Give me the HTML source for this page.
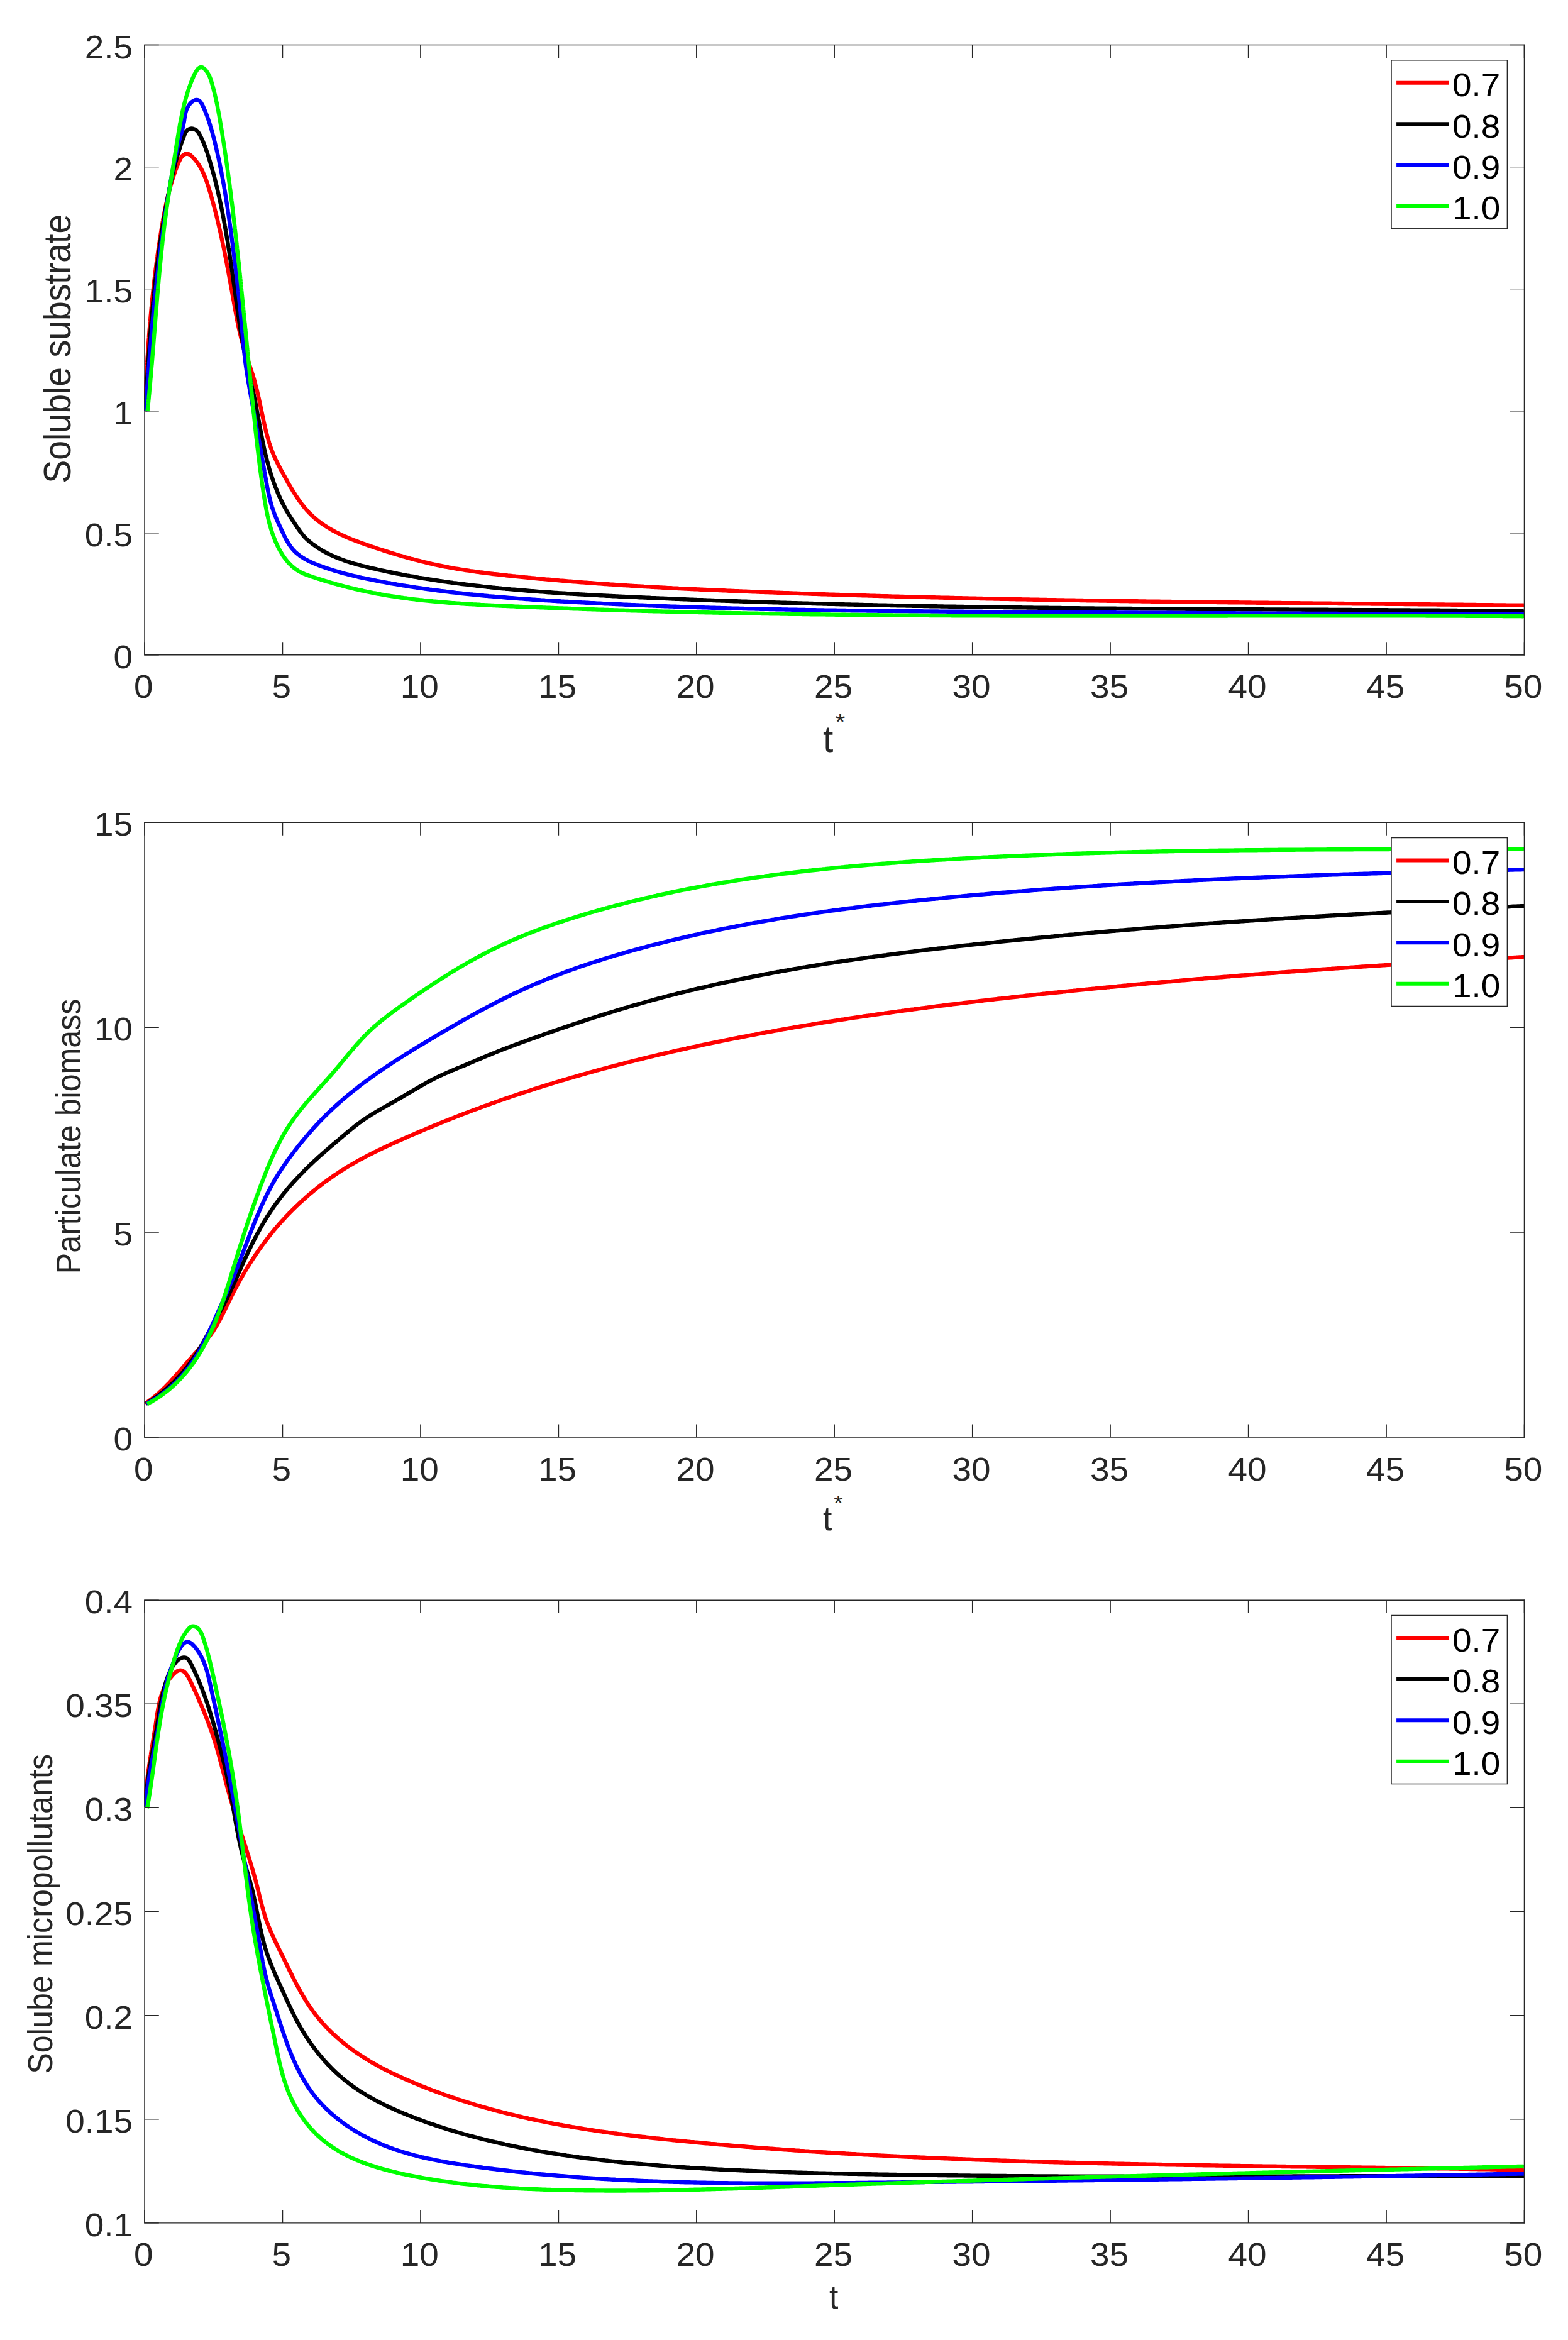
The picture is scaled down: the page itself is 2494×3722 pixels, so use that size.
<!DOCTYPE html>
<html><head><meta charset="utf-8"><title>Figure</title>
<style>html,body{margin:0;padding:0;background:#fff;}body{width:2494px;height:3722px;overflow:hidden;}svg{display:block;}</style>
</head><body>
<svg xmlns="http://www.w3.org/2000/svg" width="2494" height="3722" viewBox="0 0 2494 3722" font-family="'Liberation Sans', Arial, Helvetica, sans-serif">
<rect width="2494" height="3722" fill="#ffffff"/>
<clipPath id="c0"><rect x="229" y="70.5" width="2196.5" height="972.3"/></clipPath>
<g clip-path="url(#c0)" fill="none" stroke-width="6.4" stroke-linejoin="round" stroke-linecap="butt">
<path stroke="#ff0000" d="M230.5 654L230.6 651.5L230.7 649L230.8 646.5L230.9 644L231 641.5L231.1 639L231.2 636.5L231.3 634L231.4 631.5L231.5 629L231.6 626.5L231.7 624L231.8 621.5L232 619L232.1 616.5L232.2 614L232.3 611.5L232.4 609L232.5 606.5L232.7 604L232.8 601.5L232.9 599L233.1 596.5L233.2 594L233.3 591.5L233.5 589L233.6 586.5L233.7 584L233.9 581.5L234 579L234.2 576.5L234.3 574L234.5 571.6L234.6 569.1L234.8 566.6L235 564.1L235.1 561.6L235.3 559.1L235.4 556.6L235.6 554.1L235.8 551.6L236 549.1L236.1 546.6L236.3 544.1L236.5 541.6L236.7 539.2L236.9 536.7L237 534.2L237.2 531.7L237.4 529.2L237.6 526.7L237.8 524.2L238 521.7L238.2 519.2L238.4 516.7L238.6 514.3L238.9 511.8L239.1 509.3L239.3 506.8L239.5 504.3L239.7 501.8L240 499.3L240.2 496.8L240.4 494.4L240.6 491.9L240.9 489.4L241.1 486.9L241.4 484.4L241.6 481.9L241.9 479.5L242.1 477L242.4 474.5L242.6 472L242.9 469.5L243.1 467L243.4 464.5L243.7 462.1L243.9 459.6L244.2 457.1L244.5 454.6L244.8 452.1L245.1 449.7L245.3 447.2L245.6 444.7L245.9 442.2L246.2 439.7L246.5 437.3L246.8 434.8L247.1 432.3L247.4 429.8L247.7 427.3L248.1 424.9L248.4 422.4L248.7 419.9L249 417.4L249.4 414.9L249.7 412.5L250 410L250.4 407.5L250.7 405L251.1 402.6L251.4 400.1L251.8 397.6L252.1 395.1L252.5 392.6L252.8 390.2L253.2 387.7L253.6 385.2L253.9 382.7L254.3 380.3L254.7 377.8L255.1 375.3L255.5 372.8L255.9 370.4L256.3 367.9L256.7 365.4L257.1 362.9L257.5 360.5L257.9 358L258.3 355.5L258.7 353.1L259.2 350.6L259.6 348.1L260.1 345.7L260.5 343.2L261 340.8L261.4 338.3L261.9 335.8L262.4 333.4L262.9 330.9L263.4 328.5L263.9 326.1L264.4 323.6L265 321.2L265.5 318.8L266.1 316.3L266.6 313.9L267.2 311.5L267.8 309.1L268.4 306.7L269 304.3L269.6 301.9L270.3 299.5L270.9 297.1L271.6 294.7L272.3 292.3L273 290L273.7 287.6L274.4 285.2L275.2 282.9L275.9 280.5L276.7 278.2L277.5 275.9L278.3 273.5L279.1 271.2L280 268.9L280.8 266.6L281.8 264.2L282.7 261.8L283.7 259.4L284.8 257L286 254.5L287.2 252.1L288.7 249.8L290.3 247.8L292.2 246.3L294.3 245.2L296.6 244.6L298.8 244.7L300.9 245.5L302.9 246.8L304.8 248.4L306.6 250.2L308.3 252L310 253.9L311.6 255.8L313.1 257.8L314.6 259.8L316 261.8L317.3 263.9L318.6 266.1L319.8 268.2L321 270.4L322.1 272.6L323.1 274.9L324.2 277.1L325.1 279.4L326.1 281.8L327 284.1L327.9 286.5L328.7 288.8L329.5 291.2L330.3 293.6L331.1 296L331.9 298.4L332.6 300.8L333.3 303.3L334.1 305.7L334.8 308.1L335.5 310.5L336.2 312.9L336.9 315.4L337.5 317.8L338.2 320.2L338.9 322.6L339.5 325.1L340.2 327.5L340.8 329.9L341.5 332.4L342.1 334.8L342.7 337.2L343.4 339.6L344 342.1L344.6 344.5L345.2 346.9L345.8 349.4L346.4 351.8L346.9 354.2L347.5 356.7L348.1 359.1L348.6 361.5L349.2 364L349.8 366.4L350.3 368.8L350.9 371.3L351.4 373.7L351.9 376.1L352.5 378.6L353 381L353.5 383.5L354 385.9L354.5 388.3L355 390.8L355.6 393.2L356.1 395.7L356.6 398.1L357 400.6L357.5 403L358 405.4L358.5 407.9L359 410.3L359.5 412.8L359.9 415.2L360.4 417.7L360.9 420.1L361.3 422.6L361.8 425L362.3 427.5L362.7 429.9L363.2 432.4L363.6 434.8L364.1 437.3L364.6 439.7L365 442.2L365.5 444.6L365.9 447.1L366.4 449.5L366.8 452L367.2 454.5L367.7 456.9L368.1 459.4L368.6 461.8L369 464.3L369.5 466.7L369.9 469.2L370.3 471.7L370.8 474.1L371.2 476.6L371.7 479L372.1 481.5L372.6 484L373 486.4L373.4 488.9L373.9 491.4L374.3 493.8L374.8 496.3L375.2 498.8L375.7 501.2L376.2 503.7L376.6 506.1L377.1 508.6L377.6 511.1L378.1 513.5L378.6 516L379.1 518.4L379.6 520.9L380.1 523.3L380.7 525.8L381.2 528.2L381.8 530.6L382.4 533.1L383 535.5L383.6 537.9L384.2 540.3L384.8 542.7L385.5 545.1L386.2 547.6L386.9 550L387.6 552.3L388.3 554.7L389.1 557.1L389.8 559.5L390.6 561.9L391.4 564.2L392.1 566.6L392.9 569L393.7 571.4L394.5 573.7L395.3 576.1L396.1 578.4L396.9 580.8L397.7 583.2L398.5 585.5L399.3 587.9L400.1 590.3L400.8 592.7L401.6 595L402.3 597.4L403 599.8L403.8 602.2L404.5 604.6L405.1 607L405.8 609.4L406.4 611.8L407.1 614.2L407.7 616.6L408.3 619L408.9 621.5L409.4 623.9L410 626.3L410.6 628.7L411.1 631.2L411.7 633.6L412.2 636.1L412.7 638.5L413.2 640.9L413.8 643.4L414.3 645.8L414.8 648.3L415.3 650.7L415.8 653.2L416.3 655.6L416.9 658.1L417.4 660.5L417.9 663L418.4 665.4L418.9 667.9L419.5 670.3L420 672.8L420.6 675.2L421.2 677.7L421.7 680.1L422.3 682.6L422.9 685L423.5 687.4L424.1 689.9L424.8 692.3L425.4 694.7L426.1 697.2L426.8 699.6L427.5 702L428.2 704.4L429 706.8L429.8 709.2L430.6 711.5L431.4 713.9L432.3 716.2L433.2 718.6L434.1 720.9L435 723.1L436 725.4L437 727.7L438 729.9L439.1 732.1L440.2 734.3L441.3 736.5L442.4 738.7L443.5 740.9L444.7 743.1L445.8 745.3L447 747.5L448.2 749.7L449.4 751.9L450.6 754L451.8 756.2L453 758.4L454.2 760.7L455.5 762.9L456.7 765.1L457.9 767.3L459.2 769.5L460.4 771.7L461.7 773.9L463 776.1L464.3 778.2L465.6 780.4L466.9 782.6L468.3 784.7L469.6 786.9L471 789L472.4 791.1L473.8 793.2L475.3 795.3L476.7 797.3L478.2 799.3L479.7 801.4L481.2 803.3L482.8 805.3L484.3 807.2L485.9 809.1L487.5 811L489.2 812.8L490.9 814.7L492.6 816.4L494.3 818.2L496.1 819.9L497.9 821.5L499.7 823.2L501.6 824.8L503.4 826.4L505.4 827.9L507.3 829.4L509.3 830.9L511.2 832.3L513.2 833.7L515.3 835.1L517.3 836.5L519.4 837.8L521.5 839.1L523.6 840.4L525.8 841.7L527.9 842.9L530.1 844.1L532.3 845.3L534.5 846.5L536.7 847.6L539 848.7L541.2 849.8L543.5 850.9L545.8 851.9L548.1 853L550.4 854L552.7 855L555 856L557.4 857L559.7 857.9L562.1 858.9L564.4 859.8L566.8 860.7L569.2 861.6L571.6 862.5L574 863.4L576.4 864.2L578.8 865.1L581.2 865.9L583.6 866.8L586 867.6L588.4 868.4L590.8 869.2L593.2 870.1L595.6 870.9L598 871.7L600.4 872.5L602.8 873.3L605.2 874L607.6 874.8L610 875.6L612.4 876.4L614.8 877.1L617.2 877.9L619.6 878.6L621.9 879.4L624.3 880.1L626.7 880.8L629.1 881.6L631.5 882.3L633.9 883L636.3 883.7L638.7 884.4L641.1 885.1L643.5 885.8L645.9 886.5L648.3 887.1L650.7 887.8L653.1 888.5L655.5 889.1L657.9 889.7L660.3 890.4L662.7 891L665.1 891.6L667.5 892.2L669.9 892.8L672.3 893.4L674.7 894L677.1 894.6L679.5 895.2L682 895.8L684.4 896.3L686.8 896.9L689.2 897.4L691.6 898L694.1 898.5L696.5 899L698.9 899.5L701.3 900L703.8 900.5L706.2 901L708.7 901.5L711.1 901.9L713.5 902.4L716 902.8L718.4 903.3L720.9 903.7L723.3 904.2L725.8 904.6L728.3 905L730.7 905.4L733.2 905.8L735.6 906.2L738.1 906.6L740.6 907L743 907.3L745.5 907.7L748 908.1L750.5 908.4L752.9 908.8L755.4 909.1L757.9 909.5L760.4 909.8L762.8 910.2L765.3 910.5L767.8 910.8L770.3 911.1L772.8 911.4L775.3 911.8L777.7 912.1L780.2 912.4L782.7 912.7L785.2 913L787.7 913.2L790.2 913.5L792.7 913.8L795.2 914.1L797.6 914.4L800.1 914.7L802.6 914.9L805.1 915.2L807.6 915.5L810.1 915.7L812.6 916L815.1 916.3L817.6 916.5L820.1 916.8L822.6 917L825.1 917.3L827.6 917.5L830.1 917.8L832.5 918L835 918.3L837.5 918.5L840 918.8L842.5 919L845 919.3L847.5 919.5L850 919.7L852.5 920L855 920.2L857.5 920.5L860 920.7L862.5 920.9L865 921.1L867.5 921.4L869.9 921.6L872.4 921.8L874.9 922L877.4 922.3L879.9 922.5L882.4 922.7L884.9 922.9L887.4 923.1L889.9 923.4L892.4 923.6L894.9 923.8L897.4 924L899.9 924.2L902.4 924.4L904.9 924.6L907.4 924.8L909.8 925L912.3 925.2L914.8 925.4L917.3 925.6L919.8 925.8L922.3 926L924.8 926.2L927.3 926.4L929.8 926.6L932.3 926.8L934.8 927L937.3 927.2L939.8 927.3L942.3 927.5L944.8 927.7L947.3 927.9L949.8 928.1L952.2 928.3L954.7 928.4L957.2 928.6L959.7 928.8L962.2 929L964.7 929.1L967.2 929.3L969.7 929.5L972.2 929.6L974.7 929.8L977.2 930L979.7 930.2L982.2 930.3L984.7 930.5L987.2 930.6L989.7 930.8L992.2 931L994.7 931.1L997.1 931.3L999.6 931.4L1002.1 931.6L1004.6 931.8L1007.1 931.9L1009.6 932.1L1012.1 932.2L1014.6 932.4L1017.1 932.5L1019.6 932.7L1022.1 932.8L1024.6 933L1027.1 933.1L1029.6 933.3L1032.1 933.4L1034.6 933.5L1037.1 933.7L1039.6 933.8L1042.1 934L1044.6 934.1L1047.1 934.2L1049.5 934.4L1052 934.5L1054.5 934.7L1057 934.8L1059.5 934.9L1062 935.1L1064.5 935.2L1067 935.3L1069.5 935.5L1072 935.6L1074.5 935.7L1077 935.8L1079.5 936L1082 936.1L1084.5 936.2L1087 936.3L1089.5 936.5L1092 936.6L1094.5 936.7L1097 936.8L1099.5 937L1102 937.1L1104.4 937.2L1106.9 937.3L1109.4 937.4L1111.9 937.5L1114.4 937.7L1116.9 937.8L1119.4 937.9L1121.9 938L1124.4 938.1L1126.9 938.2L1129.4 938.4L1131.9 938.5L1134.4 938.6L1136.9 938.7L1139.4 938.8L1141.9 938.9L1144.4 939L1146.9 939.1L1149.4 939.2L1151.9 939.3L1154.4 939.4L1156.9 939.6L1159.4 939.7L1161.9 939.8L1164.4 939.9L1166.9 940L1169.3 940.1L1171.8 940.2L1174.3 940.3L1176.8 940.4L1179.3 940.5L1181.8 940.6L1184.3 940.7L1186.8 940.8L1189.3 940.9L1191.8 941L1194.3 941.1L1196.8 941.2L1199.3 941.3L1201.8 941.4L1204.3 941.5L1206.8 941.6L1209.3 941.7L1211.8 941.8L1214.3 941.9L1216.8 942L1219.3 942L1221.8 942.1L1224.3 942.2L1226.8 942.3L1229.3 942.4L1231.8 942.5L1234.3 942.6L1236.8 942.7L1239.3 942.8L1241.8 942.9L1244.3 943L1246.8 943.1L1249.2 943.2L1251.7 943.3L1254.2 943.3L1256.7 943.4L1259.2 943.5L1261.7 943.6L1264.2 943.7L1266.7 943.8L1269.2 943.9L1271.7 944L1274.2 944.1L1276.7 944.1L1279.2 944.2L1281.7 944.3L1284.2 944.4L1286.7 944.5L1289.2 944.6L1291.7 944.7L1294.2 944.7L1296.7 944.8L1299.2 944.9L1301.7 945L1304.2 945.1L1306.7 945.2L1309.2 945.2L1311.7 945.3L1314.2 945.4L1316.7 945.5L1319.2 945.6L1321.7 945.6L1324.2 945.7L1326.7 945.8L1329.2 945.9L1331.7 946L1334.2 946L1336.7 946.1L1339.2 946.2L1341.7 946.3L1344.2 946.4L1346.7 946.4L1349.2 946.5L1351.7 946.6L1354.2 946.7L1356.7 946.7L1359.1 946.8L1361.6 946.9L1364.1 947L1366.6 947L1369.1 947.1L1371.6 947.2L1374.1 947.3L1376.6 947.3L1379.1 947.4L1381.6 947.5L1384.1 947.6L1386.6 947.6L1389.1 947.7L1391.6 947.8L1394.1 947.9L1396.6 947.9L1399.1 948L1401.6 948.1L1404.1 948.1L1406.6 948.2L1409.1 948.3L1411.6 948.3L1414.1 948.4L1416.6 948.5L1419.1 948.6L1421.6 948.6L1424.1 948.7L1426.6 948.8L1429.1 948.8L1431.6 948.9L1434.1 949L1436.6 949L1439.1 949.1L1441.6 949.2L1444.1 949.2L1446.6 949.3L1449.1 949.4L1451.6 949.4L1454.1 949.5L1456.6 949.6L1459.1 949.6L1461.6 949.7L1464.1 949.7L1466.6 949.8L1469.1 949.9L1471.6 949.9L1474.1 950L1476.6 950.1L1479.1 950.1L1481.6 950.2L1484.1 950.2L1486.6 950.3L1489.1 950.4L1491.6 950.4L1494.1 950.5L1496.6 950.6L1499.1 950.6L1501.6 950.7L1504.1 950.7L1506.6 950.8L1509.1 950.8L1511.6 950.9L1514.1 951L1516.6 951L1519.1 951.1L1521.6 951.1L1524.1 951.2L1526.6 951.3L1529.1 951.3L1531.6 951.4L1534.1 951.4L1536.6 951.5L1539.1 951.5L1541.6 951.6L1544.1 951.7L1546.6 951.7L1549.1 951.8L1551.6 951.8L1554.1 951.9L1556.6 951.9L1559.1 952L1561.6 952L1564.1 952.1L1566.6 952.1L1569.1 952.2L1571.6 952.2L1574.1 952.3L1576.6 952.4L1579.1 952.4L1581.6 952.5L1584.1 952.5L1586.6 952.6L1589 952.6L1591.5 952.7L1594 952.7L1596.5 952.8L1599 952.8L1601.5 952.9L1604 952.9L1606.5 953L1609 953L1611.5 953.1L1614 953.1L1616.5 953.2L1619 953.2L1621.5 953.3L1624 953.3L1626.5 953.4L1629 953.4L1631.5 953.4L1634 953.5L1636.5 953.5L1639 953.6L1641.5 953.6L1644 953.7L1646.5 953.7L1649 953.8L1651.5 953.8L1654 953.9L1656.5 953.9L1659 954L1661.5 954L1664 954L1666.5 954.1L1669 954.1L1671.5 954.2L1674 954.2L1676.5 954.3L1679 954.3L1681.5 954.4L1684 954.4L1686.5 954.4L1689 954.5L1691.5 954.5L1694 954.6L1696.5 954.6L1699 954.7L1701.5 954.7L1704 954.7L1706.5 954.8L1709 954.8L1711.5 954.9L1714 954.9L1716.5 954.9L1719 955L1721.5 955L1724 955.1L1726.5 955.1L1729 955.2L1731.5 955.2L1734 955.2L1736.5 955.3L1739 955.3L1741.5 955.3L1744 955.4L1746.5 955.4L1749 955.5L1751.5 955.5L1754 955.5L1756.5 955.6L1759 955.6L1761.5 955.7L1764 955.7L1766.5 955.7L1769 955.8L1771.5 955.8L1774 955.8L1776.5 955.9L1779 955.9L1781.5 956L1784 956L1786.5 956L1789 956.1L1791.5 956.1L1794 956.1L1796.5 956.2L1799 956.2L1801.5 956.2L1804 956.3L1806.5 956.3L1809 956.3L1811.5 956.4L1814 956.4L1816.5 956.5L1819 956.5L1821.5 956.5L1824 956.6L1826.5 956.6L1829 956.6L1831.5 956.7L1834 956.7L1836.5 956.7L1839 956.8L1841.5 956.8L1844 956.8L1846.5 956.9L1849 956.9L1851.5 956.9L1854 957L1856.5 957L1859 957L1861.5 957L1864 957.1L1866.5 957.1L1869 957.1L1871.5 957.2L1874 957.2L1876.5 957.2L1879 957.3L1881.5 957.3L1884 957.3L1886.5 957.4L1889 957.4L1891.5 957.4L1894.1 957.5L1896.6 957.5L1899.1 957.5L1901.6 957.5L1904.1 957.6L1906.6 957.6L1909.1 957.6L1911.6 957.7L1914.1 957.7L1916.6 957.7L1919.1 957.8L1921.6 957.8L1924.1 957.8L1926.6 957.8L1929.1 957.9L1931.6 957.9L1934.1 957.9L1936.6 958L1939.1 958L1941.6 958L1944.1 958L1946.6 958.1L1949.1 958.1L1951.6 958.1L1954.1 958.2L1956.6 958.2L1959.1 958.2L1961.6 958.2L1964.1 958.3L1966.6 958.3L1969.1 958.3L1971.6 958.4L1974.1 958.4L1976.6 958.4L1979.1 958.4L1981.6 958.5L1984.1 958.5L1986.6 958.5L1989.1 958.5L1991.6 958.6L1994.1 958.6L1996.6 958.6L1999.1 958.7L2001.6 958.7L2004.1 958.7L2006.6 958.7L2009.1 958.8L2011.6 958.8L2014.1 958.8L2016.6 958.8L2019.1 958.9L2021.6 958.9L2024.1 958.9L2026.6 958.9L2029.1 959L2031.6 959L2034.1 959L2036.6 959L2039.1 959.1L2041.6 959.1L2044.1 959.1L2046.6 959.1L2049.1 959.2L2051.6 959.2L2054.1 959.2L2056.6 959.2L2059.1 959.3L2061.6 959.3L2064.1 959.3L2066.6 959.3L2069.1 959.4L2071.6 959.4L2074.1 959.4L2076.6 959.4L2079.1 959.5L2081.6 959.5L2084.1 959.5L2086.6 959.5L2089.1 959.6L2091.6 959.6L2094.1 959.6L2096.6 959.6L2099.1 959.7L2101.6 959.7L2104.1 959.7L2106.6 959.7L2109.1 959.8L2111.6 959.8L2114.1 959.8L2116.6 959.8L2119.1 959.9L2121.6 959.9L2124.1 959.9L2126.6 959.9L2129.1 960L2131.6 960L2134.1 960L2136.6 960L2139.1 960.1L2141.6 960.1L2144.1 960.1L2146.6 960.1L2149.1 960.1L2151.6 960.2L2154.1 960.2L2156.6 960.2L2159.1 960.2L2161.6 960.3L2164.1 960.3L2166.6 960.3L2169.1 960.3L2171.6 960.4L2174.1 960.4L2176.6 960.4L2179.1 960.4L2181.6 960.5L2184.1 960.5L2186.6 960.5L2189.1 960.5L2191.6 960.5L2194.1 960.6L2196.6 960.6L2199.1 960.6L2201.6 960.6L2204.1 960.7L2206.6 960.7L2209.1 960.7L2211.6 960.7L2214.1 960.8L2216.6 960.8L2219.1 960.8L2221.6 960.8L2224.1 960.9L2226.6 960.9L2229.1 960.9L2231.6 960.9L2234.1 961L2236.6 961L2239.1 961L2241.5 961L2244 961L2246.5 961.1L2249 961.1L2251.5 961.1L2254 961.1L2256.5 961.2L2259 961.2L2261.5 961.2L2264 961.2L2266.5 961.3L2269 961.3L2271.5 961.3L2274 961.3L2276.5 961.4L2279 961.4L2281.5 961.4L2284 961.4L2286.5 961.5L2289 961.5L2291.5 961.5L2294 961.5L2296.5 961.5L2299 961.6L2301.5 961.6L2304 961.6L2306.5 961.6L2309 961.7L2311.5 961.7L2314 961.7L2316.5 961.7L2319 961.8L2321.5 961.8L2324 961.8L2326.5 961.8L2329 961.9L2331.5 961.9L2334 961.9L2336.5 961.9L2339 962L2341.5 962L2344 962L2346.5 962L2349 962.1L2351.5 962.1L2354 962.1L2356.5 962.1L2359 962.2L2361.5 962.2L2364 962.2L2366.5 962.2L2369 962.3L2371.5 962.3L2374 962.3L2376.5 962.4L2379 962.4L2381.5 962.4L2384 962.4L2386.5 962.5L2389 962.5L2391.5 962.5L2394 962.5L2396.5 962.6L2399 962.6L2401.5 962.6L2404 962.6L2406.5 962.7L2409 962.7L2411.5 962.7L2414 962.7L2416.5 962.8L2419 962.8L2421.5 962.8L2424 962.7"/>
<path stroke="#000000" d="M231 654L231.1 651.5L231.3 649L231.4 646.5L231.6 644L231.7 641.5L231.9 639L232 636.5L232.2 634.1L232.3 631.6L232.5 629.1L232.6 626.6L232.8 624.1L232.9 621.6L233.1 619.1L233.2 616.6L233.4 614.1L233.5 611.6L233.7 609.1L233.8 606.6L234 604.1L234.1 601.6L234.3 599.1L234.5 596.7L234.6 594.2L234.8 591.7L234.9 589.2L235.1 586.7L235.3 584.2L235.4 581.7L235.6 579.2L235.8 576.7L235.9 574.2L236.1 571.7L236.3 569.2L236.5 566.7L236.6 564.2L236.8 561.7L237 559.2L237.2 556.8L237.4 554.3L237.6 551.8L237.7 549.3L237.9 546.8L238.1 544.3L238.3 541.8L238.5 539.3L238.7 536.8L238.9 534.3L239.1 531.8L239.3 529.3L239.5 526.8L239.7 524.4L239.9 521.9L240.1 519.4L240.3 516.9L240.5 514.4L240.7 511.9L241 509.4L241.2 506.9L241.4 504.4L241.6 501.9L241.8 499.4L242.1 497L242.3 494.5L242.5 492L242.8 489.5L243 487L243.2 484.5L243.5 482L243.7 479.5L244 477L244.2 474.6L244.5 472.1L244.7 469.6L245 467.1L245.2 464.6L245.5 462.1L245.8 459.6L246 457.2L246.3 454.7L246.6 452.2L246.8 449.7L247.1 447.2L247.4 444.7L247.7 442.3L248 439.8L248.2 437.3L248.5 434.8L248.8 432.3L249.1 429.8L249.4 427.4L249.7 424.9L250 422.4L250.3 419.9L250.6 417.4L251 415L251.3 412.5L251.6 410L251.9 407.5L252.3 405.1L252.6 402.6L252.9 400.1L253.3 397.6L253.6 395.2L253.9 392.7L254.3 390.2L254.6 387.7L255 385.3L255.3 382.8L255.7 380.3L256.1 377.8L256.4 375.4L256.8 372.9L257.2 370.4L257.6 368L257.9 365.5L258.3 363L258.7 360.6L259.1 358.1L259.5 355.6L259.9 353.2L260.3 350.7L260.7 348.2L261.1 345.8L261.6 343.3L262 340.8L262.4 338.4L262.8 335.9L263.3 333.5L263.7 331L264.1 328.5L264.6 326.1L265 323.6L265.5 321.2L265.9 318.7L266.4 316.3L266.9 313.8L267.3 311.3L267.8 308.9L268.3 306.4L268.8 304L269.3 301.5L269.8 299.1L270.3 296.6L270.8 294.2L271.3 291.7L271.8 289.3L272.3 286.9L272.9 284.4L273.4 282L274 279.5L274.6 277.1L275.1 274.7L275.7 272.2L276.3 269.8L276.9 267.4L277.5 265L278.1 262.6L278.8 260.1L279.4 257.7L280.1 255.3L280.7 252.9L281.4 250.5L282.1 248.1L282.8 245.7L283.5 243.3L284.3 240.9L285 238.5L285.8 236.2L286.5 233.8L287.3 231.4L288.1 229L288.9 226.7L289.8 224.3L290.6 222L291.5 219.6L292.4 217.3L293.3 214.9L294.2 212.6L295.2 210.4L296.6 208.4L298.3 206.7L300.4 205.5L302.7 204.8L305.1 204.5L307.6 204.9L309.9 205.7L312 207L313.9 208.7L315.5 210.7L316.8 212.8L318.1 215.1L319.2 217.4L320.4 219.7L321.4 222L322.5 224.3L323.5 226.7L324.5 229L325.4 231.4L326.3 233.7L327.2 236.1L328 238.4L328.9 240.8L329.7 243.1L330.4 245.5L331.2 247.9L332 250.3L332.7 252.7L333.4 255L334.1 257.4L334.8 259.8L335.5 262.2L336.2 264.6L336.9 267L337.6 269.4L338.2 271.8L338.9 274.2L339.6 276.6L340.2 279L340.8 281.4L341.5 283.8L342.1 286.2L342.7 288.7L343.3 291.1L343.9 293.5L344.5 295.9L345.1 298.3L345.6 300.8L346.2 303.2L346.8 305.6L347.3 308L347.9 310.5L348.4 312.9L349 315.3L349.5 317.8L350 320.2L350.6 322.7L351.1 325.1L351.6 327.5L352.1 330L352.6 332.4L353.1 334.9L353.6 337.3L354.1 339.8L354.5 342.2L355 344.7L355.5 347.1L355.9 349.6L356.4 352.1L356.8 354.5L357.3 357L357.7 359.4L358.2 361.9L358.6 364.4L359 366.8L359.5 369.3L359.9 371.7L360.3 374.2L360.7 376.7L361.1 379.1L361.6 381.6L362 384.1L362.4 386.5L362.8 389L363.2 391.5L363.5 394L363.9 396.4L364.3 398.9L364.7 401.4L365.1 403.9L365.5 406.3L365.8 408.8L366.2 411.3L366.6 413.8L366.9 416.2L367.3 418.7L367.7 421.2L368 423.7L368.4 426.1L368.7 428.6L369.1 431.1L369.5 433.6L369.8 436L370.2 438.5L370.5 441L370.9 443.5L371.2 445.9L371.5 448.4L371.9 450.9L372.2 453.4L372.6 455.9L372.9 458.3L373.3 460.8L373.6 463.3L374 465.8L374.3 468.2L374.6 470.7L375 473.2L375.3 475.7L375.7 478.1L376 480.6L376.4 483.1L376.7 485.6L377.1 488L377.4 490.5L377.8 493L378.1 495.4L378.5 497.9L378.8 500.4L379.2 502.9L379.6 505.3L379.9 507.8L380.3 510.3L380.7 512.7L381 515.2L381.4 517.7L381.8 520.1L382.2 522.6L382.6 525.1L383 527.5L383.4 530L383.8 532.4L384.2 534.9L384.6 537.4L385.1 539.8L385.5 542.3L385.9 544.7L386.4 547.2L386.8 549.7L387.3 552.1L387.7 554.6L388.2 557L388.6 559.5L389.1 561.9L389.6 564.4L390.1 566.8L390.6 569.3L391.1 571.7L391.6 574.2L392.1 576.6L392.7 579.1L393.2 581.5L393.7 583.9L394.3 586.4L394.8 588.8L395.4 591.3L395.9 593.7L396.5 596.2L397 598.6L397.6 601L398.2 603.5L398.7 605.9L399.3 608.4L399.8 610.8L400.4 613.2L400.9 615.7L401.5 618.1L402 620.6L402.6 623L403.1 625.4L403.6 627.9L404.2 630.3L404.7 632.8L405.2 635.2L405.7 637.7L406.2 640.1L406.6 642.5L407.1 645L407.6 647.4L408 649.9L408.5 652.3L409 654.8L409.4 657.2L409.8 659.7L410.3 662.1L410.7 664.6L411.2 667L411.6 669.5L412.1 671.9L412.5 674.4L412.9 676.8L413.4 679.3L413.8 681.7L414.3 684.2L414.8 686.6L415.2 689.1L415.7 691.5L416.2 694L416.7 696.4L417.1 698.9L417.6 701.3L418.1 703.8L418.7 706.2L419.2 708.7L419.7 711.1L420.2 713.6L420.8 716L421.4 718.5L421.9 720.9L422.5 723.4L423.1 725.8L423.7 728.2L424.3 730.6L424.9 733.1L425.6 735.5L426.2 737.9L426.9 740.3L427.5 742.7L428.2 745.1L428.9 747.5L429.6 749.9L430.4 752.3L431.1 754.7L431.9 757.1L432.7 759.5L433.5 761.8L434.3 764.2L435.1 766.6L435.9 768.9L436.8 771.2L437.7 773.6L438.6 775.9L439.5 778.2L440.4 780.5L441.4 782.8L442.3 785.1L443.3 787.4L444.3 789.7L445.4 792L446.4 794.2L447.5 796.5L448.6 798.7L449.7 801L450.8 803.2L452 805.4L453.2 807.6L454.4 809.8L455.6 812L456.9 814.2L458.2 816.3L459.5 818.5L460.8 820.6L462.1 822.7L463.5 824.9L464.9 827L466.3 829.1L467.7 831.1L469.1 833.2L470.4 835.2L471.8 837.3L473.2 839.3L474.6 841.3L476 843.3L477.4 845.3L478.8 847.2L480.3 849.1L481.8 851L483.4 852.9L485.1 854.7L486.8 856.4L488.6 858.2L490.5 859.8L492.4 861.5L494.3 863.1L496.3 864.7L498.3 866.2L500.4 867.7L502.5 869.2L504.6 870.6L506.7 872L508.9 873.4L511.1 874.7L513.3 876L515.5 877.2L517.7 878.4L519.9 879.6L522.2 880.8L524.4 881.9L526.7 883L529 884L531.3 885L533.6 886L535.9 887L538.2 887.9L540.5 888.8L542.8 889.7L545.2 890.6L547.5 891.4L549.9 892.3L552.2 893.1L554.6 893.8L557 894.6L559.3 895.3L561.7 896L564.1 896.7L566.5 897.4L568.9 898.1L571.3 898.7L573.7 899.4L576.1 900L578.5 900.6L581 901.2L583.4 901.8L585.8 902.4L588.2 903L590.7 903.6L593.1 904.1L595.5 904.7L598 905.2L600.4 905.8L602.8 906.3L605.3 906.9L607.7 907.4L610.2 907.9L612.6 908.4L615 909L617.5 909.5L619.9 910L622.4 910.5L624.8 911L627.3 911.5L629.7 912L632.2 912.5L634.6 912.9L637.1 913.4L639.6 913.9L642 914.3L644.5 914.8L646.9 915.3L649.4 915.7L651.8 916.2L654.3 916.6L656.8 917L659.2 917.5L661.7 917.9L664.2 918.3L666.6 918.8L669.1 919.2L671.6 919.6L674 920L676.5 920.4L679 920.8L681.4 921.2L683.9 921.6L686.4 922L688.8 922.4L691.3 922.8L693.8 923.1L696.3 923.5L698.7 923.9L701.2 924.3L703.7 924.6L706.2 925L708.6 925.3L711.1 925.7L713.6 926L716.1 926.4L718.5 926.7L721 927.1L723.5 927.4L726 927.7L728.5 928.1L730.9 928.4L733.4 928.7L735.9 929L738.4 929.3L740.9 929.6L743.3 929.9L745.8 930.3L748.3 930.6L750.8 930.9L753.3 931.1L755.7 931.4L758.2 931.7L760.7 932L763.2 932.3L765.7 932.6L768.2 932.9L770.6 933.1L773.1 933.4L775.6 933.7L778.1 933.9L780.6 934.2L783.1 934.5L785.6 934.7L788 935L790.5 935.2L793 935.5L795.5 935.7L798 936L800.5 936.2L803 936.4L805.4 936.7L807.9 936.9L810.4 937.1L812.9 937.4L815.4 937.6L817.9 937.8L820.4 938L822.9 938.2L825.3 938.5L827.8 938.7L830.3 938.9L832.8 939.1L835.3 939.3L837.8 939.5L840.3 939.7L842.8 939.9L845.3 940.1L847.8 940.3L850.2 940.5L852.7 940.7L855.2 940.9L857.7 941.1L860.2 941.3L862.7 941.4L865.2 941.6L867.7 941.8L870.2 942L872.7 942.2L875.2 942.3L877.6 942.5L880.1 942.7L882.6 942.9L885.1 943L887.6 943.2L890.1 943.4L892.6 943.5L895.1 943.7L897.6 943.8L900.1 944L902.6 944.2L905.1 944.3L907.6 944.5L910.1 944.6L912.6 944.8L915 944.9L917.5 945.1L920 945.2L922.5 945.4L925 945.5L927.5 945.6L930 945.8L932.5 945.9L935 946.1L937.5 946.2L940 946.3L942.5 946.5L945 946.6L947.5 946.8L950 946.9L952.5 947L955 947.2L957.5 947.3L960 947.4L962.4 947.5L964.9 947.7L967.4 947.8L969.9 947.9L972.4 948L974.9 948.2L977.4 948.3L979.9 948.4L982.4 948.5L984.9 948.7L987.4 948.8L989.9 948.9L992.4 949L994.9 949.1L997.4 949.3L999.9 949.4L1002.4 949.5L1004.9 949.6L1007.4 949.7L1009.9 949.8L1012.4 949.9L1014.9 950.1L1017.4 950.2L1019.9 950.3L1022.4 950.4L1024.9 950.5L1027.3 950.6L1029.8 950.7L1032.3 950.8L1034.8 951L1037.3 951.1L1039.8 951.2L1042.3 951.3L1044.8 951.4L1047.3 951.5L1049.8 951.6L1052.3 951.7L1054.8 951.8L1057.3 951.9L1059.8 952L1062.3 952.1L1064.8 952.2L1067.3 952.3L1069.8 952.5L1072.3 952.6L1074.8 952.7L1077.3 952.8L1079.8 952.9L1082.3 953L1084.8 953.1L1087.3 953.2L1089.8 953.3L1092.3 953.4L1094.8 953.5L1097.3 953.6L1099.8 953.7L1102.3 953.8L1104.7 953.9L1107.2 954L1109.7 954.1L1112.2 954.1L1114.7 954.2L1117.2 954.3L1119.7 954.4L1122.2 954.5L1124.7 954.6L1127.2 954.7L1129.7 954.8L1132.2 954.9L1134.7 955L1137.2 955.1L1139.7 955.2L1142.2 955.3L1144.7 955.4L1147.2 955.5L1149.7 955.5L1152.2 955.6L1154.7 955.7L1157.2 955.8L1159.7 955.9L1162.2 956L1164.7 956.1L1167.2 956.2L1169.7 956.2L1172.2 956.3L1174.7 956.4L1177.2 956.5L1179.7 956.6L1182.2 956.7L1184.7 956.8L1187.2 956.8L1189.7 956.9L1192.1 957L1194.6 957.1L1197.1 957.2L1199.6 957.3L1202.1 957.3L1204.6 957.4L1207.1 957.5L1209.6 957.6L1212.1 957.7L1214.6 957.7L1217.1 957.8L1219.6 957.9L1222.1 958L1224.6 958L1227.1 958.1L1229.6 958.2L1232.1 958.3L1234.6 958.4L1237.1 958.4L1239.6 958.5L1242.1 958.6L1244.6 958.7L1247.1 958.7L1249.6 958.8L1252.1 958.9L1254.6 958.9L1257.1 959L1259.6 959.1L1262.1 959.2L1264.6 959.2L1267.1 959.3L1269.6 959.4L1272.1 959.5L1274.6 959.5L1277.1 959.6L1279.6 959.7L1282.1 959.7L1284.6 959.8L1287.1 959.9L1289.6 959.9L1292.1 960L1294.5 960.1L1297 960.1L1299.5 960.2L1302 960.3L1304.5 960.3L1307 960.4L1309.5 960.5L1312 960.5L1314.5 960.6L1317 960.7L1319.5 960.7L1322 960.8L1324.5 960.9L1327 960.9L1329.5 961L1332 961L1334.5 961.1L1337 961.2L1339.5 961.2L1342 961.3L1344.5 961.4L1347 961.4L1349.5 961.5L1352 961.5L1354.5 961.6L1357 961.6L1359.5 961.7L1362 961.8L1364.5 961.8L1367 961.9L1369.5 961.9L1372 962L1374.5 962.1L1377 962.1L1379.5 962.2L1382 962.2L1384.5 962.3L1387 962.3L1389.5 962.4L1392 962.4L1394.5 962.5L1397 962.6L1399.5 962.6L1402 962.7L1404.5 962.7L1407 962.8L1409.5 962.8L1412 962.9L1414.5 962.9L1417 963L1419.5 963L1422 963.1L1424.4 963.1L1426.9 963.2L1429.4 963.2L1431.9 963.3L1434.4 963.3L1436.9 963.4L1439.4 963.4L1441.9 963.5L1444.4 963.5L1446.9 963.6L1449.4 963.6L1451.9 963.7L1454.4 963.7L1456.9 963.8L1459.4 963.8L1461.9 963.9L1464.4 963.9L1466.9 963.9L1469.4 964L1471.9 964L1474.4 964.1L1476.9 964.1L1479.4 964.2L1481.9 964.2L1484.4 964.3L1486.9 964.3L1489.4 964.3L1491.9 964.4L1494.4 964.4L1496.9 964.5L1499.4 964.5L1501.9 964.6L1504.4 964.6L1506.9 964.6L1509.4 964.7L1511.9 964.7L1514.4 964.8L1516.9 964.8L1519.4 964.8L1521.9 964.9L1524.4 964.9L1526.9 965L1529.4 965L1531.9 965L1534.4 965.1L1536.9 965.1L1539.4 965.2L1541.9 965.2L1544.4 965.2L1546.9 965.3L1549.4 965.3L1551.9 965.3L1554.4 965.4L1556.9 965.4L1559.4 965.5L1561.9 965.5L1564.4 965.5L1566.9 965.6L1569.4 965.6L1571.9 965.6L1574.4 965.7L1576.9 965.7L1579.4 965.7L1581.9 965.8L1584.4 965.8L1586.9 965.8L1589.4 965.9L1591.9 965.9L1594.4 965.9L1596.9 966L1599.3 966L1601.8 966L1604.3 966.1L1606.8 966.1L1609.3 966.1L1611.8 966.2L1614.3 966.2L1616.8 966.2L1619.3 966.3L1621.8 966.3L1624.3 966.3L1626.8 966.4L1629.3 966.4L1631.8 966.4L1634.3 966.5L1636.8 966.5L1639.3 966.5L1641.8 966.5L1644.3 966.6L1646.8 966.6L1649.3 966.6L1651.8 966.7L1654.3 966.7L1656.8 966.7L1659.3 966.7L1661.8 966.8L1664.3 966.8L1666.8 966.8L1669.3 966.9L1671.8 966.9L1674.3 966.9L1676.8 966.9L1679.3 967L1681.8 967L1684.3 967L1686.8 967L1689.3 967.1L1691.8 967.1L1694.3 967.1L1696.8 967.1L1699.3 967.2L1701.8 967.2L1704.3 967.2L1706.8 967.2L1709.3 967.3L1711.8 967.3L1714.3 967.3L1716.8 967.3L1719.3 967.4L1721.8 967.4L1724.3 967.4L1726.8 967.4L1729.3 967.5L1731.8 967.5L1734.3 967.5L1736.8 967.5L1739.3 967.5L1741.8 967.6L1744.3 967.6L1746.8 967.6L1749.3 967.6L1751.8 967.7L1754.3 967.7L1756.8 967.7L1759.3 967.7L1761.8 967.7L1764.3 967.8L1766.8 967.8L1769.3 967.8L1771.8 967.8L1774.3 967.8L1776.8 967.9L1779.3 967.9L1781.8 967.9L1784.3 967.9L1786.8 967.9L1789.3 968L1791.8 968L1794.3 968L1796.8 968L1799.3 968L1801.8 968.1L1804.3 968.1L1806.8 968.1L1809.3 968.1L1811.8 968.1L1814.3 968.2L1816.8 968.2L1819.3 968.2L1821.8 968.2L1824.3 968.2L1826.8 968.3L1829.3 968.3L1831.8 968.3L1834.3 968.3L1836.8 968.3L1839.3 968.3L1841.7 968.4L1844.2 968.4L1846.7 968.4L1849.2 968.4L1851.7 968.4L1854.2 968.4L1856.7 968.5L1859.2 968.5L1861.7 968.5L1864.2 968.5L1866.7 968.5L1869.2 968.5L1871.7 968.6L1874.2 968.6L1876.7 968.6L1879.2 968.6L1881.7 968.6L1884.2 968.6L1886.7 968.7L1889.2 968.7L1891.7 968.7L1894.2 968.7L1896.7 968.7L1899.2 968.7L1901.7 968.7L1904.2 968.8L1906.7 968.8L1909.2 968.8L1911.7 968.8L1914.2 968.8L1916.7 968.8L1919.2 968.8L1921.7 968.9L1924.2 968.9L1926.7 968.9L1929.2 968.9L1931.7 968.9L1934.2 968.9L1936.7 968.9L1939.2 969L1941.7 969L1944.2 969L1946.7 969L1949.2 969L1951.7 969L1954.2 969L1956.7 969.1L1959.2 969.1L1961.7 969.1L1964.2 969.1L1966.7 969.1L1969.2 969.1L1971.7 969.1L1974.2 969.2L1976.7 969.2L1979.2 969.2L1981.7 969.2L1984.2 969.2L1986.7 969.2L1989.2 969.2L1991.7 969.2L1994.2 969.3L1996.7 969.3L1999.2 969.3L2001.7 969.3L2004.2 969.3L2006.7 969.3L2009.2 969.3L2011.7 969.4L2014.2 969.4L2016.7 969.4L2019.2 969.4L2021.7 969.4L2024.2 969.4L2026.7 969.4L2029.2 969.4L2031.7 969.5L2034.2 969.5L2036.7 969.5L2039.2 969.5L2041.7 969.5L2044.2 969.5L2046.7 969.5L2049.2 969.5L2051.7 969.6L2054.2 969.6L2056.7 969.6L2059.2 969.6L2061.7 969.6L2064.2 969.6L2066.7 969.6L2069.2 969.6L2071.7 969.7L2074.2 969.7L2076.7 969.7L2079.2 969.7L2081.7 969.7L2084.2 969.7L2086.7 969.7L2089.2 969.7L2091.7 969.7L2094.2 969.8L2096.7 969.8L2099.2 969.8L2101.7 969.8L2104.2 969.8L2106.7 969.8L2109.2 969.8L2111.7 969.8L2114.2 969.9L2116.6 969.9L2119.1 969.9L2121.6 969.9L2124.1 969.9L2126.6 969.9L2129.1 969.9L2131.6 970L2134.1 970L2136.6 970L2139.1 970L2141.6 970L2144.1 970L2146.6 970L2149.1 970L2151.6 970.1L2154.1 970.1L2156.6 970.1L2159.1 970.1L2161.6 970.1L2164.1 970.1L2166.6 970.1L2169.1 970.1L2171.6 970.2L2174.1 970.2L2176.6 970.2L2179.1 970.2L2181.6 970.2L2184.1 970.2L2186.6 970.2L2189.1 970.3L2191.6 970.3L2194.1 970.3L2196.6 970.3L2199.1 970.3L2201.6 970.3L2204.1 970.3L2206.6 970.3L2209.1 970.4L2211.6 970.4L2214.1 970.4L2216.6 970.4L2219.1 970.4L2221.6 970.4L2224.1 970.4L2226.6 970.5L2229.1 970.5L2231.6 970.5L2234.1 970.5L2236.6 970.5L2239.1 970.5L2241.6 970.5L2244.1 970.6L2246.6 970.6L2249.1 970.6L2251.6 970.6L2254.1 970.6L2256.6 970.6L2259.1 970.7L2261.6 970.7L2264.1 970.7L2266.6 970.7L2269.1 970.7L2271.6 970.7L2274.1 970.7L2276.6 970.8L2279.1 970.8L2281.6 970.8L2284.1 970.8L2286.6 970.8L2289.1 970.8L2291.6 970.9L2294.1 970.9L2296.6 970.9L2299.1 970.9L2301.6 970.9L2304.1 970.9L2306.6 971L2309.1 971L2311.6 971L2314.1 971L2316.6 971L2319.1 971.1L2321.6 971.1L2324.1 971.1L2326.5 971.1L2329 971.1L2331.5 971.1L2334 971.2L2336.5 971.2L2339 971.2L2341.5 971.2L2344 971.2L2346.5 971.3L2349 971.3L2351.5 971.3L2354 971.3L2356.5 971.3L2359 971.3L2361.5 971.4L2364 971.4L2366.5 971.4L2369 971.4L2371.5 971.4L2374 971.5L2376.5 971.5L2379 971.5L2381.5 971.5L2384 971.6L2386.5 971.6L2389 971.6L2391.5 971.6L2394 971.6L2396.5 971.7L2399 971.7L2401.5 971.7L2404 971.7L2406.5 971.7L2409 971.8L2411.5 971.8L2414 971.8L2416.5 971.8L2419 971.9L2421.5 971.9L2424 971.6"/>
<path stroke="#0000ff" d="M231.5 654L231.9 651.5L232 649L232.2 646.5L232.3 644L232.5 641.5L232.7 639.1L232.8 636.6L233 634.1L233.2 631.6L233.4 629.1L233.5 626.6L233.7 624.1L233.9 621.6L234.1 619.1L234.2 616.6L234.4 614.1L234.6 611.6L234.8 609.1L234.9 606.7L235.1 604.2L235.3 601.7L235.5 599.2L235.7 596.7L235.9 594.2L236 591.7L236.2 589.2L236.4 586.7L236.6 584.2L236.8 581.7L237 579.2L237.2 576.8L237.4 574.3L237.6 571.8L237.8 569.3L238 566.8L238.2 564.3L238.4 561.8L238.6 559.3L238.8 556.8L239 554.3L239.2 551.8L239.4 549.3L239.6 546.9L239.8 544.4L240 541.9L240.2 539.4L240.4 536.9L240.7 534.4L240.9 531.9L241.1 529.4L241.3 526.9L241.5 524.4L241.8 522L242 519.5L242.2 517L242.4 514.5L242.7 512L242.9 509.5L243.1 507L243.4 504.5L243.6 502L243.8 499.6L244.1 497.1L244.3 494.6L244.6 492.1L244.8 489.6L245 487.1L245.3 484.6L245.5 482.1L245.8 479.7L246 477.2L246.3 474.7L246.6 472.2L246.8 469.7L247.1 467.2L247.3 464.7L247.6 462.2L247.9 459.8L248.1 457.3L248.4 454.8L248.7 452.3L248.9 449.8L249.2 447.3L249.5 444.9L249.8 442.4L250.1 439.9L250.3 437.4L250.6 434.9L250.9 432.4L251.2 430L251.5 427.5L251.8 425L252.1 422.5L252.4 420L252.7 417.5L253 415.1L253.3 412.6L253.6 410.1L253.9 407.6L254.2 405.1L254.5 402.7L254.8 400.2L255.1 397.7L255.5 395.2L255.8 392.8L256.1 390.3L256.4 387.8L256.8 385.3L257.1 382.8L257.4 380.4L257.7 377.9L258.1 375.4L258.4 372.9L258.8 370.5L259.1 368L259.5 365.5L259.8 363L260.2 360.6L260.5 358.1L260.9 355.6L261.2 353.1L261.6 350.7L261.9 348.2L262.3 345.7L262.7 343.3L263 340.8L263.4 338.3L263.8 335.9L264.2 333.4L264.6 330.9L264.9 328.4L265.3 326L265.7 323.5L266.1 321L266.5 318.6L266.9 316.1L267.3 313.6L267.7 311.2L268.1 308.7L268.5 306.2L268.9 303.8L269.3 301.3L269.7 298.9L270.2 296.4L270.6 293.9L271 291.5L271.4 289L271.9 286.5L272.3 284.1L272.7 281.6L273.2 279.2L273.6 276.7L274.1 274.3L274.5 271.8L275 269.3L275.5 266.9L275.9 264.4L276.4 262L276.9 259.5L277.4 257.1L277.9 254.6L278.4 252.2L278.9 249.7L279.5 247.3L280 244.9L280.6 242.4L281.1 240L281.7 237.5L282.3 235.1L282.8 232.7L283.4 230.3L284.1 227.8L284.7 225.4L285.3 223L286 220.6L286.6 218.1L287.3 215.7L288 213.3L288.7 210.9L289.3 208.5L290 206.1L290.6 203.7L291.2 201.2L291.7 198.8L292.2 196.4L292.7 193.9L293.1 191.5L293.4 189L293.8 186.6L294.2 184.2L294.7 181.7L295.2 179.3L295.9 176.9L296.7 174.5L297.7 172.1L298.9 169.7L300.4 167.4L302.1 165.2L303.9 163.1L306 161.4L308.2 160.1L310.4 159.2L312.7 158.9L314.7 159.2L316.5 160L318.1 161.3L319.5 163L320.8 165L322 167.2L323.1 169.5L324.2 171.9L325.2 174.2L326.2 176.6L327.2 179L328.1 181.3L329 183.7L329.9 186.1L330.7 188.5L331.6 190.9L332.4 193.3L333.1 195.6L333.9 198L334.6 200.4L335.4 202.8L336.1 205.2L336.8 207.6L337.4 210L338.1 212.5L338.7 214.9L339.4 217.3L340 219.7L340.6 222.1L341.2 224.5L341.8 226.9L342.4 229.4L343 231.8L343.6 234.2L344.2 236.6L344.7 239.1L345.3 241.5L345.8 243.9L346.4 246.4L346.9 248.8L347.5 251.2L348 253.7L348.5 256.1L349 258.5L349.5 261L350 263.4L350.5 265.9L351 268.3L351.5 270.8L352 273.2L352.5 275.7L352.9 278.1L353.4 280.6L353.9 283L354.3 285.5L354.8 287.9L355.2 290.4L355.7 292.8L356.1 295.3L356.5 297.8L356.9 300.2L357.4 302.7L357.8 305.1L358.2 307.6L358.6 310.1L359 312.5L359.4 315L359.8 317.5L360.2 319.9L360.6 322.4L361 324.9L361.3 327.3L361.7 329.8L362.1 332.3L362.5 334.7L362.8 337.2L363.2 339.7L363.6 342.2L363.9 344.6L364.3 347.1L364.6 349.6L365 352.1L365.3 354.5L365.7 357L366 359.5L366.4 362L366.7 364.4L367 366.9L367.4 369.4L367.7 371.9L368 374.3L368.4 376.8L368.7 379.3L369 381.8L369.3 384.3L369.7 386.7L370 389.2L370.3 391.7L370.6 394.2L371 396.7L371.3 399.1L371.6 401.6L371.9 404.1L372.2 406.6L372.5 409.1L372.8 411.5L373.2 414L373.5 416.5L373.8 419L374.1 421.5L374.4 423.9L374.7 426.4L375 428.9L375.3 431.4L375.6 433.9L375.9 436.3L376.2 438.8L376.5 441.3L376.8 443.8L377.1 446.3L377.4 448.7L377.6 451.2L377.9 453.7L378.2 456.2L378.5 458.7L378.8 461.2L379 463.6L379.3 466.1L379.6 468.6L379.9 471.1L380.1 473.6L380.4 476.1L380.7 478.5L380.9 481L381.2 483.5L381.4 486L381.7 488.5L382 491L382.2 493.5L382.5 495.9L382.7 498.4L382.9 500.9L383.2 503.4L383.4 505.9L383.7 508.4L383.9 510.9L384.1 513.4L384.3 515.9L384.6 518.3L384.8 520.8L385 523.3L385.2 525.8L385.4 528.3L385.7 530.8L385.9 533.3L386.1 535.8L386.3 538.3L386.5 540.8L386.8 543.2L387 545.7L387.2 548.2L387.5 550.7L387.7 553.2L387.9 555.7L388.2 558.2L388.5 560.6L388.7 563.1L389 565.6L389.3 568.1L389.6 570.6L389.9 573.1L390.2 575.5L390.5 578L390.9 580.5L391.2 583L391.6 585.4L391.9 587.9L392.3 590.4L392.7 592.8L393.1 595.3L393.5 597.8L393.9 600.2L394.3 602.7L394.7 605.2L395.1 607.6L395.5 610.1L396 612.6L396.4 615L396.8 617.5L397.3 620L397.7 622.4L398.1 624.9L398.6 627.3L399 629.8L399.5 632.2L399.9 634.7L400.4 637.2L400.8 639.6L401.3 642.1L401.7 644.5L402.2 647L402.6 649.4L403.1 651.9L403.5 654.4L404 656.8L404.4 659.3L404.9 661.7L405.3 664.2L405.7 666.6L406.2 669.1L406.6 671.5L407.1 674L407.5 676.5L408 678.9L408.4 681.4L408.9 683.8L409.3 686.3L409.8 688.7L410.2 691.2L410.6 693.6L411.1 696.1L411.5 698.6L412 701L412.4 703.5L412.9 705.9L413.3 708.4L413.7 710.8L414.2 713.3L414.6 715.8L415.1 718.2L415.5 720.7L415.9 723.1L416.4 725.6L416.8 728.1L417.3 730.5L417.7 733L418.1 735.5L418.6 737.9L419 740.4L419.4 742.9L419.9 745.3L420.3 747.8L420.7 750.3L421.2 752.7L421.6 755.2L422 757.7L422.5 760.1L422.9 762.6L423.3 765.1L423.8 767.5L424.2 770L424.7 772.5L425.1 774.9L425.6 777.4L426.1 779.8L426.6 782.3L427.1 784.7L427.7 787.2L428.2 789.6L428.8 792L429.4 794.5L430 796.9L430.7 799.3L431.3 801.7L432 804.1L432.7 806.4L433.5 808.8L434.3 811.2L435.1 813.5L435.9 815.8L436.8 818.2L437.7 820.5L438.7 822.8L439.6 825.1L440.6 827.3L441.6 829.6L442.7 831.9L443.7 834.2L444.8 836.5L445.9 838.8L446.9 841.1L448 843.4L449.1 845.7L450.2 848L451.3 850.4L452.4 852.6L453.5 854.9L454.7 857.2L455.9 859.4L457.2 861.6L458.5 863.7L459.8 865.9L461.2 867.9L462.6 869.9L464.1 871.9L465.7 873.8L467.3 875.6L469 877.3L470.8 879L472.6 880.6L474.5 882.1L476.4 883.6L478.4 885L480.5 886.4L482.6 887.7L484.7 889L486.9 890.2L489.1 891.3L491.3 892.5L493.6 893.6L495.9 894.6L498.2 895.6L500.5 896.6L502.9 897.6L505.3 898.5L507.6 899.4L510 900.3L512.4 901.2L514.8 902L517.2 902.9L519.6 903.7L522 904.5L524.3 905.3L526.7 906.1L529.1 906.8L531.6 907.6L534 908.3L536.4 909L538.8 909.7L541.2 910.4L543.6 911.1L546 911.7L548.4 912.4L550.9 913L553.3 913.7L555.7 914.3L558.1 914.9L560.6 915.5L563 916.1L565.4 916.6L567.9 917.2L570.3 917.8L572.7 918.3L575.2 918.9L577.6 919.4L580.1 919.9L582.5 920.4L584.9 920.9L587.4 921.4L589.8 921.9L592.3 922.4L594.7 922.9L597.2 923.4L599.6 923.9L602.1 924.3L604.5 924.8L607 925.3L609.4 925.7L611.9 926.2L614.3 926.6L616.8 927.1L619.2 927.5L621.7 928L624.1 928.4L626.6 928.8L629.1 929.2L631.5 929.7L634 930.1L636.4 930.5L638.9 930.9L641.4 931.3L643.8 931.7L646.3 932.1L648.7 932.5L651.2 932.9L653.7 933.3L656.1 933.6L658.6 934L661.1 934.4L663.5 934.8L666 935.1L668.5 935.5L670.9 935.8L673.4 936.2L675.9 936.6L678.3 936.9L680.8 937.2L683.3 937.6L685.8 937.9L688.2 938.3L690.7 938.6L693.2 938.9L695.7 939.2L698.1 939.5L700.6 939.9L703.1 940.2L705.6 940.5L708 940.8L710.5 941.1L713 941.4L715.5 941.7L717.9 942L720.4 942.3L722.9 942.6L725.4 942.9L727.9 943.1L730.3 943.4L732.8 943.7L735.3 944L737.8 944.2L740.3 944.5L742.8 944.8L745.2 945L747.7 945.3L750.2 945.5L752.7 945.8L755.2 946L757.7 946.3L760.2 946.5L762.6 946.8L765.1 947L767.6 947.2L770.1 947.5L772.6 947.7L775.1 947.9L777.6 948.2L780.1 948.4L782.5 948.6L785 948.8L787.5 949.1L790 949.3L792.5 949.5L795 949.7L797.5 949.9L800 950.1L802.5 950.3L805 950.5L807.5 950.7L809.9 950.9L812.4 951.1L814.9 951.3L817.4 951.5L819.9 951.7L822.4 951.9L824.9 952.1L827.4 952.2L829.9 952.4L832.4 952.6L834.9 952.8L837.4 953L839.9 953.1L842.4 953.3L844.9 953.5L847.4 953.7L849.9 953.8L852.3 954L854.8 954.2L857.3 954.3L859.8 954.5L862.3 954.6L864.8 954.8L867.3 955L869.8 955.1L872.3 955.3L874.8 955.4L877.3 955.6L879.8 955.7L882.3 955.9L884.8 956L887.3 956.2L889.8 956.3L892.3 956.5L894.8 956.6L897.3 956.8L899.8 956.9L902.3 957L904.8 957.2L907.3 957.3L909.8 957.5L912.3 957.6L914.8 957.7L917.3 957.9L919.8 958L922.3 958.1L924.8 958.3L927.3 958.4L929.8 958.5L932.3 958.7L934.8 958.8L937.3 958.9L939.8 959.1L942.3 959.2L944.8 959.3L947.2 959.4L949.7 959.6L952.2 959.7L954.7 959.8L957.2 959.9L959.7 960.1L962.2 960.2L964.7 960.3L967.2 960.4L969.7 960.5L972.2 960.6L974.7 960.8L977.2 960.9L979.7 961L982.2 961.1L984.7 961.2L987.2 961.3L989.7 961.4L992.2 961.6L994.7 961.7L997.2 961.8L999.7 961.9L1002.2 962L1004.7 962.1L1007.2 962.2L1009.7 962.3L1012.2 962.4L1014.7 962.5L1017.2 962.6L1019.7 962.7L1022.2 962.8L1024.7 962.9L1027.2 963L1029.7 963.1L1032.2 963.2L1034.7 963.3L1037.2 963.4L1039.7 963.5L1042.2 963.6L1044.7 963.7L1047.2 963.8L1049.7 963.9L1052.2 964L1054.7 964.1L1057.1 964.2L1059.6 964.3L1062.1 964.4L1064.6 964.5L1067.1 964.6L1069.6 964.6L1072.1 964.7L1074.6 964.8L1077.1 964.9L1079.6 965L1082.1 965.1L1084.6 965.2L1087.1 965.3L1089.6 965.3L1092.1 965.4L1094.6 965.5L1097.1 965.6L1099.6 965.7L1102.1 965.7L1104.6 965.8L1107.1 965.9L1109.6 966L1112.1 966.1L1114.6 966.1L1117.1 966.2L1119.6 966.3L1122.1 966.4L1124.6 966.4L1127.1 966.5L1129.6 966.6L1132.1 966.7L1134.6 966.7L1137.1 966.8L1139.6 966.9L1142.1 966.9L1144.6 967L1147.1 967.1L1149.6 967.2L1152.1 967.2L1154.6 967.3L1157.1 967.4L1159.6 967.4L1162.1 967.5L1164.6 967.6L1167.1 967.6L1169.5 967.7L1172 967.8L1174.5 967.8L1177 967.9L1179.5 967.9L1182 968L1184.5 968.1L1187 968.1L1189.5 968.2L1192 968.2L1194.5 968.3L1197 968.4L1199.5 968.4L1202 968.5L1204.5 968.5L1207 968.6L1209.5 968.7L1212 968.7L1214.5 968.8L1217 968.8L1219.5 968.9L1222 968.9L1224.5 969L1227 969L1229.5 969.1L1232 969.1L1234.5 969.2L1237 969.2L1239.5 969.3L1242 969.3L1244.5 969.4L1247 969.4L1249.5 969.5L1252 969.5L1254.5 969.6L1257 969.6L1259.5 969.7L1262 969.7L1264.5 969.8L1267 969.8L1269.5 969.9L1272 969.9L1274.5 969.9L1277 970L1279.5 970L1282 970.1L1284.5 970.1L1286.9 970.2L1289.4 970.2L1291.9 970.2L1294.4 970.3L1296.9 970.3L1299.4 970.4L1301.9 970.4L1304.4 970.4L1306.9 970.5L1309.4 970.5L1311.9 970.6L1314.4 970.6L1316.9 970.6L1319.4 970.7L1321.9 970.7L1324.4 970.8L1326.9 970.8L1329.4 970.8L1331.9 970.9L1334.4 970.9L1336.9 970.9L1339.4 971L1341.9 971L1344.4 971L1346.9 971.1L1349.4 971.1L1351.9 971.1L1354.4 971.2L1356.9 971.2L1359.4 971.2L1361.9 971.3L1364.4 971.3L1366.9 971.3L1369.4 971.4L1371.9 971.4L1374.4 971.4L1376.9 971.4L1379.4 971.5L1381.9 971.5L1384.4 971.5L1386.9 971.6L1389.4 971.6L1391.9 971.6L1394.4 971.6L1396.9 971.7L1399.4 971.7L1401.9 971.7L1404.4 971.7L1406.9 971.8L1409.4 971.8L1411.9 971.8L1414.4 971.9L1416.9 971.9L1419.3 971.9L1421.8 971.9L1424.3 972L1426.8 972L1429.3 972L1431.8 972L1434.3 972.1L1436.8 972.1L1439.3 972.1L1441.8 972.1L1444.3 972.1L1446.8 972.2L1449.3 972.2L1451.8 972.2L1454.3 972.2L1456.8 972.3L1459.3 972.3L1461.8 972.3L1464.3 972.3L1466.8 972.3L1469.3 972.4L1471.8 972.4L1474.3 972.4L1476.8 972.4L1479.3 972.4L1481.8 972.5L1484.3 972.5L1486.8 972.5L1489.3 972.5L1491.8 972.5L1494.3 972.6L1496.8 972.6L1499.3 972.6L1501.8 972.6L1504.3 972.6L1506.8 972.7L1509.3 972.7L1511.8 972.7L1514.3 972.7L1516.8 972.7L1519.3 972.7L1521.8 972.8L1524.3 972.8L1526.8 972.8L1529.3 972.8L1531.8 972.8L1534.3 972.9L1536.8 972.9L1539.3 972.9L1541.8 972.9L1544.3 972.9L1546.8 972.9L1549.3 973L1551.8 973L1554.3 973L1556.8 973L1559.3 973L1561.8 973L1564.3 973.1L1566.8 973.1L1569.3 973.1L1571.8 973.1L1574.3 973.1L1576.8 973.1L1579.3 973.2L1581.8 973.2L1584.3 973.2L1586.8 973.2L1589.3 973.2L1591.7 973.2L1594.2 973.2L1596.7 973.3L1599.2 973.3L1601.7 973.3L1604.2 973.3L1606.7 973.3L1609.2 973.3L1611.7 973.4L1614.2 973.4L1616.7 973.4L1619.2 973.4L1621.7 973.4L1624.2 973.4L1626.7 973.5L1629.2 973.5L1631.7 973.5L1634.2 973.5L1636.7 973.5L1639.2 973.5L1641.7 973.5L1644.2 973.6L1646.7 973.6L1649.2 973.6L1651.7 973.6L1654.2 973.6L1656.7 973.6L1659.2 973.7L1661.7 973.7L1664.2 973.7L1666.7 973.7L1669.2 973.7L1671.7 973.7L1674.2 973.7L1676.7 973.8L1679.2 973.8L1681.7 973.8L1684.2 973.8L1686.7 973.8L1689.2 973.8L1691.7 973.9L1694.2 973.9L1696.7 973.9L1699.2 973.9L1701.7 973.9L1704.2 973.9L1706.7 973.9L1709.2 974L1711.7 974L1714.2 974L1716.7 974L1719.2 974L1721.7 974L1724.2 974L1726.7 974.1L1729.2 974.1L1731.7 974.1L1734.2 974.1L1736.7 974.1L1739.2 974.1L1741.7 974.2L1744.2 974.2L1746.7 974.2L1749.2 974.2L1751.7 974.2L1754.2 974.2L1756.7 974.2L1759.2 974.3L1761.7 974.3L1764.2 974.3L1766.7 974.3L1769.2 974.3L1771.7 974.3L1774.2 974.3L1776.7 974.4L1779.2 974.4L1781.7 974.4L1784.2 974.4L1786.7 974.4L1789.2 974.4L1791.7 974.4L1794.2 974.5L1796.7 974.5L1799.2 974.5L1801.7 974.5L1804.2 974.5L1806.7 974.5L1809.2 974.5L1811.7 974.6L1814.2 974.6L1816.7 974.6L1819.2 974.6L1821.7 974.6L1824.2 974.6L1826.7 974.6L1829.2 974.7L1831.7 974.7L1834.2 974.7L1836.7 974.7L1839.2 974.7L1841.7 974.7L1844.2 974.7L1846.7 974.7L1849.2 974.8L1851.7 974.8L1854.2 974.8L1856.7 974.8L1859.2 974.8L1861.7 974.8L1864.2 974.8L1866.7 974.9L1869.2 974.9L1871.7 974.9L1874.2 974.9L1876.7 974.9L1879.2 974.9L1881.7 974.9L1884.2 974.9L1886.7 975L1889.2 975L1891.7 975L1894.2 975L1896.7 975L1899.2 975L1901.7 975L1904.2 975.1L1906.7 975.1L1909.2 975.1L1911.7 975.1L1914.2 975.1L1916.7 975.1L1919.2 975.1L1921.7 975.1L1924.2 975.2L1926.7 975.2L1929.2 975.2L1931.7 975.2L1934.2 975.2L1936.7 975.2L1939.2 975.2L1941.7 975.2L1944.2 975.3L1946.7 975.3L1949.2 975.3L1951.7 975.3L1954.2 975.3L1956.7 975.3L1959.2 975.3L1961.7 975.3L1964.2 975.3L1966.7 975.4L1969.2 975.4L1971.7 975.4L1974.2 975.4L1976.7 975.4L1979.2 975.4L1981.7 975.4L1984.2 975.4L1986.7 975.5L1989.2 975.5L1991.7 975.5L1994.2 975.5L1996.7 975.5L1999.1 975.5L2001.6 975.5L2004.1 975.5L2006.6 975.5L2009.1 975.6L2011.6 975.6L2014.1 975.6L2016.6 975.6L2019.1 975.6L2021.6 975.6L2024.1 975.6L2026.6 975.6L2029.1 975.6L2031.6 975.7L2034.1 975.7L2036.6 975.7L2039.1 975.7L2041.6 975.7L2044.1 975.7L2046.6 975.7L2049.1 975.7L2051.6 975.7L2054.1 975.8L2056.6 975.8L2059.1 975.8L2061.6 975.8L2064.1 975.8L2066.6 975.8L2069.1 975.8L2071.6 975.8L2074.1 975.8L2076.6 975.9L2079.1 975.9L2081.6 975.9L2084.1 975.9L2086.6 975.9L2089.1 975.9L2091.6 975.9L2094.1 975.9L2096.6 975.9L2099.1 975.9L2101.6 976L2104.1 976L2106.6 976L2109.1 976L2111.6 976L2114.1 976L2116.6 976L2119.1 976L2121.6 976L2124.1 976L2126.6 976L2129.1 976.1L2131.6 976.1L2134.1 976.1L2136.6 976.1L2139.1 976.1L2141.6 976.1L2144.1 976.1L2146.6 976.1L2149.1 976.1L2151.6 976.1L2154.1 976.1L2156.6 976.2L2159.1 976.2L2161.6 976.2L2164.1 976.2L2166.6 976.2L2169.1 976.2L2171.6 976.2L2174.1 976.2L2176.6 976.2L2179.1 976.2L2181.6 976.2L2184.1 976.3L2186.6 976.3L2189.1 976.3L2191.6 976.3L2194.1 976.3L2196.6 976.3L2199.1 976.3L2201.6 976.3L2204.1 976.3L2206.6 976.3L2209.1 976.3L2211.6 976.3L2214.1 976.3L2216.6 976.4L2219.1 976.4L2221.6 976.4L2224.1 976.4L2226.6 976.4L2229.1 976.4L2231.6 976.4L2234.1 976.4L2236.6 976.4L2239.1 976.4L2241.6 976.4L2244.1 976.4L2246.6 976.4L2249.1 976.5L2251.6 976.5L2254.1 976.5L2256.6 976.5L2259.1 976.5L2261.6 976.5L2264.1 976.5L2266.6 976.5L2269.1 976.5L2271.6 976.5L2274.1 976.5L2276.6 976.5L2279.1 976.5L2281.6 976.5L2284.1 976.5L2286.6 976.6L2289.1 976.6L2291.6 976.6L2294.1 976.6L2296.6 976.6L2299.1 976.6L2301.6 976.6L2304.1 976.6L2306.6 976.6L2309.1 976.6L2311.6 976.6L2314.1 976.6L2316.6 976.6L2319.1 976.6L2321.6 976.6L2324.1 976.6L2326.6 976.6L2329 976.7L2331.5 976.7L2334 976.7L2336.5 976.7L2339 976.7L2341.5 976.7L2344 976.7L2346.5 976.7L2349 976.7L2351.5 976.7L2354 976.7L2356.5 976.7L2359 976.7L2361.5 976.7L2364 976.7L2366.5 976.7L2369 976.7L2371.5 976.7L2374 976.7L2376.5 976.7L2379 976.7L2381.5 976.7L2384 976.8L2386.5 976.8L2389 976.8L2391.5 976.8L2394 976.8L2396.5 976.8L2399 976.8L2401.5 976.8L2404 976.8L2406.5 976.8L2409 976.8L2411.5 976.8L2414 976.8L2416.5 976.8L2419 976.8L2421.5 976.8L2424 976.8"/>
<path stroke="#00ff00" d="M234.5 654L234.8 651.5L235.1 649L235.3 646.5L235.6 644.1L235.8 641.6L236.1 639.1L236.3 636.6L236.6 634.1L236.8 631.6L237 629.1L237.3 626.7L237.5 624.2L237.7 621.7L238 619.2L238.2 616.7L238.4 614.2L238.6 611.7L238.9 609.2L239.1 606.7L239.3 604.3L239.5 601.8L239.8 599.3L240 596.8L240.2 594.3L240.4 591.8L240.6 589.3L240.8 586.8L241 584.3L241.2 581.9L241.5 579.4L241.7 576.9L241.9 574.4L242.1 571.9L242.3 569.4L242.5 566.9L242.7 564.4L242.9 561.9L243.1 559.4L243.3 556.9L243.5 554.4L243.7 552L243.9 549.5L244.1 547L244.3 544.5L244.5 542L244.7 539.5L244.9 537L245.1 534.5L245.3 532L245.5 529.5L245.7 527L245.9 524.5L246.1 522L246.3 519.6L246.5 517.1L246.7 514.6L246.9 512.1L247.1 509.6L247.3 507.1L247.5 504.6L247.7 502.1L247.9 499.6L248.1 497.1L248.3 494.6L248.5 492.1L248.7 489.6L248.9 487.2L249.1 484.7L249.3 482.2L249.5 479.7L249.7 477.2L249.9 474.7L250.1 472.2L250.3 469.7L250.5 467.2L250.8 464.7L251 462.2L251.2 459.7L251.4 457.3L251.6 454.8L251.8 452.3L252.1 449.8L252.3 447.3L252.5 444.8L252.7 442.3L253 439.8L253.2 437.3L253.4 434.9L253.6 432.4L253.9 429.9L254.1 427.4L254.4 424.9L254.6 422.4L254.8 419.9L255.1 417.4L255.3 415L255.6 412.5L255.8 410L256.1 407.5L256.3 405L256.6 402.5L256.8 400L257.1 397.6L257.4 395.1L257.6 392.6L257.9 390.1L258.2 387.6L258.4 385.1L258.7 382.7L259 380.2L259.3 377.7L259.6 375.2L259.9 372.7L260.1 370.2L260.4 367.8L260.7 365.3L261 362.8L261.3 360.3L261.6 357.9L262 355.4L262.3 352.9L262.6 350.4L262.9 347.9L263.2 345.5L263.6 343L263.9 340.5L264.2 338L264.6 335.6L264.9 333.1L265.2 330.6L265.6 328.1L265.9 325.7L266.3 323.2L266.7 320.7L267 318.3L267.4 315.8L267.8 313.3L268.1 310.9L268.5 308.4L268.9 305.9L269.3 303.4L269.6 301L270 298.5L270.4 296L270.8 293.6L271.2 291.1L271.6 288.6L272 286.2L272.3 283.7L272.7 281.2L273.1 278.8L273.5 276.3L273.9 273.8L274.3 271.4L274.7 268.9L275.1 266.4L275.5 263.9L275.9 261.5L276.3 259L276.7 256.5L277.1 254.1L277.5 251.6L277.9 249.1L278.3 246.6L278.7 244.2L279.1 241.7L279.5 239.2L279.9 236.7L280.2 234.3L280.6 231.8L281 229.3L281.4 226.8L281.8 224.4L282.2 221.9L282.6 219.4L283 216.9L283.4 214.5L283.8 212L284.2 209.5L284.6 207.1L285.1 204.6L285.5 202.1L285.9 199.7L286.4 197.2L286.8 194.8L287.3 192.3L287.8 189.9L288.3 187.4L288.8 185L289.3 182.5L289.8 180.1L290.3 177.6L290.8 175.2L291.4 172.8L292 170.4L292.5 167.9L293.1 165.5L293.8 163.1L294.4 160.7L295 158.3L295.7 155.9L296.4 153.6L297.1 151.2L297.8 148.8L298.5 146.4L299.3 144.1L300 141.7L300.8 139.4L301.7 137L302.5 134.7L303.4 132.4L304.3 130L305.2 127.7L306.2 125.4L307.2 123L308.3 120.5L309.5 118L310.9 115.5L312.3 113L313.8 110.8L315.4 109L317.2 107.7L319 107L320.9 107L322.8 107.8L324.7 109.2L326.5 110.9L328.2 112.9L329.8 115.1L331.2 117.5L332.5 119.9L333.6 122.3L334.5 124.7L335.4 127L336.1 129.4L336.8 131.7L337.5 134.1L338.2 136.5L338.8 138.9L339.5 141.3L340.1 143.7L340.7 146.1L341.3 148.5L341.9 150.9L342.4 153.3L343 155.7L343.5 158.1L344 160.6L344.6 163L345.1 165.5L345.6 167.9L346.1 170.3L346.5 172.8L347 175.3L347.5 177.7L347.9 180.2L348.4 182.6L348.8 185.1L349.2 187.6L349.7 190L350.1 192.5L350.5 195L350.9 197.5L351.3 199.9L351.7 202.4L352.2 204.9L352.6 207.3L353 209.8L353.4 212.3L353.8 214.8L354.1 217.2L354.5 219.7L354.9 222.2L355.3 224.7L355.7 227.1L356.1 229.6L356.4 232.1L356.8 234.6L357.2 237L357.6 239.5L357.9 242L358.3 244.4L358.7 246.9L359 249.4L359.4 251.9L359.7 254.3L360.1 256.8L360.5 259.3L360.8 261.8L361.2 264.2L361.5 266.7L361.8 269.2L362.2 271.7L362.5 274.1L362.9 276.6L363.2 279.1L363.5 281.6L363.9 284L364.2 286.5L364.5 289L364.9 291.5L365.2 293.9L365.5 296.4L365.8 298.9L366.2 301.4L366.5 303.8L366.8 306.3L367.1 308.8L367.4 311.3L367.7 313.8L368 316.2L368.3 318.7L368.7 321.2L369 323.7L369.3 326.1L369.6 328.6L369.9 331.1L370.2 333.6L370.5 336.1L370.8 338.5L371.1 341L371.3 343.5L371.6 346L371.9 348.5L372.2 350.9L372.5 353.4L372.8 355.9L373.1 358.4L373.4 360.9L373.6 363.3L373.9 365.8L374.2 368.3L374.5 370.8L374.8 373.3L375 375.7L375.3 378.2L375.6 380.7L375.9 383.2L376.2 385.7L376.4 388.2L376.7 390.6L377 393.1L377.2 395.6L377.5 398.1L377.8 400.6L378 403.1L378.3 405.5L378.6 408L378.8 410.5L379.1 413L379.4 415.5L379.6 418L379.9 420.5L380.2 422.9L380.4 425.4L380.7 427.9L380.9 430.4L381.2 432.9L381.4 435.4L381.7 437.9L382 440.4L382.2 442.8L382.5 445.3L382.7 447.8L383 450.3L383.2 452.8L383.5 455.3L383.7 457.8L384 460.3L384.2 462.8L384.5 465.2L384.7 467.7L385 470.2L385.2 472.7L385.5 475.2L385.7 477.7L386 480.2L386.2 482.7L386.5 485.2L386.7 487.6L387 490.1L387.2 492.6L387.5 495.1L387.7 497.6L388 500.1L388.2 502.6L388.5 505.1L388.7 507.6L388.9 510L389.2 512.5L389.4 515L389.7 517.5L389.9 520L390.2 522.5L390.4 525L390.7 527.5L390.9 530L391.1 532.5L391.4 534.9L391.6 537.4L391.9 539.9L392.1 542.4L392.4 544.9L392.6 547.4L392.8 549.9L393.1 552.4L393.3 554.9L393.6 557.3L393.8 559.8L394.1 562.3L394.3 564.8L394.5 567.3L394.8 569.8L395 572.3L395.3 574.8L395.5 577.3L395.8 579.7L396 582.2L396.3 584.7L396.5 587.2L396.8 589.7L397 592.2L397.2 594.7L397.5 597.2L397.7 599.6L398 602.1L398.2 604.6L398.5 607.1L398.7 609.6L399 612.1L399.2 614.6L399.5 617L399.7 619.5L400 622L400.2 624.5L400.5 627L400.7 629.5L401 631.9L401.2 634.4L401.5 636.9L401.8 639.4L402 641.9L402.3 644.4L402.5 646.8L402.8 649.3L403 651.8L403.3 654.3L403.5 656.8L403.8 659.2L404.1 661.7L404.3 664.2L404.6 666.7L404.9 669.2L405.1 671.6L405.4 674.1L405.6 676.6L405.9 679.1L406.2 681.5L406.4 684L406.7 686.5L407 689L407.3 691.5L407.5 693.9L407.8 696.4L408.1 698.9L408.4 701.4L408.6 703.8L408.9 706.3L409.2 708.8L409.5 711.3L409.8 713.7L410.1 716.2L410.4 718.7L410.7 721.2L411 723.6L411.3 726.1L411.6 728.6L411.9 731.1L412.2 733.6L412.5 736L412.8 738.5L413.1 741L413.4 743.5L413.8 746L414.1 748.4L414.4 750.9L414.8 753.4L415.1 755.9L415.4 758.4L415.8 760.8L416.1 763.3L416.5 765.8L416.8 768.3L417.2 770.8L417.5 773.3L417.9 775.7L418.3 778.2L418.6 780.7L419 783.2L419.4 785.7L419.8 788.2L420.2 790.7L420.6 793.2L421 795.7L421.4 798.2L421.8 800.6L422.3 803.1L422.7 805.6L423.2 808.1L423.6 810.6L424.1 813L424.6 815.5L425.1 818L425.6 820.4L426.2 822.9L426.7 825.3L427.3 827.7L427.9 830.2L428.5 832.6L429.2 835L429.9 837.4L430.6 839.8L431.3 842.2L432 844.6L432.8 846.9L433.6 849.3L434.4 851.6L435.3 853.9L436.2 856.2L437.1 858.5L438 860.8L439 863.1L440 865.3L441.1 867.6L442.2 869.8L443.3 872L444.5 874.2L445.7 876.4L446.9 878.5L448.2 880.7L449.5 882.8L450.9 884.8L452.3 886.9L453.8 888.9L455.3 890.8L456.9 892.7L458.5 894.6L460.1 896.4L461.9 898.1L463.6 899.8L465.5 901.5L467.3 903L469.3 904.5L471.3 906L473.3 907.3L475.4 908.6L477.6 909.8L479.9 910.9L482.1 912L484.4 913L486.8 913.9L489.2 914.8L491.6 915.7L494 916.6L496.4 917.4L498.9 918.2L501.3 919L503.7 919.8L506.2 920.6L508.6 921.3L511 922.1L513.5 922.8L515.9 923.6L518.3 924.3L520.8 925.1L523.2 925.8L525.6 926.5L528 927.2L530.5 927.9L532.9 928.6L535.3 929.3L537.7 929.9L540.1 930.6L542.6 931.2L545 931.9L547.4 932.5L549.8 933.2L552.3 933.8L554.7 934.4L557.1 935L559.5 935.6L562 936.2L564.4 936.8L566.8 937.3L569.2 937.9L571.7 938.4L574.1 939L576.5 939.5L579 940.1L581.4 940.6L583.8 941.1L586.3 941.6L588.7 942.1L591.1 942.6L593.6 943.1L596 943.5L598.5 944L600.9 944.5L603.4 944.9L605.8 945.4L608.3 945.8L610.7 946.2L613.2 946.6L615.6 947.1L618.1 947.5L620.5 947.9L623 948.3L625.4 948.6L627.9 949L630.4 949.4L632.8 949.8L635.3 950.1L637.7 950.5L640.2 950.8L642.7 951.2L645.1 951.5L647.6 951.8L650.1 952.2L652.5 952.5L655 952.8L657.5 953.1L660 953.4L662.4 953.7L664.9 954L667.4 954.3L669.8 954.5L672.3 954.8L674.8 955.1L677.3 955.3L679.8 955.6L682.2 955.8L684.7 956.1L687.2 956.3L689.7 956.6L692.2 956.8L694.6 957L697.1 957.3L699.6 957.5L702.1 957.7L704.6 957.9L707.1 958.1L709.6 958.3L712.1 958.5L714.5 958.7L717 958.9L719.5 959.1L722 959.3L724.5 959.5L727 959.7L729.5 959.8L732 960L734.5 960.2L737 960.3L739.5 960.5L742 960.7L744.4 960.8L746.9 961L749.4 961.1L751.9 961.3L754.4 961.4L756.9 961.5L759.4 961.7L761.9 961.8L764.4 962L766.9 962.1L769.4 962.2L771.9 962.4L774.4 962.5L776.9 962.6L779.4 962.7L781.9 962.9L784.4 963L786.9 963.1L789.4 963.2L791.9 963.3L794.4 963.5L796.9 963.6L799.4 963.7L801.9 963.8L804.4 963.9L806.9 964L809.4 964.1L811.9 964.2L814.4 964.3L816.9 964.4L819.4 964.6L821.9 964.7L824.4 964.8L826.9 964.9L829.4 965L831.9 965.1L834.4 965.2L836.9 965.3L839.4 965.4L841.9 965.5L844.4 965.6L846.9 965.7L849.4 965.8L851.9 965.9L854.4 966L856.9 966.1L859.4 966.2L861.9 966.3L864.4 966.4L866.9 966.5L869.4 966.6L871.9 966.7L874.4 966.8L876.9 966.9L879.4 967L881.9 967.1L884.4 967.2L886.9 967.3L889.4 967.4L891.9 967.4L894.4 967.5L896.9 967.6L899.4 967.7L901.9 967.8L904.4 967.9L906.9 968L909.4 968.1L911.9 968.2L914.4 968.3L916.9 968.4L919.4 968.4L921.9 968.5L924.4 968.6L926.9 968.7L929.4 968.8L931.9 968.9L934.4 969L936.9 969.1L939.4 969.1L941.9 969.2L944.4 969.3L946.9 969.4L949.4 969.5L951.9 969.6L954.4 969.6L956.9 969.7L959.4 969.8L961.9 969.9L964.4 970L966.9 970L969.4 970.1L971.9 970.2L974.4 970.3L976.9 970.4L979.4 970.4L981.9 970.5L984.4 970.6L986.9 970.7L989.4 970.7L991.9 970.8L994.4 970.9L996.9 971L999.4 971L1001.9 971.1L1004.4 971.2L1006.9 971.3L1009.4 971.3L1011.9 971.4L1014.4 971.5L1016.9 971.5L1019.4 971.6L1021.9 971.7L1024.4 971.8L1026.9 971.8L1029.4 971.9L1031.9 972L1034.4 972L1036.9 972.1L1039.4 972.2L1041.9 972.2L1044.4 972.3L1046.9 972.4L1049.4 972.4L1051.9 972.5L1054.4 972.6L1056.9 972.6L1059.4 972.7L1061.9 972.8L1064.4 972.8L1066.9 972.9L1069.4 973L1071.9 973L1074.4 973.1L1076.9 973.1L1079.4 973.2L1081.9 973.3L1084.4 973.3L1086.9 973.4L1089.4 973.5L1091.9 973.5L1094.4 973.6L1096.9 973.6L1099.4 973.7L1101.9 973.7L1104.4 973.8L1106.9 973.9L1109.4 973.9L1111.9 974L1114.4 974L1116.9 974.1L1119.4 974.1L1121.9 974.2L1124.4 974.3L1126.9 974.3L1129.4 974.4L1131.9 974.4L1134.4 974.5L1136.9 974.5L1139.4 974.6L1141.9 974.6L1144.4 974.7L1146.9 974.7L1149.4 974.8L1151.9 974.8L1154.4 974.9L1156.9 974.9L1159.4 975L1161.9 975L1164.4 975.1L1166.9 975.1L1169.4 975.2L1171.9 975.2L1174.4 975.3L1176.9 975.3L1179.4 975.4L1181.9 975.4L1184.4 975.5L1186.9 975.5L1189.4 975.6L1191.9 975.6L1194.4 975.7L1196.9 975.7L1199.4 975.7L1201.9 975.8L1204.4 975.8L1206.9 975.9L1209.4 975.9L1211.9 976L1214.4 976L1216.9 976.1L1219.4 976.1L1221.9 976.1L1224.4 976.2L1226.9 976.2L1229.4 976.3L1231.9 976.3L1234.4 976.3L1236.9 976.4L1239.4 976.4L1241.9 976.5L1244.4 976.5L1246.9 976.5L1249.4 976.6L1251.9 976.6L1254.4 976.7L1256.8 976.7L1259.3 976.7L1261.8 976.8L1264.3 976.8L1266.8 976.8L1269.3 976.9L1271.8 976.9L1274.3 976.9L1276.8 977L1279.3 977L1281.8 977L1284.3 977.1L1286.8 977.1L1289.3 977.2L1291.8 977.2L1294.3 977.2L1296.8 977.3L1299.3 977.3L1301.8 977.3L1304.3 977.3L1306.8 977.4L1309.3 977.4L1311.8 977.4L1314.3 977.5L1316.8 977.5L1319.3 977.5L1321.8 977.6L1324.3 977.6L1326.8 977.6L1329.3 977.7L1331.8 977.7L1334.3 977.7L1336.8 977.7L1339.3 977.8L1341.8 977.8L1344.3 977.8L1346.8 977.9L1349.3 977.9L1351.8 977.9L1354.3 977.9L1356.8 978L1359.3 978L1361.8 978L1364.3 978L1366.8 978.1L1369.3 978.1L1371.8 978.1L1374.3 978.1L1376.8 978.2L1379.3 978.2L1381.8 978.2L1384.3 978.2L1386.8 978.3L1389.3 978.3L1391.8 978.3L1394.3 978.3L1396.8 978.3L1399.3 978.4L1401.8 978.4L1404.3 978.4L1406.8 978.4L1409.3 978.5L1411.8 978.5L1414.3 978.5L1416.8 978.5L1419.3 978.5L1421.8 978.6L1424.3 978.6L1426.8 978.6L1429.3 978.6L1431.8 978.6L1434.3 978.7L1436.8 978.7L1439.3 978.7L1441.8 978.7L1444.3 978.7L1446.8 978.7L1449.3 978.8L1451.8 978.8L1454.3 978.8L1456.8 978.8L1459.2 978.8L1461.7 978.9L1464.2 978.9L1466.7 978.9L1469.2 978.9L1471.7 978.9L1474.2 978.9L1476.7 978.9L1479.2 979L1481.7 979L1484.2 979L1486.7 979L1489.2 979L1491.7 979L1494.2 979.1L1496.7 979.1L1499.2 979.1L1501.7 979.1L1504.2 979.1L1506.7 979.1L1509.2 979.1L1511.7 979.1L1514.2 979.2L1516.7 979.2L1519.2 979.2L1521.7 979.2L1524.2 979.2L1526.7 979.2L1529.2 979.2L1531.7 979.2L1534.2 979.2L1536.7 979.3L1539.2 979.3L1541.7 979.3L1544.2 979.3L1546.7 979.3L1549.2 979.3L1551.7 979.3L1554.2 979.3L1556.7 979.3L1559.2 979.3L1561.7 979.4L1564.2 979.4L1566.7 979.4L1569.2 979.4L1571.7 979.4L1574.2 979.4L1576.7 979.4L1579.2 979.4L1581.7 979.4L1584.2 979.4L1586.7 979.4L1589.2 979.4L1591.7 979.5L1594.2 979.5L1596.7 979.5L1599.2 979.5L1601.7 979.5L1604.2 979.5L1606.7 979.5L1609.2 979.5L1611.7 979.5L1614.2 979.5L1616.7 979.5L1619.2 979.5L1621.7 979.5L1624.2 979.5L1626.7 979.5L1629.2 979.5L1631.7 979.6L1634.2 979.6L1636.7 979.6L1639.2 979.6L1641.6 979.6L1644.1 979.6L1646.6 979.6L1649.1 979.6L1651.6 979.6L1654.1 979.6L1656.6 979.6L1659.1 979.6L1661.6 979.6L1664.1 979.6L1666.6 979.6L1669.1 979.6L1671.6 979.6L1674.1 979.6L1676.6 979.6L1679.1 979.6L1681.6 979.6L1684.1 979.6L1686.6 979.6L1689.1 979.6L1691.6 979.6L1694.1 979.6L1696.6 979.6L1699.1 979.6L1701.6 979.6L1704.1 979.6L1706.6 979.6L1709.1 979.6L1711.6 979.6L1714.1 979.6L1716.6 979.6L1719.1 979.6L1721.6 979.6L1724.1 979.6L1726.6 979.6L1729.1 979.6L1731.6 979.6L1734.1 979.6L1736.6 979.6L1739.1 979.6L1741.6 979.6L1744.1 979.6L1746.6 979.6L1749.1 979.6L1751.6 979.6L1754.1 979.6L1756.6 979.6L1759.1 979.6L1761.6 979.6L1764.1 979.6L1766.6 979.6L1769.1 979.6L1771.6 979.6L1774.1 979.6L1776.6 979.6L1779.1 979.6L1781.6 979.6L1784.1 979.6L1786.6 979.6L1789.1 979.6L1791.6 979.6L1794.1 979.6L1796.6 979.6L1799.1 979.6L1801.6 979.6L1804.1 979.6L1806.6 979.6L1809.1 979.6L1811.6 979.6L1814.1 979.6L1816.6 979.6L1819.1 979.6L1821.6 979.6L1824.1 979.6L1826.6 979.6L1829.1 979.6L1831.6 979.6L1834.1 979.6L1836.6 979.6L1839.1 979.6L1841.6 979.6L1844.1 979.6L1846.5 979.6L1849 979.6L1851.5 979.6L1854 979.6L1856.5 979.6L1859 979.6L1861.5 979.6L1864 979.6L1866.5 979.6L1869 979.6L1871.5 979.6L1874 979.6L1876.5 979.6L1879 979.5L1881.5 979.5L1884 979.5L1886.5 979.5L1889 979.5L1891.5 979.5L1894 979.5L1896.5 979.5L1899 979.5L1901.5 979.5L1904 979.5L1906.5 979.5L1909 979.5L1911.5 979.5L1914 979.5L1916.5 979.5L1919 979.5L1921.5 979.5L1924 979.5L1926.5 979.5L1929 979.5L1931.5 979.5L1934 979.5L1936.5 979.5L1939 979.5L1941.5 979.5L1944 979.5L1946.5 979.5L1949 979.5L1951.5 979.5L1954 979.4L1956.5 979.4L1959 979.4L1961.5 979.4L1964 979.4L1966.5 979.4L1969 979.4L1971.5 979.4L1974 979.4L1976.5 979.4L1979 979.4L1981.5 979.4L1984 979.4L1986.5 979.4L1989 979.4L1991.5 979.4L1994 979.4L1996.5 979.4L1999 979.4L2001.5 979.4L2004 979.4L2006.5 979.4L2009 979.4L2011.5 979.4L2014 979.4L2016.5 979.4L2019 979.4L2021.5 979.4L2024 979.4L2026.5 979.4L2029 979.4L2031.5 979.4L2034 979.4L2036.5 979.3L2039 979.3L2041.5 979.3L2044 979.3L2046.5 979.3L2049 979.3L2051.5 979.3L2054 979.3L2056.5 979.3L2059 979.3L2061.5 979.3L2064 979.3L2066.5 979.3L2069 979.3L2071.5 979.3L2074 979.3L2076.5 979.3L2079 979.3L2081.5 979.3L2084 979.3L2086.5 979.3L2089 979.3L2091.5 979.3L2094 979.3L2096.5 979.3L2099 979.3L2101.5 979.3L2104 979.3L2106.5 979.3L2109 979.3L2111.5 979.3L2114 979.3L2116.5 979.3L2119 979.3L2121.5 979.3L2124 979.3L2126.5 979.3L2129 979.3L2131.5 979.3L2134 979.3L2136.5 979.3L2139 979.3L2141.5 979.3L2144 979.3L2146.5 979.3L2149 979.3L2151.5 979.3L2154 979.3L2156.5 979.3L2159 979.3L2161.5 979.3L2164 979.3L2166.5 979.3L2169 979.3L2171.5 979.3L2174 979.3L2176.5 979.3L2179 979.3L2181.5 979.3L2184 979.3L2186.5 979.3L2189 979.3L2191.5 979.3L2194 979.3L2196.5 979.3L2199 979.3L2201.5 979.3L2204 979.3L2206.5 979.3L2209 979.3L2211.5 979.3L2214 979.3L2216.5 979.3L2219 979.4L2221.5 979.4L2224 979.4L2226.5 979.4L2229 979.4L2231.5 979.4L2234 979.4L2236.5 979.4L2239 979.4L2241.5 979.4L2244 979.4L2246.5 979.4L2249 979.4L2251.5 979.4L2254 979.4L2256.5 979.4L2259 979.4L2261.5 979.4L2264 979.4L2266.5 979.4L2269 979.5L2271.5 979.5L2274 979.5L2276.5 979.5L2279 979.5L2281.5 979.5L2284 979.5L2286.5 979.5L2289 979.5L2291.5 979.5L2294 979.5L2296.5 979.5L2299 979.5L2301.5 979.5L2304 979.6L2306.5 979.6L2309 979.6L2311.5 979.6L2314 979.6L2316.5 979.6L2319 979.6L2321.5 979.6L2324 979.6L2326.5 979.6L2329 979.6L2331.5 979.7L2334 979.7L2336.5 979.7L2339 979.7L2341.5 979.7L2344 979.7L2346.5 979.7L2349 979.7L2351.5 979.7L2354 979.8L2356.5 979.8L2359 979.8L2361.5 979.8L2364 979.8L2366.5 979.8L2369 979.8L2371.5 979.8L2374 979.9L2376.5 979.9L2379 979.9L2381.5 979.9L2384 979.9L2386.5 979.9L2389 979.9L2391.5 980L2394 980L2396.5 980L2399 980L2401.5 980L2404 980L2406.5 980.1L2409 980.1L2411.5 980.1L2414 980.1L2416.5 980.1L2419 980.1L2421.5 980.2L2424 979.9"/>
</g>
<path d="M230 1041.8V1021.3M230 71.5V92M449.5 1041.8V1021.3M449.5 71.5V92M668.9 1041.8V1021.3M668.9 71.5V92M888.4 1041.8V1021.3M888.4 71.5V92M1107.8 1041.8V1021.3M1107.8 71.5V92M1327.2 1041.8V1021.3M1327.2 71.5V92M1546.7 1041.8V1021.3M1546.7 71.5V92M1766.1 1041.8V1021.3M1766.1 71.5V92M1985.6 1041.8V1021.3M1985.6 71.5V92M2205.1 1041.8V1021.3M2205.1 71.5V92M2424.5 1041.8V1021.3M2424.5 71.5V92" stroke="#262626" stroke-width="1.5" fill="none"/>
<path d="M230 1041.8H252.8M2424.5 1041.8H2401.8M230 847.7H252.8M2424.5 847.7H2401.8M230 653.7H252.8M2424.5 653.7H2401.8M230 459.6H252.8M2424.5 459.6H2401.8M230 265.6H252.8M2424.5 265.6H2401.8M230 71.5H252.8M2424.5 71.5H2401.8" stroke="#262626" stroke-width="1.4" fill="none"/>
<path d="M229.2 71.5H2425.2 M229.2 1041.8H2425.2" stroke="#262626" stroke-width="1.4" fill="none"/>
<path d="M230 70.8V1042.5 M2424.5 70.8V1042.5" stroke="#262626" stroke-width="1.5" fill="none"/>
<text transform="translate(228.3 1110.3) scale(1.0650 1)" font-size="51.5" fill="#262626" text-anchor="middle">0</text>
<text transform="translate(447.8 1110.3) scale(1.0650 1)" font-size="51.5" fill="#262626" text-anchor="middle">5</text>
<text transform="translate(667.2 1110.3) scale(1.0650 1)" font-size="51.5" fill="#262626" text-anchor="middle">10</text>
<text transform="translate(886.6 1110.3) scale(1.0650 1)" font-size="51.5" fill="#262626" text-anchor="middle">15</text>
<text transform="translate(1106.1 1110.3) scale(1.0650 1)" font-size="51.5" fill="#262626" text-anchor="middle">20</text>
<text transform="translate(1325.5 1110.3) scale(1.0650 1)" font-size="51.5" fill="#262626" text-anchor="middle">25</text>
<text transform="translate(1545 1110.3) scale(1.0650 1)" font-size="51.5" fill="#262626" text-anchor="middle">30</text>
<text transform="translate(1764.4 1110.3) scale(1.0650 1)" font-size="51.5" fill="#262626" text-anchor="middle">35</text>
<text transform="translate(1983.9 1110.3) scale(1.0650 1)" font-size="51.5" fill="#262626" text-anchor="middle">40</text>
<text transform="translate(2203.4 1110.3) scale(1.0650 1)" font-size="51.5" fill="#262626" text-anchor="middle">45</text>
<text transform="translate(2422.8 1110.3) scale(1.0650 1)" font-size="51.5" fill="#262626" text-anchor="middle">50</text>
<text transform="translate(211 1062.8) scale(1.0650 1)" font-size="51.5" fill="#262626" text-anchor="end">0</text>
<text transform="translate(211 868.7) scale(1.0650 1)" font-size="51.5" fill="#262626" text-anchor="end">0.5</text>
<text transform="translate(211 674.7) scale(1.0650 1)" font-size="51.5" fill="#262626" text-anchor="end">1</text>
<text transform="translate(211 480.6) scale(1.0650 1)" font-size="51.5" fill="#262626" text-anchor="end">1.5</text>
<text transform="translate(211 286.6) scale(1.0650 1)" font-size="51.5" fill="#262626" text-anchor="end">2</text>
<text transform="translate(211 92.5) scale(1.0650 1)" font-size="51.5" fill="#262626" text-anchor="end">2.5</text>
<rect x="2213" y="95.8" width="184.4" height="268" fill="#ffffff" stroke="#262626" stroke-width="1.5"/>
<path d="M2221.1 131.8H2304" stroke="#ff0000" stroke-width="6"/>
<text transform="translate(2310 153.1) scale(1.0650 1)" font-size="51.5" fill="#000000">0.7</text>
<path d="M2221.1 197.2H2304" stroke="#000000" stroke-width="6"/>
<text transform="translate(2310 218.5) scale(1.0650 1)" font-size="51.5" fill="#000000">0.8</text>
<path d="M2221.1 262.6H2304" stroke="#0000ff" stroke-width="6"/>
<text transform="translate(2310 283.9) scale(1.0650 1)" font-size="51.5" fill="#000000">0.9</text>
<path d="M2221.1 328H2304" stroke="#00ff00" stroke-width="6"/>
<text transform="translate(2310 349.3) scale(1.0650 1)" font-size="51.5" fill="#000000">1.0</text>
<clipPath id="c1"><rect x="229" y="1307.2" width="2196.5" height="979.9"/></clipPath>
<g clip-path="url(#c1)" fill="none" stroke-width="6.4" stroke-linejoin="round" stroke-linecap="butt">
<path stroke="#ff0000" d="M231 2232.5L233 2231L235.1 2229.6L237.2 2228.1L239.2 2226.7L241.2 2225.2L243.2 2223.6L245.2 2222.1L247.1 2220.5L249 2218.9L250.9 2217.2L252.8 2215.6L254.6 2213.9L256.5 2212.2L258.3 2210.5L260.1 2208.8L261.8 2207L263.6 2205.3L265.3 2203.5L267 2201.7L268.8 2199.9L270.5 2198.1L272.1 2196.3L273.8 2194.4L275.5 2192.6L277.1 2190.7L278.8 2188.9L280.5 2187L282.1 2185.1L283.7 2183.2L285.4 2181.4L287 2179.5L288.6 2177.6L290.3 2175.7L291.9 2173.8L293.5 2171.9L295.2 2170L296.8 2168.1L298.5 2166.2L300.1 2164.3L301.8 2162.4L303.5 2160.6L305.1 2158.7L306.8 2156.8L308.4 2154.9L310.1 2153L311.8 2151.1L313.4 2149.3L315.1 2147.4L316.7 2145.5L318.4 2143.6L320 2141.7L321.6 2139.8L323.2 2137.9L324.9 2136L326.5 2134L328.1 2132.1L329.6 2130.2L331.2 2128.2L332.7 2126.2L334.2 2124.3L335.6 2122.2L337.1 2120.2L338.5 2118.2L339.8 2116.1L341.1 2114L342.4 2111.9L343.7 2109.8L345 2107.6L346.2 2105.5L347.4 2103.3L348.6 2101.1L349.8 2098.9L351 2096.7L352.1 2094.5L353.2 2092.3L354.4 2090.1L355.5 2087.9L356.6 2085.6L357.7 2083.4L358.8 2081.1L359.9 2078.9L360.9 2076.7L362 2074.4L363.1 2072.2L364.2 2069.9L365.3 2067.7L366.4 2065.4L367.5 2063.2L368.6 2060.9L369.8 2058.7L370.9 2056.5L372 2054.2L373.2 2052L374.3 2049.8L375.5 2047.6L376.7 2045.4L377.9 2043.2L379.1 2041L380.3 2038.8L381.5 2036.6L382.7 2034.5L384 2032.3L385.2 2030.1L386.4 2028L387.7 2025.8L389 2023.6L390.2 2021.5L391.5 2019.4L392.8 2017.2L394.1 2015.1L395.5 2013L396.8 2010.9L398.1 2008.7L399.5 2006.6L400.8 2004.5L402.2 2002.5L403.5 2000.4L404.9 1998.3L406.3 1996.2L407.7 1994.2L409.1 1992.1L410.5 1990.1L412 1988L413.4 1986L414.9 1983.9L416.3 1981.9L417.8 1979.9L419.3 1977.9L420.8 1975.9L422.3 1973.9L423.8 1971.9L425.3 1969.9L426.8 1968L428.4 1966L429.9 1964.1L431.5 1962.1L433 1960.2L434.6 1958.2L436.2 1956.3L437.8 1954.4L439.4 1952.5L441 1950.6L442.7 1948.7L444.3 1946.8L446 1945L447.6 1943.1L449.3 1941.3L451 1939.4L452.7 1937.6L454.4 1935.7L456.1 1933.9L457.8 1932.1L459.6 1930.3L461.3 1928.5L463.1 1926.7L464.8 1925L466.6 1923.2L468.4 1921.5L470.2 1919.7L472 1918L473.8 1916.3L475.6 1914.5L477.4 1912.8L479.3 1911.1L481.1 1909.5L483 1907.8L484.9 1906.1L486.7 1904.5L488.6 1902.8L490.5 1901.2L492.4 1899.5L494.3 1897.9L496.3 1896.3L498.2 1894.7L500.1 1893.1L502.1 1891.6L504 1890L506 1888.4L508 1886.9L509.9 1885.4L511.9 1883.9L513.9 1882.3L515.9 1880.8L517.9 1879.3L520 1877.9L522 1876.4L524 1874.9L526.1 1873.5L528.1 1872.1L530.2 1870.6L532.2 1869.2L534.3 1867.8L536.4 1866.4L538.5 1865.1L540.5 1863.7L542.6 1862.3L544.8 1861L546.9 1859.7L549 1858.3L551.1 1857L553.2 1855.7L555.4 1854.4L557.5 1853.2L559.7 1851.9L561.8 1850.7L564 1849.4L566.2 1848.2L568.3 1847L570.5 1845.7L572.7 1844.5L574.9 1843.4L577.1 1842.2L579.3 1841L581.5 1839.8L583.7 1838.7L585.9 1837.5L588.2 1836.4L590.4 1835.3L592.6 1834.2L594.8 1833L597.1 1831.9L599.3 1830.8L601.6 1829.7L603.8 1828.7L606.1 1827.6L608.3 1826.5L610.6 1825.4L612.8 1824.4L615.1 1823.3L617.4 1822.3L619.6 1821.2L621.9 1820.2L624.2 1819.1L626.4 1818.1L628.7 1817.1L631 1816L633.3 1815L635.6 1814L637.8 1813L640.1 1812L642.4 1811L644.7 1810L647 1808.9L649.3 1807.9L651.6 1806.9L653.9 1805.9L656.1 1804.9L658.4 1804L660.7 1803L663 1802L665.3 1801L667.6 1800L669.9 1799L672.2 1798.1L674.5 1797.1L676.8 1796.1L679.1 1795.1L681.4 1794.2L683.7 1793.2L686 1792.2L688.4 1791.3L690.7 1790.3L693 1789.4L695.3 1788.4L697.6 1787.5L699.9 1786.5L702.2 1785.6L704.5 1784.7L706.9 1783.7L709.2 1782.8L711.5 1781.9L713.8 1780.9L716.1 1780L718.5 1779.1L720.8 1778.2L723.1 1777.3L725.4 1776.3L727.8 1775.4L730.1 1774.5L732.4 1773.6L734.7 1772.7L737.1 1771.8L739.4 1770.9L741.7 1770L744.1 1769.2L746.4 1768.3L748.7 1767.4L751.1 1766.5L753.4 1765.6L755.8 1764.8L758.1 1763.9L760.4 1763L762.8 1762.2L765.1 1761.3L767.5 1760.4L769.8 1759.6L772.2 1758.7L774.5 1757.9L776.9 1757L779.2 1756.2L781.6 1755.3L783.9 1754.5L786.3 1753.7L788.6 1752.8L791 1752L793.3 1751.2L795.7 1750.3L798.1 1749.5L800.4 1748.7L802.8 1747.9L805.1 1747.1L807.5 1746.3L809.9 1745.4L812.2 1744.6L814.6 1743.8L817 1743L819.3 1742.2L821.7 1741.4L824.1 1740.6L826.4 1739.9L828.8 1739.1L831.2 1738.3L833.5 1737.5L835.9 1736.7L838.3 1736L840.7 1735.2L843 1734.4L845.4 1733.6L847.8 1732.9L850.2 1732.1L852.6 1731.3L854.9 1730.6L857.3 1729.8L859.7 1729.1L862.1 1728.3L864.5 1727.6L866.8 1726.8L869.2 1726.1L871.6 1725.4L874 1724.6L876.4 1723.9L878.8 1723.2L881.2 1722.4L883.6 1721.7L885.9 1721L888.3 1720.3L890.7 1719.5L893.1 1718.8L895.5 1718.1L897.9 1717.4L900.3 1716.7L902.7 1716L905.1 1715.3L907.5 1714.6L909.9 1713.9L912.3 1713.2L914.7 1712.5L917.1 1711.8L919.5 1711.1L921.9 1710.4L924.3 1709.7L926.7 1709L929.1 1708.4L931.5 1707.7L933.9 1707L936.3 1706.3L938.7 1705.7L941.1 1705L943.6 1704.3L946 1703.7L948.4 1703L950.8 1702.3L953.2 1701.7L955.6 1701L958 1700.4L960.4 1699.7L962.9 1699.1L965.3 1698.4L967.7 1697.8L970.1 1697.1L972.5 1696.5L974.9 1695.9L977.3 1695.2L979.8 1694.6L982.2 1694L984.6 1693.3L987 1692.7L989.4 1692.1L991.9 1691.5L994.3 1690.8L996.7 1690.2L999.1 1689.6L1001.6 1689L1004 1688.4L1006.4 1687.8L1008.8 1687.2L1011.3 1686.6L1013.7 1686L1016.1 1685.4L1018.5 1684.8L1021 1684.2L1023.4 1683.6L1025.8 1683L1028.3 1682.4L1030.7 1681.8L1033.1 1681.2L1035.5 1680.6L1038 1680.1L1040.4 1679.5L1042.8 1678.9L1045.3 1678.3L1047.7 1677.7L1050.1 1677.2L1052.6 1676.6L1055 1676L1057.4 1675.5L1059.9 1674.9L1062.3 1674.3L1064.8 1673.8L1067.2 1673.2L1069.6 1672.7L1072.1 1672.1L1074.5 1671.6L1076.9 1671L1079.4 1670.5L1081.8 1669.9L1084.3 1669.4L1086.7 1668.8L1089.1 1668.3L1091.6 1667.8L1094 1667.2L1096.5 1666.7L1098.9 1666.1L1101.3 1665.6L1103.8 1665.1L1106.2 1664.6L1108.7 1664L1111.1 1663.5L1113.6 1663L1116 1662.5L1118.5 1661.9L1120.9 1661.4L1123.3 1660.9L1125.8 1660.4L1128.2 1659.9L1130.7 1659.4L1133.1 1658.9L1135.6 1658.4L1138 1657.9L1140.5 1657.3L1142.9 1656.8L1145.4 1656.3L1147.8 1655.8L1150.3 1655.4L1152.7 1654.9L1155.2 1654.4L1157.6 1653.9L1160.1 1653.4L1162.5 1652.9L1165 1652.4L1167.4 1651.9L1169.9 1651.4L1172.3 1651L1174.8 1650.5L1177.2 1650L1179.7 1649.5L1182.1 1649L1184.6 1648.6L1187 1648.1L1189.5 1647.6L1191.9 1647.2L1194.4 1646.7L1196.9 1646.2L1199.3 1645.8L1201.8 1645.3L1204.2 1644.8L1206.7 1644.4L1209.1 1643.9L1211.6 1643.5L1214 1643L1216.5 1642.6L1219 1642.1L1221.4 1641.7L1223.9 1641.2L1226.3 1640.8L1228.8 1640.3L1231.2 1639.9L1233.7 1639.4L1236.2 1639L1238.6 1638.5L1241.1 1638.1L1243.5 1637.7L1246 1637.2L1248.5 1636.8L1250.9 1636.4L1253.4 1635.9L1255.8 1635.5L1258.3 1635.1L1260.8 1634.7L1263.2 1634.2L1265.7 1633.8L1268.1 1633.4L1270.6 1633L1273.1 1632.5L1275.5 1632.1L1278 1631.7L1280.5 1631.3L1282.9 1630.9L1285.4 1630.5L1287.8 1630.1L1290.3 1629.7L1292.8 1629.2L1295.2 1628.8L1297.7 1628.4L1300.2 1628L1302.6 1627.6L1305.1 1627.2L1307.6 1626.8L1310 1626.4L1312.5 1626L1315 1625.6L1317.4 1625.2L1319.9 1624.8L1322.4 1624.5L1324.8 1624.1L1327.3 1623.7L1329.8 1623.3L1332.2 1622.9L1334.7 1622.5L1337.2 1622.1L1339.6 1621.7L1342.1 1621.4L1344.6 1621L1347 1620.6L1349.5 1620.2L1352 1619.8L1354.4 1619.5L1356.9 1619.1L1359.4 1618.7L1361.9 1618.3L1364.3 1618L1366.8 1617.6L1369.3 1617.2L1371.7 1616.9L1374.2 1616.5L1376.7 1616.1L1379.2 1615.8L1381.6 1615.4L1384.1 1615.1L1386.6 1614.7L1389 1614.3L1391.5 1614L1394 1613.6L1396.5 1613.3L1398.9 1612.9L1401.4 1612.6L1403.9 1612.2L1406.3 1611.9L1408.8 1611.5L1411.3 1611.2L1413.8 1610.8L1416.2 1610.5L1418.7 1610.1L1421.2 1609.8L1423.7 1609.4L1426.1 1609.1L1428.6 1608.7L1431.1 1608.4L1433.6 1608.1L1436 1607.7L1438.5 1607.4L1441 1607L1443.5 1606.7L1445.9 1606.4L1448.4 1606L1450.9 1605.7L1453.4 1605.4L1455.8 1605L1458.3 1604.7L1460.8 1604.4L1463.3 1604.1L1465.7 1603.7L1468.2 1603.4L1470.7 1603.1L1473.2 1602.8L1475.7 1602.4L1478.1 1602.1L1480.6 1601.8L1483.1 1601.5L1485.6 1601.2L1488 1600.8L1490.5 1600.5L1493 1600.2L1495.5 1599.9L1498 1599.6L1500.4 1599.3L1502.9 1599L1505.4 1598.6L1507.9 1598.3L1510.4 1598L1512.8 1597.7L1515.3 1597.4L1517.8 1597.1L1520.3 1596.8L1522.8 1596.5L1525.2 1596.2L1527.7 1595.9L1530.2 1595.6L1532.7 1595.3L1535.2 1595L1537.6 1594.7L1540.1 1594.4L1542.6 1594.1L1545.1 1593.8L1547.6 1593.5L1550 1593.2L1552.5 1592.9L1555 1592.6L1557.5 1592.3L1560 1592L1562.4 1591.7L1564.9 1591.4L1567.4 1591.1L1569.9 1590.8L1572.4 1590.6L1574.9 1590.3L1577.3 1590L1579.8 1589.7L1582.3 1589.4L1584.8 1589.1L1587.3 1588.8L1589.7 1588.5L1592.2 1588.3L1594.7 1588L1597.2 1587.7L1599.7 1587.4L1602.2 1587.1L1604.6 1586.9L1607.1 1586.6L1609.6 1586.3L1612.1 1586L1614.6 1585.7L1617.1 1585.5L1619.5 1585.2L1622 1584.9L1624.5 1584.6L1627 1584.4L1629.5 1584.1L1632 1583.8L1634.4 1583.5L1636.9 1583.3L1639.4 1583L1641.9 1582.7L1644.4 1582.5L1646.9 1582.2L1649.3 1581.9L1651.8 1581.6L1654.3 1581.4L1656.8 1581.1L1659.3 1580.8L1661.8 1580.6L1664.2 1580.3L1666.7 1580L1669.2 1579.8L1671.7 1579.5L1674.2 1579.3L1676.7 1579L1679.2 1578.7L1681.6 1578.5L1684.1 1578.2L1686.6 1578L1689.1 1577.7L1691.6 1577.4L1694.1 1577.2L1696.6 1576.9L1699 1576.7L1701.5 1576.4L1704 1576.1L1706.5 1575.9L1709 1575.6L1711.5 1575.4L1714 1575.1L1716.4 1574.9L1718.9 1574.6L1721.4 1574.4L1723.9 1574.1L1726.4 1573.9L1728.9 1573.6L1731.4 1573.4L1733.8 1573.1L1736.3 1572.9L1738.8 1572.6L1741.3 1572.4L1743.8 1572.1L1746.3 1571.9L1748.8 1571.6L1751.2 1571.4L1753.7 1571.2L1756.2 1570.9L1758.7 1570.7L1761.2 1570.4L1763.7 1570.2L1766.2 1569.9L1768.7 1569.7L1771.1 1569.5L1773.6 1569.2L1776.1 1569L1778.6 1568.7L1781.1 1568.5L1783.6 1568.3L1786.1 1568L1788.5 1567.8L1791 1567.6L1793.5 1567.3L1796 1567.1L1798.5 1566.9L1801 1566.6L1803.5 1566.4L1806 1566.2L1808.5 1565.9L1810.9 1565.7L1813.4 1565.5L1815.9 1565.2L1818.4 1565L1820.9 1564.8L1823.4 1564.5L1825.9 1564.3L1828.4 1564.1L1830.8 1563.9L1833.3 1563.6L1835.8 1563.4L1838.3 1563.2L1840.8 1563L1843.3 1562.7L1845.8 1562.5L1848.3 1562.3L1850.8 1562.1L1853.2 1561.8L1855.7 1561.6L1858.2 1561.4L1860.7 1561.2L1863.2 1561L1865.7 1560.7L1868.2 1560.5L1870.7 1560.3L1873.2 1560.1L1875.6 1559.9L1878.1 1559.6L1880.6 1559.4L1883.1 1559.2L1885.6 1559L1888.1 1558.8L1890.6 1558.6L1893.1 1558.3L1895.6 1558.1L1898 1557.9L1900.5 1557.7L1903 1557.5L1905.5 1557.3L1908 1557.1L1910.5 1556.9L1913 1556.7L1915.5 1556.4L1918 1556.2L1920.5 1556L1922.9 1555.8L1925.4 1555.6L1927.9 1555.4L1930.4 1555.2L1932.9 1555L1935.4 1554.8L1937.9 1554.6L1940.4 1554.4L1942.9 1554.2L1945.4 1554L1947.8 1553.8L1950.3 1553.6L1952.8 1553.4L1955.3 1553.2L1957.8 1552.9L1960.3 1552.7L1962.8 1552.5L1965.3 1552.3L1967.8 1552.1L1970.3 1551.9L1972.7 1551.7L1975.2 1551.5L1977.7 1551.4L1980.2 1551.2L1982.7 1551L1985.2 1550.8L1987.7 1550.6L1990.2 1550.4L1992.7 1550.2L1995.2 1550L1997.7 1549.8L2000.1 1549.6L2002.6 1549.4L2005.1 1549.2L2007.6 1549L2010.1 1548.8L2012.6 1548.6L2015.1 1548.4L2017.6 1548.2L2020.1 1548.1L2022.6 1547.9L2025.1 1547.7L2027.6 1547.5L2030 1547.3L2032.5 1547.1L2035 1546.9L2037.5 1546.7L2040 1546.5L2042.5 1546.4L2045 1546.2L2047.5 1546L2050 1545.8L2052.5 1545.6L2055 1545.4L2057.5 1545.2L2059.9 1545.1L2062.4 1544.9L2064.9 1544.7L2067.4 1544.5L2069.9 1544.3L2072.4 1544.2L2074.9 1544L2077.4 1543.8L2079.9 1543.6L2082.4 1543.4L2084.9 1543.3L2087.4 1543.1L2089.9 1542.9L2092.3 1542.7L2094.8 1542.5L2097.3 1542.4L2099.8 1542.2L2102.3 1542L2104.8 1541.8L2107.3 1541.7L2109.8 1541.5L2112.3 1541.3L2114.8 1541.1L2117.3 1541L2119.8 1540.8L2122.3 1540.6L2124.7 1540.4L2127.2 1540.3L2129.7 1540.1L2132.2 1539.9L2134.7 1539.7L2137.2 1539.6L2139.7 1539.4L2142.2 1539.2L2144.7 1539.1L2147.2 1538.9L2149.7 1538.7L2152.2 1538.6L2154.7 1538.4L2157.2 1538.2L2159.6 1538.1L2162.1 1537.9L2164.6 1537.7L2167.1 1537.5L2169.6 1537.4L2172.1 1537.2L2174.6 1537.1L2177.1 1536.9L2179.6 1536.7L2182.1 1536.6L2184.6 1536.4L2187.1 1536.2L2189.6 1536.1L2192.1 1535.9L2194.6 1535.7L2197 1535.6L2199.5 1535.4L2202 1535.3L2204.5 1535.1L2207 1534.9L2209.5 1534.8L2212 1534.6L2214.5 1534.4L2217 1534.3L2219.5 1534.1L2222 1534L2224.5 1533.8L2227 1533.7L2229.5 1533.5L2232 1533.3L2234.4 1533.2L2236.9 1533L2239.4 1532.9L2241.9 1532.7L2244.4 1532.6L2246.9 1532.4L2249.4 1532.2L2251.9 1532.1L2254.4 1531.9L2256.9 1531.8L2259.4 1531.6L2261.9 1531.5L2264.4 1531.3L2266.9 1531.2L2269.4 1531L2271.8 1530.9L2274.3 1530.7L2276.8 1530.6L2279.3 1530.4L2281.8 1530.3L2284.3 1530.1L2286.8 1530L2289.3 1529.8L2291.8 1529.7L2294.3 1529.5L2296.8 1529.4L2299.3 1529.2L2301.8 1529.1L2304.3 1528.9L2306.8 1528.8L2309.3 1528.6L2311.8 1528.5L2314.2 1528.3L2316.7 1528.2L2319.2 1528L2321.7 1527.9L2324.2 1527.7L2326.7 1527.6L2329.2 1527.4L2331.7 1527.3L2334.2 1527.1L2336.7 1527L2339.2 1526.9L2341.7 1526.7L2344.2 1526.6L2346.7 1526.4L2349.2 1526.3L2351.7 1526.1L2354.1 1526L2356.6 1525.9L2359.1 1525.7L2361.6 1525.6L2364.1 1525.4L2366.6 1525.3L2369.1 1525.1L2371.6 1525L2374.1 1524.9L2376.6 1524.7L2379.1 1524.6L2381.6 1524.4L2384.1 1524.3L2386.6 1524.2L2389.1 1524L2391.6 1523.9L2394.1 1523.7L2396.5 1523.6L2399 1523.5L2401.5 1523.3L2404 1523.2L2406.5 1523.1L2409 1522.9L2411.5 1522.8L2414 1522.6L2416.5 1522.5L2419 1522.4L2421.5 1522.2L2424 1522.3"/>
<path stroke="#000000" d="M232 2233L234.1 2231.7L236.2 2230.4L238.4 2229L240.5 2227.7L242.6 2226.3L244.6 2224.8L246.7 2223.4L248.7 2222L250.8 2220.5L252.8 2219L254.7 2217.4L256.7 2215.9L258.7 2214.3L260.6 2212.7L262.5 2211.1L264.4 2209.5L266.3 2207.9L268.1 2206.2L270 2204.5L271.8 2202.8L273.6 2201.1L275.4 2199.3L277.2 2197.6L278.9 2195.8L280.6 2194L282.4 2192.2L284 2190.4L285.7 2188.5L287.4 2186.7L289 2184.8L290.6 2182.9L292.2 2181L293.8 2179.1L295.4 2177.1L296.9 2175.2L298.5 2173.2L300 2171.2L301.5 2169.2L302.9 2167.2L304.4 2165.2L305.8 2163.1L307.2 2161.1L308.6 2159L310 2156.9L311.4 2154.8L312.7 2152.7L314 2150.6L315.3 2148.5L316.6 2146.4L317.9 2144.2L319.2 2142.1L320.4 2139.9L321.7 2137.8L322.9 2135.6L324.2 2133.4L325.4 2131.3L326.6 2129.1L327.8 2126.9L329 2124.7L330.2 2122.5L331.4 2120.3L332.6 2118.1L333.8 2115.9L335 2113.7L336.2 2111.5L337.4 2109.3L338.6 2107.1L339.8 2104.9L341 2102.7L342.2 2100.5L343.4 2098.3L344.6 2096.1L345.8 2093.9L347 2091.7L348.2 2089.5L349.4 2087.3L350.6 2085.1L351.8 2082.9L353 2080.7L354.1 2078.5L355.3 2076.3L356.5 2074.1L357.6 2071.9L358.7 2069.7L359.9 2067.5L361 2065.2L362.1 2063L363.2 2060.7L364.3 2058.5L365.4 2056.3L366.4 2054L367.5 2051.7L368.5 2049.5L369.6 2047.2L370.6 2045L371.6 2042.7L372.7 2040.4L373.7 2038.1L374.7 2035.9L375.7 2033.6L376.7 2031.3L377.7 2029L378.7 2026.7L379.8 2024.4L380.8 2022.2L381.8 2019.9L382.8 2017.6L383.8 2015.3L384.8 2013L385.8 2010.7L386.9 2008.5L387.9 2006.2L388.9 2003.9L390 2001.6L391 1999.4L392.1 1997.1L393.2 1994.8L394.2 1992.6L395.3 1990.3L396.4 1988L397.5 1985.8L398.6 1983.5L399.7 1981.3L400.8 1979L401.9 1976.8L403 1974.6L404.2 1972.3L405.3 1970.1L406.5 1967.9L407.6 1965.7L408.8 1963.4L410 1961.2L411.2 1959L412.4 1956.9L413.6 1954.7L414.8 1952.5L416 1950.3L417.3 1948.1L418.5 1946L419.8 1943.8L421.1 1941.7L422.4 1939.6L423.7 1937.4L425 1935.3L426.3 1933.2L427.7 1931.1L429 1929L430.4 1926.9L431.8 1924.8L433.2 1922.8L434.6 1920.7L436 1918.7L437.5 1916.6L438.9 1914.6L440.4 1912.6L441.9 1910.6L443.4 1908.6L444.9 1906.6L446.4 1904.6L447.9 1902.6L449.5 1900.7L451 1898.7L452.6 1896.8L454.2 1894.9L455.8 1892.9L457.4 1891L459 1889.1L460.6 1887.2L462.3 1885.3L463.9 1883.5L465.6 1881.6L467.3 1879.7L469 1877.9L470.6 1876L472.4 1874.2L474.1 1872.4L475.8 1870.6L477.5 1868.8L479.3 1867L481 1865.2L482.8 1863.4L484.5 1861.6L486.3 1859.8L488.1 1858.1L489.9 1856.3L491.7 1854.6L493.5 1852.8L495.3 1851.1L497.1 1849.4L498.9 1847.7L500.8 1846L502.6 1844.3L504.5 1842.6L506.3 1840.9L508.2 1839.2L510 1837.6L511.9 1835.9L513.8 1834.3L515.6 1832.6L517.5 1831L519.4 1829.3L521.3 1827.7L523.2 1826L525.1 1824.4L527 1822.8L528.9 1821.2L530.8 1819.5L532.7 1817.9L534.6 1816.3L536.5 1814.7L538.4 1813.1L540.3 1811.4L542.2 1809.8L544.1 1808.2L546 1806.6L547.9 1805L549.8 1803.4L551.7 1801.8L553.6 1800.2L555.5 1798.6L557.5 1797L559.4 1795.4L561.3 1793.9L563.3 1792.3L565.2 1790.8L567.2 1789.2L569.2 1787.7L571.2 1786.2L573.2 1784.8L575.2 1783.3L577.2 1781.9L579.3 1780.5L581.3 1779.1L583.4 1777.7L585.5 1776.3L587.6 1775L589.7 1773.6L591.8 1772.3L593.9 1771L596.1 1769.7L598.2 1768.5L600.4 1767.2L602.5 1765.9L604.7 1764.7L606.8 1763.4L609 1762.2L611.2 1761L613.4 1759.7L615.6 1758.5L617.7 1757.3L619.9 1756.1L622.1 1754.8L624.3 1753.6L626.5 1752.4L628.6 1751.1L630.8 1749.9L633 1748.6L635.2 1747.4L637.3 1746.1L639.5 1744.9L641.7 1743.6L643.8 1742.4L646 1741.1L648.1 1739.8L650.3 1738.5L652.5 1737.3L654.6 1736L656.8 1734.7L658.9 1733.5L661.1 1732.2L663.2 1730.9L665.4 1729.7L667.5 1728.4L669.7 1727.2L671.9 1725.9L674 1724.7L676.2 1723.5L678.4 1722.3L680.6 1721.1L682.8 1719.9L685 1718.7L687.2 1717.6L689.4 1716.4L691.6 1715.3L693.8 1714.2L696.1 1713.1L698.3 1712L700.6 1711L702.8 1709.9L705.1 1708.9L707.4 1707.9L709.7 1706.9L711.9 1705.9L714.2 1704.9L716.5 1703.9L718.8 1702.9L721.1 1701.9L723.4 1701L725.7 1700L728 1699L730.3 1698.1L732.6 1697.1L735 1696.1L737.3 1695.2L739.6 1694.2L741.9 1693.2L744.2 1692.3L746.5 1691.3L748.8 1690.3L751.1 1689.3L753.4 1688.4L755.7 1687.4L758 1686.4L760.3 1685.4L762.6 1684.5L764.9 1683.5L767.2 1682.5L769.6 1681.5L771.9 1680.6L774.2 1679.6L776.5 1678.6L778.8 1677.7L781.1 1676.7L783.4 1675.8L785.7 1674.9L788 1673.9L790.4 1673L792.7 1672.1L795 1671.2L797.3 1670.2L799.7 1669.3L802 1668.4L804.3 1667.6L806.6 1666.7L809 1665.8L811.3 1664.9L813.6 1664L816 1663.2L818.3 1662.3L820.6 1661.4L823 1660.6L825.3 1659.7L827.7 1658.8L830 1658L832.3 1657.1L834.7 1656.3L837 1655.4L839.4 1654.6L841.7 1653.7L844.1 1652.9L846.4 1652.1L848.8 1651.2L851.1 1650.4L853.5 1649.5L855.8 1648.7L858.2 1647.9L860.5 1647L862.9 1646.2L865.2 1645.3L867.6 1644.5L870 1643.7L872.3 1642.9L874.7 1642L877 1641.2L879.4 1640.4L881.8 1639.6L884.1 1638.8L886.5 1637.9L888.8 1637.1L891.2 1636.3L893.6 1635.5L895.9 1634.7L898.3 1633.9L900.7 1633.1L903.1 1632.3L905.4 1631.5L907.8 1630.7L910.2 1629.9L912.5 1629.1L914.9 1628.3L917.3 1627.5L919.7 1626.7L922 1625.9L924.4 1625.1L926.8 1624.4L929.2 1623.6L931.6 1622.8L933.9 1622L936.3 1621.2L938.7 1620.5L941.1 1619.7L943.5 1618.9L945.9 1618.2L948.3 1617.4L950.6 1616.7L953 1615.9L955.4 1615.1L957.8 1614.4L960.2 1613.6L962.6 1612.9L965 1612.1L967.4 1611.4L969.8 1610.7L972.2 1609.9L974.6 1609.2L976.9 1608.5L979.3 1607.7L981.7 1607L984.1 1606.3L986.5 1605.5L988.9 1604.8L991.3 1604.1L993.7 1603.4L996.1 1602.7L998.5 1602L1000.9 1601.3L1003.3 1600.6L1005.7 1599.9L1008.2 1599.2L1010.6 1598.5L1013 1597.8L1015.4 1597.1L1017.8 1596.4L1020.2 1595.7L1022.6 1595L1025 1594.4L1027.4 1593.7L1029.8 1593L1032.2 1592.4L1034.6 1591.7L1037.1 1591L1039.5 1590.4L1041.9 1589.7L1044.3 1589.1L1046.7 1588.4L1049.1 1587.8L1051.6 1587.1L1054 1586.5L1056.4 1585.8L1058.8 1585.2L1061.2 1584.6L1063.6 1583.9L1066.1 1583.3L1068.5 1582.7L1070.9 1582.1L1073.3 1581.5L1075.8 1580.8L1078.2 1580.2L1080.6 1579.6L1083 1579L1085.5 1578.4L1087.9 1577.8L1090.3 1577.2L1092.7 1576.6L1095.2 1576L1097.6 1575.4L1100 1574.9L1102.5 1574.3L1104.9 1573.7L1107.3 1573.1L1109.7 1572.5L1112.2 1572L1114.6 1571.4L1117 1570.8L1119.5 1570.3L1121.9 1569.7L1124.3 1569.1L1126.8 1568.6L1129.2 1568L1131.7 1567.5L1134.1 1566.9L1136.5 1566.4L1139 1565.8L1141.4 1565.3L1143.8 1564.7L1146.3 1564.2L1148.7 1563.7L1151.2 1563.1L1153.6 1562.6L1156 1562.1L1158.5 1561.6L1160.9 1561L1163.4 1560.5L1165.8 1560L1168.3 1559.5L1170.7 1559L1173.2 1558.5L1175.6 1558L1178 1557.5L1180.5 1557L1182.9 1556.5L1185.4 1556L1187.8 1555.5L1190.3 1555L1192.7 1554.5L1195.2 1554L1197.6 1553.5L1200.1 1553L1202.5 1552.5L1205 1552.1L1207.4 1551.6L1209.9 1551.1L1212.3 1550.6L1214.8 1550.2L1217.2 1549.7L1219.7 1549.2L1222.2 1548.8L1224.6 1548.3L1227.1 1547.8L1229.5 1547.4L1232 1546.9L1234.4 1546.5L1236.9 1546L1239.3 1545.6L1241.8 1545.1L1244.3 1544.7L1246.7 1544.2L1249.2 1543.8L1251.6 1543.4L1254.1 1542.9L1256.6 1542.5L1259 1542.1L1261.5 1541.6L1263.9 1541.2L1266.4 1540.8L1268.9 1540.4L1271.3 1539.9L1273.8 1539.5L1276.3 1539.1L1278.7 1538.7L1281.2 1538.3L1283.6 1537.8L1286.1 1537.4L1288.6 1537L1291 1536.6L1293.5 1536.2L1296 1535.8L1298.4 1535.4L1300.9 1535L1303.4 1534.6L1305.8 1534.2L1308.3 1533.8L1310.8 1533.4L1313.2 1533L1315.7 1532.6L1318.2 1532.3L1320.7 1531.9L1323.1 1531.5L1325.6 1531.1L1328.1 1530.7L1330.5 1530.4L1333 1530L1335.5 1529.6L1338 1529.2L1340.4 1528.9L1342.9 1528.5L1345.4 1528.1L1347.8 1527.7L1350.3 1527.4L1352.8 1527L1355.3 1526.7L1357.7 1526.3L1360.2 1525.9L1362.7 1525.6L1365.2 1525.2L1367.6 1524.9L1370.1 1524.5L1372.6 1524.2L1375.1 1523.8L1377.5 1523.5L1380 1523.1L1382.5 1522.8L1385 1522.4L1387.4 1522.1L1389.9 1521.7L1392.4 1521.4L1394.9 1521.1L1397.4 1520.7L1399.8 1520.4L1402.3 1520.1L1404.8 1519.7L1407.3 1519.4L1409.7 1519.1L1412.2 1518.7L1414.7 1518.4L1417.2 1518.1L1419.7 1517.8L1422.1 1517.4L1424.6 1517.1L1427.1 1516.8L1429.6 1516.5L1432.1 1516.1L1434.5 1515.8L1437 1515.5L1439.5 1515.2L1442 1514.9L1444.5 1514.6L1446.9 1514.3L1449.4 1513.9L1451.9 1513.6L1454.4 1513.3L1456.9 1513L1459.4 1512.7L1461.8 1512.4L1464.3 1512.1L1466.8 1511.8L1469.3 1511.5L1471.8 1511.2L1474.3 1510.9L1476.7 1510.6L1479.2 1510.3L1481.7 1510L1484.2 1509.7L1486.7 1509.4L1489.2 1509.1L1491.6 1508.8L1494.1 1508.5L1496.6 1508.3L1499.1 1508L1501.6 1507.7L1504.1 1507.4L1506.6 1507.1L1509 1506.8L1511.5 1506.5L1514 1506.2L1516.5 1506L1519 1505.7L1521.5 1505.4L1523.9 1505.1L1526.4 1504.8L1528.9 1504.6L1531.4 1504.3L1533.9 1504L1536.4 1503.7L1538.9 1503.4L1541.3 1503.2L1543.8 1502.9L1546.3 1502.6L1548.8 1502.3L1551.3 1502.1L1553.8 1501.8L1556.3 1501.5L1558.7 1501.3L1561.2 1501L1563.7 1500.7L1566.2 1500.5L1568.7 1500.2L1571.2 1499.9L1573.7 1499.7L1576.2 1499.4L1578.6 1499.1L1581.1 1498.9L1583.6 1498.6L1586.1 1498.3L1588.6 1498.1L1591.1 1497.8L1593.6 1497.6L1596 1497.3L1598.5 1497L1601 1496.8L1603.5 1496.5L1606 1496.3L1608.5 1496L1611 1495.8L1613.5 1495.5L1615.9 1495.2L1618.4 1495L1620.9 1494.7L1623.4 1494.5L1625.9 1494.2L1628.4 1494L1630.9 1493.7L1633.4 1493.5L1635.8 1493.2L1638.3 1493L1640.8 1492.8L1643.3 1492.5L1645.8 1492.3L1648.3 1492L1650.8 1491.8L1653.3 1491.5L1655.8 1491.3L1658.2 1491L1660.7 1490.8L1663.2 1490.6L1665.7 1490.3L1668.2 1490.1L1670.7 1489.9L1673.2 1489.6L1675.7 1489.4L1678.2 1489.1L1680.6 1488.9L1683.1 1488.7L1685.6 1488.4L1688.1 1488.2L1690.6 1488L1693.1 1487.7L1695.6 1487.5L1698.1 1487.3L1700.6 1487L1703 1486.8L1705.5 1486.6L1708 1486.4L1710.5 1486.1L1713 1485.9L1715.5 1485.7L1718 1485.5L1720.5 1485.2L1723 1485L1725.5 1484.8L1727.9 1484.6L1730.4 1484.3L1732.9 1484.1L1735.4 1483.9L1737.9 1483.7L1740.4 1483.5L1742.9 1483.2L1745.4 1483L1747.9 1482.8L1750.4 1482.6L1752.8 1482.4L1755.3 1482.1L1757.8 1481.9L1760.3 1481.7L1762.8 1481.5L1765.3 1481.3L1767.8 1481.1L1770.3 1480.9L1772.8 1480.7L1775.3 1480.4L1777.7 1480.2L1780.2 1480L1782.7 1479.8L1785.2 1479.6L1787.7 1479.4L1790.2 1479.2L1792.7 1479L1795.2 1478.8L1797.7 1478.6L1800.2 1478.4L1802.7 1478.2L1805.2 1478L1807.6 1477.8L1810.1 1477.5L1812.6 1477.3L1815.1 1477.1L1817.6 1476.9L1820.1 1476.7L1822.6 1476.5L1825.1 1476.3L1827.6 1476.1L1830.1 1475.9L1832.6 1475.8L1835.1 1475.6L1837.5 1475.4L1840 1475.2L1842.5 1475L1845 1474.8L1847.5 1474.6L1850 1474.4L1852.5 1474.2L1855 1474L1857.5 1473.8L1860 1473.6L1862.5 1473.4L1865 1473.2L1867.5 1473L1869.9 1472.9L1872.4 1472.7L1874.9 1472.5L1877.4 1472.3L1879.9 1472.1L1882.4 1471.9L1884.9 1471.7L1887.4 1471.5L1889.9 1471.4L1892.4 1471.2L1894.9 1471L1897.4 1470.8L1899.9 1470.6L1902.3 1470.4L1904.8 1470.3L1907.3 1470.1L1909.8 1469.9L1912.3 1469.7L1914.8 1469.5L1917.3 1469.4L1919.8 1469.2L1922.3 1469L1924.8 1468.8L1927.3 1468.6L1929.8 1468.5L1932.3 1468.3L1934.8 1468.1L1937.3 1467.9L1939.7 1467.8L1942.2 1467.6L1944.7 1467.4L1947.2 1467.2L1949.7 1467.1L1952.2 1466.9L1954.7 1466.7L1957.2 1466.6L1959.7 1466.4L1962.2 1466.2L1964.7 1466L1967.2 1465.9L1969.7 1465.7L1972.2 1465.5L1974.7 1465.4L1977.2 1465.2L1979.6 1465L1982.1 1464.9L1984.6 1464.7L1987.1 1464.5L1989.6 1464.4L1992.1 1464.2L1994.6 1464L1997.1 1463.9L1999.6 1463.7L2002.1 1463.5L2004.6 1463.4L2007.1 1463.2L2009.6 1463.1L2012.1 1462.9L2014.6 1462.7L2017.1 1462.6L2019.6 1462.4L2022.1 1462.3L2024.5 1462.1L2027 1461.9L2029.5 1461.8L2032 1461.6L2034.5 1461.5L2037 1461.3L2039.5 1461.2L2042 1461L2044.5 1460.8L2047 1460.7L2049.5 1460.5L2052 1460.4L2054.5 1460.2L2057 1460.1L2059.5 1459.9L2062 1459.8L2064.5 1459.6L2067 1459.5L2069.5 1459.3L2072 1459.2L2074.4 1459L2076.9 1458.9L2079.4 1458.7L2081.9 1458.6L2084.4 1458.4L2086.9 1458.3L2089.4 1458.1L2091.9 1458L2094.4 1457.8L2096.9 1457.7L2099.4 1457.5L2101.9 1457.4L2104.4 1457.2L2106.9 1457.1L2109.4 1456.9L2111.9 1456.8L2114.4 1456.6L2116.9 1456.5L2119.4 1456.4L2121.9 1456.2L2124.4 1456.1L2126.9 1455.9L2129.4 1455.8L2131.8 1455.6L2134.3 1455.5L2136.8 1455.4L2139.3 1455.2L2141.8 1455.1L2144.3 1454.9L2146.8 1454.8L2149.3 1454.7L2151.8 1454.5L2154.3 1454.4L2156.8 1454.2L2159.3 1454.1L2161.8 1454L2164.3 1453.8L2166.8 1453.7L2169.3 1453.6L2171.8 1453.4L2174.3 1453.3L2176.8 1453.1L2179.3 1453L2181.8 1452.9L2184.3 1452.7L2186.8 1452.6L2189.3 1452.5L2191.8 1452.3L2194.3 1452.2L2196.7 1452.1L2199.2 1451.9L2201.7 1451.8L2204.2 1451.7L2206.7 1451.5L2209.2 1451.4L2211.7 1451.3L2214.2 1451.1L2216.7 1451L2219.2 1450.9L2221.7 1450.8L2224.2 1450.6L2226.7 1450.5L2229.2 1450.4L2231.7 1450.2L2234.2 1450.1L2236.7 1450L2239.2 1449.9L2241.7 1449.7L2244.2 1449.6L2246.7 1449.5L2249.2 1449.3L2251.7 1449.2L2254.2 1449.1L2256.7 1449L2259.2 1448.8L2261.7 1448.7L2264.2 1448.6L2266.7 1448.5L2269.2 1448.3L2271.7 1448.2L2274.2 1448.1L2276.6 1448L2279.1 1447.8L2281.6 1447.7L2284.1 1447.6L2286.6 1447.5L2289.1 1447.3L2291.6 1447.2L2294.1 1447.1L2296.6 1447L2299.1 1446.9L2301.6 1446.7L2304.1 1446.6L2306.6 1446.5L2309.1 1446.4L2311.6 1446.3L2314.1 1446.1L2316.6 1446L2319.1 1445.9L2321.6 1445.8L2324.1 1445.7L2326.6 1445.5L2329.1 1445.4L2331.6 1445.3L2334.1 1445.2L2336.6 1445.1L2339.1 1444.9L2341.6 1444.8L2344.1 1444.7L2346.6 1444.6L2349.1 1444.5L2351.6 1444.4L2354.1 1444.2L2356.6 1444.1L2359.1 1444L2361.6 1443.9L2364.1 1443.8L2366.6 1443.7L2369 1443.5L2371.5 1443.4L2374 1443.3L2376.5 1443.2L2379 1443.1L2381.5 1443L2384 1442.9L2386.5 1442.7L2389 1442.6L2391.5 1442.5L2394 1442.4L2396.5 1442.3L2399 1442.2L2401.5 1442.1L2404 1441.9L2406.5 1441.8L2409 1441.7L2411.5 1441.6L2414 1441.5L2416.5 1441.4L2419 1441.3L2421.5 1441.2L2424 1441.2"/>
<path stroke="#0000ff" d="M233 2233L235 2231.6L237.2 2230.4L239.4 2229.2L241.6 2227.9L243.8 2226.6L245.9 2225.3L248.1 2223.9L250.2 2222.6L252.3 2221.2L254.4 2219.7L256.4 2218.3L258.4 2216.8L260.4 2215.3L262.4 2213.8L264.4 2212.2L266.3 2210.7L268.2 2209.1L270.1 2207.4L272 2205.8L273.8 2204.1L275.7 2202.4L277.5 2200.7L279.2 2199L281 2197.2L282.7 2195.4L284.4 2193.6L286.1 2191.8L287.8 2190L289.4 2188.1L291 2186.2L292.6 2184.3L294.2 2182.4L295.7 2180.5L297.3 2178.5L298.8 2176.6L300.3 2174.6L301.7 2172.6L303.2 2170.6L304.6 2168.5L306 2166.5L307.4 2164.4L308.7 2162.3L310.1 2160.2L311.4 2158.1L312.7 2156L313.9 2153.9L315.2 2151.7L316.5 2149.6L317.7 2147.4L318.9 2145.2L320.1 2143.1L321.3 2140.9L322.4 2138.7L323.6 2136.4L324.7 2134.2L325.9 2132L327 2129.8L328.1 2127.5L329.2 2125.3L330.3 2123L331.4 2120.7L332.4 2118.5L333.5 2116.2L334.6 2113.9L335.6 2111.7L336.7 2109.4L337.7 2107.1L338.7 2104.8L339.8 2102.5L340.8 2100.2L341.8 2098L342.9 2095.7L343.9 2093.4L344.9 2091.1L346 2088.8L347 2086.5L348 2084.3L349 2082L350.1 2079.7L351.1 2077.4L352.1 2075.2L353.1 2072.9L354.2 2070.6L355.2 2068.3L356.2 2066.1L357.2 2063.8L358.2 2061.5L359.3 2059.2L360.3 2057L361.3 2054.7L362.3 2052.4L363.3 2050.1L364.3 2047.8L365.2 2045.5L366.2 2043.3L367.2 2041L368.2 2038.7L369.1 2036.4L370.1 2034.1L371.1 2031.8L372 2029.5L372.9 2027.2L373.9 2024.8L374.8 2022.5L375.7 2020.2L376.6 2017.9L377.6 2015.6L378.5 2013.2L379.4 2010.9L380.3 2008.6L381.2 2006.2L382.1 2003.9L383 2001.6L383.8 1999.2L384.7 1996.9L385.6 1994.6L386.5 1992.2L387.4 1989.9L388.3 1987.5L389.2 1985.2L390 1982.9L390.9 1980.5L391.8 1978.2L392.7 1975.8L393.6 1973.5L394.5 1971.2L395.4 1968.8L396.2 1966.5L397.1 1964.1L398 1961.8L398.9 1959.5L399.8 1957.1L400.8 1954.8L401.7 1952.5L402.6 1950.2L403.5 1947.8L404.4 1945.5L405.4 1943.2L406.3 1940.9L407.3 1938.6L408.2 1936.3L409.2 1934L410.1 1931.7L411.1 1929.4L412.1 1927.1L413.1 1924.8L414.1 1922.5L415.1 1920.2L416.1 1917.9L417.1 1915.7L418.2 1913.4L419.2 1911.2L420.3 1908.9L421.4 1906.7L422.4 1904.4L423.5 1902.2L424.6 1899.9L425.7 1897.7L426.9 1895.5L428 1893.3L429.2 1891.1L430.3 1888.9L431.5 1886.7L432.7 1884.5L433.9 1882.3L435.1 1880.2L436.4 1878L437.6 1875.9L438.9 1873.7L440.2 1871.6L441.5 1869.5L442.8 1867.4L444.1 1865.3L445.4 1863.2L446.8 1861.1L448.2 1859L449.6 1857L451 1854.9L452.4 1852.8L453.8 1850.8L455.2 1848.8L456.7 1846.7L458.1 1844.7L459.6 1842.7L461.1 1840.7L462.6 1838.7L464.1 1836.7L465.6 1834.7L467.1 1832.7L468.6 1830.7L470.1 1828.7L471.7 1826.7L473.2 1824.7L474.8 1822.8L476.3 1820.8L477.9 1818.9L479.5 1816.9L481.1 1815L482.7 1813L484.3 1811.1L485.9 1809.2L487.5 1807.2L489.1 1805.3L490.8 1803.4L492.4 1801.5L494.1 1799.6L495.7 1797.8L497.4 1795.9L499.1 1794L500.8 1792.2L502.5 1790.3L504.2 1788.5L505.9 1786.6L507.6 1784.8L509.3 1783L511.1 1781.2L512.8 1779.4L514.6 1777.6L516.3 1775.9L518.1 1774.1L519.9 1772.3L521.7 1770.6L523.5 1768.8L525.3 1767.1L527.1 1765.4L528.9 1763.7L530.7 1762L532.5 1760.3L534.4 1758.6L536.2 1757L538.1 1755.3L540 1753.6L541.8 1752L543.7 1750.4L545.6 1748.7L547.5 1747.1L549.4 1745.5L551.3 1743.9L553.2 1742.3L555.1 1740.7L557 1739.2L559 1737.6L560.9 1736L562.9 1734.5L564.8 1732.9L566.8 1731.4L568.7 1729.9L570.7 1728.3L572.7 1726.8L574.6 1725.3L576.6 1723.8L578.6 1722.3L580.6 1720.8L582.6 1719.3L584.6 1717.9L586.6 1716.4L588.7 1714.9L590.7 1713.5L592.7 1712L594.7 1710.6L596.8 1709.1L598.8 1707.7L600.9 1706.3L602.9 1704.8L605 1703.4L607 1702L609.1 1700.6L611.2 1699.2L613.2 1697.8L615.3 1696.4L617.4 1695L619.5 1693.7L621.5 1692.3L623.6 1690.9L625.7 1689.6L627.8 1688.2L629.9 1686.8L632 1685.5L634.1 1684.1L636.2 1682.8L638.4 1681.4L640.5 1680.1L642.6 1678.8L644.7 1677.4L646.8 1676.1L648.9 1674.8L651.1 1673.5L653.2 1672.2L655.3 1670.9L657.5 1669.5L659.6 1668.2L661.7 1666.9L663.9 1665.6L666 1664.3L668.2 1663L670.3 1661.7L672.5 1660.4L674.6 1659.2L676.7 1657.9L678.9 1656.6L681 1655.3L683.2 1654L685.3 1652.7L687.5 1651.5L689.7 1650.2L691.8 1648.9L694 1647.6L696.1 1646.4L698.3 1645.1L700.4 1643.8L702.6 1642.5L704.7 1641.3L706.9 1640L709.1 1638.8L711.2 1637.5L713.4 1636.2L715.5 1635L717.7 1633.7L719.9 1632.5L722 1631.2L724.2 1630L726.4 1628.7L728.5 1627.5L730.7 1626.3L732.9 1625L735.1 1623.8L737.2 1622.6L739.4 1621.3L741.6 1620.1L743.8 1618.9L746 1617.7L748.1 1616.5L750.3 1615.2L752.5 1614L754.7 1612.8L756.9 1611.6L759.1 1610.4L761.3 1609.2L763.5 1608L765.7 1606.9L767.9 1605.7L770 1604.5L772.3 1603.3L774.5 1602.2L776.7 1601L778.9 1599.8L781.1 1598.7L783.3 1597.5L785.5 1596.4L787.7 1595.2L789.9 1594.1L792.2 1593L794.4 1591.8L796.6 1590.7L798.8 1589.6L801.1 1588.5L803.3 1587.4L805.5 1586.3L807.8 1585.2L810 1584.1L812.3 1583L814.5 1581.9L816.7 1580.8L819 1579.8L821.2 1578.7L823.5 1577.7L825.8 1576.6L828 1575.6L830.3 1574.5L832.6 1573.5L834.8 1572.5L837.1 1571.4L839.4 1570.4L841.7 1569.4L843.9 1568.4L846.2 1567.4L848.5 1566.4L850.8 1565.4L853.1 1564.4L855.4 1563.5L857.7 1562.5L860 1561.5L862.3 1560.6L864.6 1559.6L866.9 1558.7L869.2 1557.8L871.5 1556.8L873.9 1555.9L876.2 1555L878.5 1554.1L880.8 1553.1L883.2 1552.2L885.5 1551.3L887.8 1550.4L890.1 1549.5L892.5 1548.7L894.8 1547.8L897.2 1546.9L899.5 1546L901.8 1545.2L904.2 1544.3L906.5 1543.5L908.9 1542.6L911.2 1541.8L913.6 1540.9L916 1540.1L918.3 1539.3L920.7 1538.4L923 1537.6L925.4 1536.8L927.8 1536L930.1 1535.2L932.5 1534.4L934.9 1533.6L937.2 1532.8L939.6 1532L942 1531.2L944.4 1530.5L946.8 1529.7L949.1 1528.9L951.5 1528.2L953.9 1527.4L956.3 1526.6L958.7 1525.9L961.1 1525.1L963.5 1524.4L965.9 1523.7L968.2 1522.9L970.6 1522.2L973 1521.5L975.4 1520.8L977.8 1520L980.2 1519.3L982.6 1518.6L985 1517.9L987.4 1517.2L989.8 1516.5L992.3 1515.8L994.7 1515.1L997.1 1514.4L999.5 1513.7L1001.9 1513.1L1004.3 1512.4L1006.7 1511.7L1009.1 1511L1011.5 1510.4L1013.9 1509.7L1016.4 1509.1L1018.8 1508.4L1021.2 1507.8L1023.6 1507.1L1026 1506.5L1028.5 1505.8L1030.9 1505.2L1033.3 1504.5L1035.7 1503.9L1038.1 1503.3L1040.6 1502.7L1043 1502L1045.4 1501.4L1047.8 1500.8L1050.2 1500.2L1052.7 1499.6L1055.1 1499L1057.5 1498.4L1060 1497.8L1062.4 1497.2L1064.8 1496.6L1067.2 1496L1069.7 1495.4L1072.1 1494.8L1074.5 1494.2L1077 1493.6L1079.4 1493.1L1081.8 1492.5L1084.3 1491.9L1086.7 1491.3L1089.1 1490.8L1091.6 1490.2L1094 1489.7L1096.4 1489.1L1098.9 1488.5L1101.3 1488L1103.7 1487.4L1106.2 1486.9L1108.6 1486.4L1111 1485.8L1113.5 1485.3L1115.9 1484.7L1118.4 1484.2L1120.8 1483.7L1123.2 1483.2L1125.7 1482.6L1128.1 1482.1L1130.6 1481.6L1133 1481.1L1135.5 1480.6L1137.9 1480.1L1140.3 1479.5L1142.8 1479L1145.2 1478.5L1147.7 1478L1150.1 1477.5L1152.6 1477L1155 1476.6L1157.5 1476.1L1159.9 1475.6L1162.4 1475.1L1164.8 1474.6L1167.3 1474.1L1169.7 1473.7L1172.2 1473.2L1174.6 1472.7L1177.1 1472.2L1179.5 1471.8L1182 1471.3L1184.4 1470.9L1186.9 1470.4L1189.3 1469.9L1191.8 1469.5L1194.2 1469L1196.7 1468.6L1199.2 1468.1L1201.6 1467.7L1204.1 1467.3L1206.5 1466.8L1209 1466.4L1211.4 1465.9L1213.9 1465.5L1216.4 1465.1L1218.8 1464.7L1221.3 1464.2L1223.7 1463.8L1226.2 1463.4L1228.7 1463L1231.1 1462.6L1233.6 1462.1L1236 1461.7L1238.5 1461.3L1241 1460.9L1243.4 1460.5L1245.9 1460.1L1248.4 1459.7L1250.8 1459.3L1253.3 1458.9L1255.7 1458.5L1258.2 1458.1L1260.7 1457.7L1263.1 1457.3L1265.6 1457L1268.1 1456.6L1270.5 1456.2L1273 1455.8L1275.5 1455.4L1277.9 1455.1L1280.4 1454.7L1282.9 1454.3L1285.4 1453.9L1287.8 1453.6L1290.3 1453.2L1292.8 1452.8L1295.2 1452.5L1297.7 1452.1L1300.2 1451.8L1302.6 1451.4L1305.1 1451.1L1307.6 1450.7L1310.1 1450.4L1312.5 1450L1315 1449.7L1317.5 1449.3L1320 1449L1322.4 1448.6L1324.9 1448.3L1327.4 1448L1329.8 1447.6L1332.3 1447.3L1334.8 1447L1337.3 1446.6L1339.7 1446.3L1342.2 1446L1344.7 1445.7L1347.2 1445.3L1349.7 1445L1352.1 1444.7L1354.6 1444.4L1357.1 1444.1L1359.6 1443.7L1362 1443.4L1364.5 1443.1L1367 1442.8L1369.5 1442.5L1372 1442.2L1374.4 1441.9L1376.9 1441.6L1379.4 1441.3L1381.9 1441L1384.4 1440.7L1386.8 1440.4L1389.3 1440.1L1391.8 1439.8L1394.3 1439.5L1396.8 1439.2L1399.2 1438.9L1401.7 1438.6L1404.2 1438.4L1406.7 1438.1L1409.2 1437.8L1411.6 1437.5L1414.1 1437.2L1416.6 1436.9L1419.1 1436.7L1421.6 1436.4L1424.1 1436.1L1426.5 1435.8L1429 1435.6L1431.5 1435.3L1434 1435L1436.5 1434.8L1439 1434.5L1441.4 1434.2L1443.9 1434L1446.4 1433.7L1448.9 1433.4L1451.4 1433.2L1453.9 1432.9L1456.4 1432.7L1458.8 1432.4L1461.3 1432.1L1463.8 1431.9L1466.3 1431.6L1468.8 1431.4L1471.3 1431.1L1473.8 1430.9L1476.2 1430.6L1478.7 1430.4L1481.2 1430.1L1483.7 1429.9L1486.2 1429.7L1488.7 1429.4L1491.2 1429.2L1493.7 1428.9L1496.1 1428.7L1498.6 1428.5L1501.1 1428.2L1503.6 1428L1506.1 1427.7L1508.6 1427.5L1511.1 1427.3L1513.6 1427L1516 1426.8L1518.5 1426.6L1521 1426.3L1523.5 1426.1L1526 1425.9L1528.5 1425.7L1531 1425.4L1533.5 1425.2L1535.9 1425L1538.4 1424.8L1540.9 1424.5L1543.4 1424.3L1545.9 1424.1L1548.4 1423.9L1550.9 1423.7L1553.4 1423.4L1555.9 1423.2L1558.3 1423L1560.8 1422.8L1563.3 1422.6L1565.8 1422.4L1568.3 1422.1L1570.8 1421.9L1573.3 1421.7L1575.8 1421.5L1578.3 1421.3L1580.7 1421.1L1583.2 1420.9L1585.7 1420.7L1588.2 1420.5L1590.7 1420.3L1593.2 1420L1595.7 1419.8L1598.2 1419.6L1600.7 1419.4L1603.2 1419.2L1605.6 1419L1608.1 1418.8L1610.6 1418.6L1613.1 1418.4L1615.6 1418.2L1618.1 1418L1620.6 1417.8L1623.1 1417.6L1625.6 1417.5L1628.1 1417.3L1630.5 1417.1L1633 1416.9L1635.5 1416.7L1638 1416.5L1640.5 1416.3L1643 1416.1L1645.5 1415.9L1648 1415.7L1650.5 1415.5L1653 1415.4L1655.5 1415.2L1657.9 1415L1660.4 1414.8L1662.9 1414.6L1665.4 1414.4L1667.9 1414.3L1670.4 1414.1L1672.9 1413.9L1675.4 1413.7L1677.9 1413.5L1680.4 1413.4L1682.9 1413.2L1685.3 1413L1687.8 1412.8L1690.3 1412.7L1692.8 1412.5L1695.3 1412.3L1697.8 1412.1L1700.3 1412L1702.8 1411.8L1705.3 1411.6L1707.8 1411.4L1710.3 1411.3L1712.8 1411.1L1715.2 1410.9L1717.7 1410.8L1720.2 1410.6L1722.7 1410.4L1725.2 1410.3L1727.7 1410.1L1730.2 1409.9L1732.7 1409.8L1735.2 1409.6L1737.7 1409.5L1740.2 1409.3L1742.7 1409.1L1745.2 1409L1747.6 1408.8L1750.1 1408.7L1752.6 1408.5L1755.1 1408.3L1757.6 1408.2L1760.1 1408L1762.6 1407.9L1765.1 1407.7L1767.6 1407.6L1770.1 1407.4L1772.6 1407.3L1775.1 1407.1L1777.6 1407L1780.1 1406.8L1782.5 1406.7L1785 1406.5L1787.5 1406.4L1790 1406.2L1792.5 1406.1L1795 1405.9L1797.5 1405.8L1800 1405.6L1802.5 1405.5L1805 1405.3L1807.5 1405.2L1810 1405.1L1812.5 1404.9L1815 1404.8L1817.5 1404.6L1819.9 1404.5L1822.4 1404.3L1824.9 1404.2L1827.4 1404.1L1829.9 1403.9L1832.4 1403.8L1834.9 1403.7L1837.4 1403.5L1839.9 1403.4L1842.4 1403.3L1844.9 1403.1L1847.4 1403L1849.9 1402.9L1852.4 1402.7L1854.9 1402.6L1857.4 1402.5L1859.9 1402.3L1862.3 1402.2L1864.8 1402.1L1867.3 1401.9L1869.8 1401.8L1872.3 1401.7L1874.8 1401.6L1877.3 1401.4L1879.8 1401.3L1882.3 1401.2L1884.8 1401L1887.3 1400.9L1889.8 1400.8L1892.3 1400.7L1894.8 1400.6L1897.3 1400.4L1899.8 1400.3L1902.3 1400.2L1904.8 1400.1L1907.2 1399.9L1909.7 1399.8L1912.2 1399.7L1914.7 1399.6L1917.2 1399.5L1919.7 1399.3L1922.2 1399.2L1924.7 1399.1L1927.2 1399L1929.7 1398.9L1932.2 1398.8L1934.7 1398.7L1937.2 1398.5L1939.7 1398.4L1942.2 1398.3L1944.7 1398.2L1947.2 1398.1L1949.7 1398L1952.2 1397.9L1954.7 1397.8L1957.1 1397.6L1959.6 1397.5L1962.1 1397.4L1964.6 1397.3L1967.1 1397.2L1969.6 1397.1L1972.1 1397L1974.6 1396.9L1977.1 1396.8L1979.6 1396.7L1982.1 1396.6L1984.6 1396.5L1987.1 1396.4L1989.6 1396.3L1992.1 1396.1L1994.6 1396L1997.1 1395.9L1999.6 1395.8L2002.1 1395.7L2004.6 1395.6L2007.1 1395.5L2009.6 1395.4L2012.1 1395.3L2014.5 1395.2L2017 1395.1L2019.5 1395L2022 1394.9L2024.5 1394.8L2027 1394.7L2029.5 1394.6L2032 1394.5L2034.5 1394.5L2037 1394.4L2039.5 1394.3L2042 1394.2L2044.5 1394.1L2047 1394L2049.5 1393.9L2052 1393.8L2054.5 1393.7L2057 1393.6L2059.5 1393.5L2062 1393.4L2064.5 1393.3L2067 1393.2L2069.5 1393.1L2072 1393.1L2074.5 1393L2076.9 1392.9L2079.4 1392.8L2081.9 1392.7L2084.4 1392.6L2086.9 1392.5L2089.4 1392.4L2091.9 1392.3L2094.4 1392.3L2096.9 1392.2L2099.4 1392.1L2101.9 1392L2104.4 1391.9L2106.9 1391.8L2109.4 1391.7L2111.9 1391.7L2114.4 1391.6L2116.9 1391.5L2119.4 1391.4L2121.9 1391.3L2124.4 1391.2L2126.9 1391.2L2129.4 1391.1L2131.9 1391L2134.4 1390.9L2136.9 1390.8L2139.4 1390.8L2141.9 1390.7L2144.4 1390.6L2146.8 1390.5L2149.3 1390.4L2151.8 1390.4L2154.3 1390.3L2156.8 1390.2L2159.3 1390.1L2161.8 1390L2164.3 1390L2166.8 1389.9L2169.3 1389.8L2171.8 1389.7L2174.3 1389.7L2176.8 1389.6L2179.3 1389.5L2181.8 1389.4L2184.3 1389.3L2186.8 1389.3L2189.3 1389.2L2191.8 1389.1L2194.3 1389.1L2196.8 1389L2199.3 1388.9L2201.8 1388.8L2204.3 1388.8L2206.8 1388.7L2209.3 1388.6L2211.8 1388.5L2214.3 1388.5L2216.8 1388.4L2219.3 1388.3L2221.8 1388.2L2224.2 1388.2L2226.7 1388.1L2229.2 1388L2231.7 1388L2234.2 1387.9L2236.7 1387.8L2239.2 1387.8L2241.7 1387.7L2244.2 1387.6L2246.7 1387.5L2249.2 1387.5L2251.7 1387.4L2254.2 1387.3L2256.7 1387.3L2259.2 1387.2L2261.7 1387.1L2264.2 1387.1L2266.7 1387L2269.2 1386.9L2271.7 1386.9L2274.2 1386.8L2276.7 1386.7L2279.2 1386.7L2281.7 1386.6L2284.2 1386.5L2286.7 1386.5L2289.2 1386.4L2291.7 1386.3L2294.2 1386.3L2296.7 1386.2L2299.2 1386.1L2301.7 1386.1L2304.2 1386L2306.6 1385.9L2309.1 1385.9L2311.6 1385.8L2314.1 1385.8L2316.6 1385.7L2319.1 1385.6L2321.6 1385.6L2324.1 1385.5L2326.6 1385.4L2329.1 1385.4L2331.6 1385.3L2334.1 1385.2L2336.6 1385.2L2339.1 1385.1L2341.6 1385.1L2344.1 1385L2346.6 1384.9L2349.1 1384.9L2351.6 1384.8L2354.1 1384.7L2356.6 1384.7L2359.1 1384.6L2361.6 1384.6L2364.1 1384.5L2366.6 1384.4L2369.1 1384.4L2371.6 1384.3L2374.1 1384.3L2376.6 1384.2L2379.1 1384.1L2381.6 1384.1L2384 1384L2386.5 1384L2389 1383.9L2391.5 1383.8L2394 1383.8L2396.5 1383.7L2399 1383.7L2401.5 1383.6L2404 1383.5L2406.5 1383.5L2409 1383.4L2411.5 1383.4L2414 1383.3L2416.5 1383.2L2419 1383.2L2421.5 1383.1L2424 1383.1"/>
<path stroke="#00ff00" d="M234.3 2233.3L236.4 2232L238.6 2230.8L240.8 2229.6L243 2228.4L245.1 2227.1L247.3 2225.8L249.4 2224.4L251.5 2223.1L253.6 2221.7L255.7 2220.3L257.7 2218.8L259.7 2217.3L261.7 2215.8L263.7 2214.3L265.7 2212.7L267.6 2211.2L269.6 2209.6L271.5 2207.9L273.3 2206.3L275.2 2204.6L277.1 2202.9L278.9 2201.2L280.7 2199.4L282.5 2197.7L284.2 2195.9L286 2194.1L287.7 2192.3L289.4 2190.4L291.1 2188.6L292.7 2186.7L294.4 2184.8L296 2182.9L297.6 2180.9L299.1 2179L300.7 2177L302.2 2175.1L303.7 2173.1L305.2 2171.1L306.7 2169.1L308.1 2167L309.5 2165L310.9 2162.9L312.3 2160.9L313.7 2158.8L315 2156.7L316.3 2154.6L317.6 2152.5L318.9 2150.3L320.2 2148.2L321.4 2146.1L322.6 2143.9L323.9 2141.7L325 2139.6L326.2 2137.4L327.4 2135.2L328.5 2133L329.6 2130.8L330.7 2128.6L331.8 2126.3L332.9 2124.1L334 2121.8L335 2119.6L336 2117.3L337 2115L338.1 2112.8L339 2110.5L340 2108.2L341 2105.9L341.9 2103.6L342.9 2101.3L343.8 2099L344.7 2096.6L345.6 2094.3L346.5 2092L347.4 2089.6L348.3 2087.3L349.1 2084.9L350 2082.6L350.9 2080.2L351.7 2077.8L352.5 2075.5L353.3 2073.1L354.2 2070.7L355 2068.4L355.8 2066L356.6 2063.6L357.3 2061.2L358.1 2058.8L358.9 2056.4L359.7 2054L360.4 2051.6L361.2 2049.2L362 2046.8L362.7 2044.4L363.5 2042L364.2 2039.6L365 2037.2L365.7 2034.8L366.4 2032.4L367.2 2030L367.9 2027.6L368.6 2025.2L369.4 2022.8L370.1 2020.4L370.8 2018L371.6 2015.6L372.3 2013.2L373 2010.8L373.8 2008.4L374.5 2006L375.3 2003.6L376 2001.2L376.7 1998.8L377.5 1996.4L378.2 1994L379 1991.6L379.7 1989.2L380.4 1986.9L381.2 1984.5L381.9 1982.1L382.7 1979.7L383.5 1977.3L384.2 1975L385 1972.6L385.7 1970.2L386.5 1967.8L387.2 1965.5L388 1963.1L388.8 1960.7L389.5 1958.3L390.3 1956L391.1 1953.6L391.9 1951.2L392.7 1948.9L393.4 1946.5L394.2 1944.1L395 1941.8L395.8 1939.4L396.6 1937.1L397.4 1934.7L398.2 1932.3L399 1930L399.8 1927.6L400.6 1925.3L401.4 1922.9L402.2 1920.6L403.1 1918.2L403.9 1915.9L404.7 1913.5L405.5 1911.2L406.4 1908.8L407.2 1906.5L408 1904.1L408.9 1901.8L409.7 1899.4L410.6 1897.1L411.4 1894.7L412.3 1892.4L413.2 1890L414 1887.7L414.9 1885.3L415.8 1883L416.7 1880.6L417.6 1878.3L418.5 1875.9L419.4 1873.6L420.3 1871.3L421.2 1868.9L422.1 1866.6L423 1864.3L424 1861.9L424.9 1859.6L425.9 1857.3L426.8 1855L427.8 1852.7L428.8 1850.3L429.8 1848L430.8 1845.7L431.8 1843.5L432.8 1841.2L433.8 1838.9L434.8 1836.6L435.9 1834.3L436.9 1832.1L438 1829.8L439.1 1827.6L440.2 1825.3L441.3 1823.1L442.4 1820.8L443.6 1818.6L444.7 1816.4L445.9 1814.2L447 1812L448.2 1809.8L449.4 1807.6L450.7 1805.5L451.9 1803.3L453.1 1801.2L454.4 1799L455.7 1796.9L457 1794.8L458.3 1792.7L459.7 1790.6L461 1788.5L462.4 1786.4L463.8 1784.4L465.2 1782.3L466.6 1780.3L468 1778.3L469.5 1776.3L471 1774.3L472.5 1772.3L474 1770.3L475.5 1768.4L477.1 1766.4L478.6 1764.5L480.2 1762.5L481.8 1760.6L483.4 1758.7L485 1756.7L486.6 1754.8L488.2 1752.9L489.8 1751L491.5 1749.2L493.1 1747.3L494.8 1745.4L496.5 1743.5L498.1 1741.6L499.8 1739.8L501.5 1737.9L503.2 1736L504.8 1734.2L506.5 1732.3L508.2 1730.4L509.9 1728.6L511.6 1726.7L513.3 1724.8L515 1723L516.6 1721.1L518.3 1719.2L520 1717.3L521.7 1715.5L523.3 1713.6L525 1711.7L526.7 1709.8L528.3 1707.9L530 1706L531.6 1704.1L533.2 1702.1L534.8 1700.2L536.5 1698.3L538.1 1696.4L539.7 1694.4L541.3 1692.5L542.9 1690.6L544.5 1688.6L546.1 1686.7L547.7 1684.8L549.3 1682.8L550.9 1680.9L552.5 1679L554.1 1677L555.7 1675.1L557.3 1673.2L558.9 1671.3L560.6 1669.4L562.2 1667.5L563.8 1665.6L565.5 1663.7L567.1 1661.8L568.8 1660L570.4 1658.1L572.1 1656.3L573.8 1654.4L575.4 1652.6L577.1 1650.8L578.9 1649L580.6 1647.2L582.3 1645.4L584.1 1643.7L585.8 1641.9L587.6 1640.2L589.4 1638.5L591.2 1636.8L593 1635.1L594.9 1633.5L596.7 1631.8L598.6 1630.2L600.5 1628.6L602.4 1627L604.3 1625.4L606.2 1623.8L608.1 1622.3L610.1 1620.7L612 1619.2L614 1617.7L615.9 1616.1L617.9 1614.6L619.9 1613.1L621.9 1611.6L623.9 1610.2L625.9 1608.7L627.9 1607.2L630 1605.8L632 1604.3L634 1602.8L636 1601.4L638.1 1599.9L640.1 1598.5L642.2 1597.1L644.2 1595.6L646.3 1594.2L648.3 1592.7L650.4 1591.3L652.4 1589.9L654.5 1588.4L656.5 1587L658.6 1585.6L660.6 1584.2L662.7 1582.7L664.8 1581.3L666.8 1579.9L668.9 1578.5L671 1577.1L673.1 1575.7L675.1 1574.3L677.2 1572.9L679.3 1571.5L681.4 1570.1L683.5 1568.7L685.6 1567.3L687.7 1566L689.8 1564.6L691.9 1563.2L694 1561.8L696.1 1560.5L698.2 1559.1L700.3 1557.8L702.4 1556.4L704.5 1555.1L706.6 1553.7L708.8 1552.4L710.9 1551.1L713 1549.7L715.1 1548.4L717.3 1547.1L719.4 1545.8L721.6 1544.5L723.7 1543.2L725.8 1541.9L728 1540.6L730.2 1539.3L732.3 1538.1L734.5 1536.8L736.6 1535.5L738.8 1534.3L741 1533L743.1 1531.8L745.3 1530.5L747.5 1529.3L749.7 1528.1L751.9 1526.8L754 1525.6L756.2 1524.4L758.4 1523.2L760.6 1522L762.8 1520.8L765.1 1519.7L767.3 1518.5L769.5 1517.3L771.7 1516.2L773.9 1515L776.1 1513.9L778.4 1512.8L780.6 1511.6L782.8 1510.5L785.1 1509.4L787.3 1508.3L789.6 1507.2L791.8 1506.1L794.1 1505.1L796.3 1504L798.6 1502.9L800.9 1501.9L803.1 1500.8L805.4 1499.8L807.7 1498.8L810 1497.8L812.3 1496.8L814.6 1495.7L816.9 1494.8L819.2 1493.8L821.4 1492.8L823.8 1491.8L826.1 1490.8L828.4 1489.9L830.7 1488.9L833 1488L835.3 1487L837.6 1486.1L840 1485.2L842.3 1484.3L844.6 1483.4L846.9 1482.5L849.3 1481.6L851.6 1480.7L854 1479.8L856.3 1478.9L858.6 1478L861 1477.2L863.3 1476.3L865.7 1475.4L868.1 1474.6L870.4 1473.8L872.8 1472.9L875.1 1472.1L877.5 1471.3L879.9 1470.4L882.2 1469.6L884.6 1468.8L887 1468L889.3 1467.2L891.7 1466.4L894.1 1465.6L896.5 1464.9L898.8 1464.1L901.2 1463.3L903.6 1462.5L906 1461.8L908.4 1461L910.8 1460.3L913.2 1459.5L915.5 1458.8L917.9 1458L920.3 1457.3L922.7 1456.6L925.1 1455.8L927.5 1455.1L929.9 1454.4L932.3 1453.7L934.7 1453L937.1 1452.3L939.5 1451.5L941.9 1450.8L944.3 1450.2L946.7 1449.5L949.1 1448.8L951.5 1448.1L953.9 1447.4L956.3 1446.7L958.7 1446.1L961.1 1445.4L963.5 1444.7L966 1444.1L968.4 1443.4L970.8 1442.7L973.2 1442.1L975.6 1441.5L978 1440.8L980.4 1440.2L982.8 1439.5L985.3 1438.9L987.7 1438.3L990.1 1437.6L992.5 1437L994.9 1436.4L997.4 1435.8L999.8 1435.2L1002.2 1434.6L1004.6 1434L1007 1433.4L1009.5 1432.8L1011.9 1432.2L1014.3 1431.6L1016.7 1431L1019.2 1430.4L1021.6 1429.8L1024 1429.3L1026.5 1428.7L1028.9 1428.1L1031.3 1427.6L1033.7 1427L1036.2 1426.4L1038.6 1425.9L1041 1425.3L1043.5 1424.8L1045.9 1424.2L1048.3 1423.7L1050.8 1423.1L1053.2 1422.6L1055.7 1422.1L1058.1 1421.6L1060.5 1421L1063 1420.5L1065.4 1420L1067.8 1419.5L1070.3 1419L1072.7 1418.4L1075.2 1417.9L1077.6 1417.4L1080.1 1416.9L1082.5 1416.4L1085 1415.9L1087.4 1415.4L1089.8 1415L1092.3 1414.5L1094.7 1414L1097.2 1413.5L1099.6 1413L1102.1 1412.6L1104.5 1412.1L1107 1411.6L1109.4 1411.2L1111.9 1410.7L1114.3 1410.2L1116.8 1409.8L1119.3 1409.3L1121.7 1408.9L1124.2 1408.4L1126.6 1408L1129.1 1407.6L1131.5 1407.1L1134 1406.7L1136.4 1406.3L1138.9 1405.8L1141.4 1405.4L1143.8 1405L1146.3 1404.6L1148.7 1404.1L1151.2 1403.7L1153.7 1403.3L1156.1 1402.9L1158.6 1402.5L1161.1 1402.1L1163.5 1401.7L1166 1401.3L1168.4 1400.9L1170.9 1400.5L1173.4 1400.1L1175.8 1399.7L1178.3 1399.4L1180.8 1399L1183.2 1398.6L1185.7 1398.2L1188.2 1397.8L1190.7 1397.5L1193.1 1397.1L1195.6 1396.7L1198.1 1396.4L1200.5 1396L1203 1395.6L1205.5 1395.3L1208 1394.9L1210.4 1394.6L1212.9 1394.2L1215.4 1393.9L1217.8 1393.5L1220.3 1393.2L1222.8 1392.9L1225.3 1392.5L1227.8 1392.2L1230.2 1391.9L1232.7 1391.5L1235.2 1391.2L1237.7 1390.9L1240.1 1390.6L1242.6 1390.2L1245.1 1389.9L1247.6 1389.6L1250.1 1389.3L1252.5 1389L1255 1388.7L1257.5 1388.4L1260 1388.1L1262.5 1387.8L1264.9 1387.5L1267.4 1387.2L1269.9 1386.9L1272.4 1386.6L1274.9 1386.3L1277.4 1386L1279.8 1385.7L1282.3 1385.4L1284.8 1385.1L1287.3 1384.8L1289.8 1384.6L1292.3 1384.3L1294.8 1384L1297.2 1383.7L1299.7 1383.5L1302.2 1383.2L1304.7 1382.9L1307.2 1382.7L1309.7 1382.4L1312.2 1382.2L1314.7 1381.9L1317.1 1381.6L1319.6 1381.4L1322.1 1381.1L1324.6 1380.9L1327.1 1380.6L1329.6 1380.4L1332.1 1380.1L1334.6 1379.9L1337.1 1379.7L1339.6 1379.4L1342 1379.2L1344.5 1378.9L1347 1378.7L1349.5 1378.5L1352 1378.2L1354.5 1378L1357 1377.8L1359.5 1377.6L1362 1377.3L1364.5 1377.1L1367 1376.9L1369.5 1376.7L1372 1376.5L1374.5 1376.3L1377 1376L1379.5 1375.8L1381.9 1375.6L1384.4 1375.4L1386.9 1375.2L1389.4 1375L1391.9 1374.8L1394.4 1374.6L1396.9 1374.4L1399.4 1374.2L1401.9 1374L1404.4 1373.8L1406.9 1373.6L1409.4 1373.4L1411.9 1373.2L1414.4 1373L1416.9 1372.8L1419.4 1372.6L1421.9 1372.5L1424.4 1372.3L1426.9 1372.1L1429.4 1371.9L1431.9 1371.7L1434.4 1371.6L1436.9 1371.4L1439.4 1371.2L1441.9 1371L1444.4 1370.9L1446.9 1370.7L1449.4 1370.5L1451.9 1370.3L1454.4 1370.2L1456.9 1370L1459.4 1369.8L1461.9 1369.7L1464.4 1369.5L1466.9 1369.3L1469.4 1369.2L1471.9 1369L1474.4 1368.9L1476.9 1368.7L1479.4 1368.6L1481.9 1368.4L1484.4 1368.2L1486.9 1368.1L1489.4 1367.9L1491.9 1367.8L1494.4 1367.6L1496.9 1367.5L1499.4 1367.3L1501.9 1367.2L1504.4 1367L1506.9 1366.9L1509.4 1366.8L1511.9 1366.6L1514.4 1366.5L1516.9 1366.3L1519.4 1366.2L1521.9 1366.1L1524.4 1365.9L1526.9 1365.8L1529.4 1365.6L1531.9 1365.5L1534.4 1365.4L1536.9 1365.2L1539.4 1365.1L1541.9 1365L1544.4 1364.8L1546.9 1364.7L1549.4 1364.6L1551.9 1364.5L1554.4 1364.3L1556.9 1364.2L1559.4 1364.1L1561.9 1363.9L1564.4 1363.8L1566.9 1363.7L1569.4 1363.6L1571.9 1363.5L1574.4 1363.3L1576.9 1363.2L1579.4 1363.1L1581.9 1363L1584.4 1362.9L1586.8 1362.7L1589.3 1362.6L1591.8 1362.5L1594.3 1362.4L1596.8 1362.3L1599.3 1362.2L1601.8 1362L1604.3 1361.9L1606.8 1361.8L1609.3 1361.7L1611.8 1361.6L1614.3 1361.5L1616.8 1361.4L1619.3 1361.3L1621.8 1361.2L1624.3 1361.1L1626.8 1361L1629.3 1360.9L1631.8 1360.8L1634.3 1360.7L1636.8 1360.6L1639.3 1360.5L1641.8 1360.4L1644.3 1360.3L1646.8 1360.2L1649.3 1360.1L1651.8 1360L1654.3 1359.9L1656.8 1359.8L1659.3 1359.7L1661.8 1359.6L1664.3 1359.5L1666.8 1359.4L1669.3 1359.3L1671.8 1359.2L1674.3 1359.1L1676.8 1359L1679.3 1358.9L1681.8 1358.8L1684.3 1358.8L1686.8 1358.7L1689.3 1358.6L1691.8 1358.5L1694.3 1358.4L1696.8 1358.3L1699.3 1358.2L1701.8 1358.2L1704.3 1358.1L1706.8 1358L1709.3 1357.9L1711.8 1357.8L1714.3 1357.8L1716.8 1357.7L1719.3 1357.6L1721.8 1357.5L1724.3 1357.4L1726.7 1357.4L1729.2 1357.3L1731.7 1357.2L1734.2 1357.1L1736.7 1357.1L1739.2 1357L1741.7 1356.9L1744.2 1356.8L1746.7 1356.8L1749.2 1356.7L1751.7 1356.6L1754.2 1356.6L1756.7 1356.5L1759.2 1356.4L1761.7 1356.3L1764.2 1356.3L1766.7 1356.2L1769.2 1356.1L1771.7 1356.1L1774.2 1356L1776.7 1355.9L1779.2 1355.9L1781.7 1355.8L1784.2 1355.8L1786.7 1355.7L1789.2 1355.6L1791.7 1355.6L1794.2 1355.5L1796.7 1355.5L1799.2 1355.4L1801.7 1355.3L1804.2 1355.3L1806.7 1355.2L1809.2 1355.2L1811.7 1355.1L1814.2 1355L1816.7 1355L1819.2 1354.9L1821.7 1354.9L1824.1 1354.8L1826.6 1354.8L1829.1 1354.7L1831.6 1354.7L1834.1 1354.6L1836.6 1354.6L1839.1 1354.5L1841.6 1354.5L1844.1 1354.4L1846.6 1354.4L1849.1 1354.3L1851.6 1354.3L1854.1 1354.2L1856.6 1354.2L1859.1 1354.1L1861.6 1354.1L1864.1 1354L1866.6 1354L1869.1 1353.9L1871.6 1353.9L1874.1 1353.8L1876.6 1353.8L1879.1 1353.8L1881.6 1353.7L1884.1 1353.7L1886.6 1353.6L1889.1 1353.6L1891.6 1353.5L1894.1 1353.5L1896.6 1353.5L1899.1 1353.4L1901.6 1353.4L1904.1 1353.3L1906.6 1353.3L1909.1 1353.3L1911.6 1353.2L1914 1353.2L1916.5 1353.2L1919 1353.1L1921.5 1353.1L1924 1353L1926.5 1353L1929 1353L1931.5 1352.9L1934 1352.9L1936.5 1352.9L1939 1352.8L1941.5 1352.8L1944 1352.8L1946.5 1352.7L1949 1352.7L1951.5 1352.7L1954 1352.7L1956.5 1352.6L1959 1352.6L1961.5 1352.6L1964 1352.5L1966.5 1352.5L1969 1352.5L1971.5 1352.4L1974 1352.4L1976.5 1352.4L1979 1352.4L1981.5 1352.3L1984 1352.3L1986.5 1352.3L1989 1352.3L1991.5 1352.2L1994 1352.2L1996.5 1352.2L1999 1352.2L2001.5 1352.1L2004 1352.1L2006.5 1352.1L2009 1352.1L2011.5 1352L2013.9 1352L2016.4 1352L2018.9 1352L2021.4 1351.9L2023.9 1351.9L2026.4 1351.9L2028.9 1351.9L2031.4 1351.9L2033.9 1351.8L2036.4 1351.8L2038.9 1351.8L2041.4 1351.8L2043.9 1351.8L2046.4 1351.7L2048.9 1351.7L2051.4 1351.7L2053.9 1351.7L2056.4 1351.7L2058.9 1351.7L2061.4 1351.6L2063.9 1351.6L2066.4 1351.6L2068.9 1351.6L2071.4 1351.6L2073.9 1351.6L2076.4 1351.5L2078.9 1351.5L2081.4 1351.5L2083.9 1351.5L2086.4 1351.5L2088.9 1351.5L2091.4 1351.4L2093.9 1351.4L2096.4 1351.4L2098.9 1351.4L2101.4 1351.4L2103.9 1351.4L2106.4 1351.4L2108.9 1351.4L2111.4 1351.3L2113.9 1351.3L2116.4 1351.3L2118.9 1351.3L2121.4 1351.3L2123.9 1351.3L2126.4 1351.3L2128.9 1351.3L2131.4 1351.2L2133.9 1351.2L2136.4 1351.2L2138.9 1351.2L2141.4 1351.2L2143.9 1351.2L2146.4 1351.2L2148.9 1351.2L2151.4 1351.2L2153.9 1351.1L2156.4 1351.1L2158.9 1351.1L2161.4 1351.1L2163.9 1351.1L2166.4 1351.1L2168.9 1351.1L2171.4 1351.1L2173.9 1351.1L2176.4 1351.1L2178.9 1351L2181.4 1351L2183.9 1351L2186.4 1351L2188.9 1351L2191.4 1351L2193.9 1351L2196.4 1351L2198.9 1351L2201.4 1351L2203.9 1351L2206.4 1351L2208.9 1351L2211.4 1350.9L2213.9 1350.9L2216.4 1350.9L2218.9 1350.9L2221.4 1350.9L2223.9 1350.9L2226.4 1350.9L2228.9 1350.9L2231.4 1350.9L2233.9 1350.9L2236.4 1350.9L2238.9 1350.9L2241.4 1350.9L2243.9 1350.9L2246.4 1350.8L2248.9 1350.8L2251.4 1350.8L2253.9 1350.8L2256.4 1350.8L2258.9 1350.8L2261.4 1350.8L2263.9 1350.8L2266.4 1350.8L2268.9 1350.8L2271.4 1350.8L2273.9 1350.8L2276.4 1350.8L2278.9 1350.8L2281.4 1350.8L2283.9 1350.7L2286.4 1350.7L2288.9 1350.7L2291.4 1350.7L2293.9 1350.7L2296.4 1350.7L2298.9 1350.7L2301.4 1350.7L2303.9 1350.7L2306.4 1350.7L2308.9 1350.7L2311.4 1350.7L2313.9 1350.7L2316.4 1350.7L2318.9 1350.7L2321.4 1350.6L2323.9 1350.6L2326.4 1350.6L2328.9 1350.6L2331.4 1350.6L2333.9 1350.6L2336.4 1350.6L2338.9 1350.6L2341.4 1350.6L2343.9 1350.6L2346.4 1350.6L2348.9 1350.6L2351.5 1350.6L2354 1350.5L2356.5 1350.5L2359 1350.5L2361.5 1350.5L2364 1350.5L2366.5 1350.5L2369 1350.5L2371.5 1350.5L2374 1350.5L2376.5 1350.5L2379 1350.5L2381.5 1350.5L2384 1350.4L2386.5 1350.4L2389 1350.4L2391.5 1350.4L2394 1350.4L2396.5 1350.4L2399 1350.4L2401.5 1350.4L2404 1350.4L2406.5 1350.4L2409 1350.3L2411.5 1350.3L2414 1350.3L2416.6 1350.3L2419.1 1350.3L2421.6 1350.3L2424 1350.4"/>
</g>
<path d="M230 2286.1V2265.6M230 1308.2V1328.7M449.5 2286.1V2265.6M449.5 1308.2V1328.7M668.9 2286.1V2265.6M668.9 1308.2V1328.7M888.4 2286.1V2265.6M888.4 1308.2V1328.7M1107.8 2286.1V2265.6M1107.8 1308.2V1328.7M1327.2 2286.1V2265.6M1327.2 1308.2V1328.7M1546.7 2286.1V2265.6M1546.7 1308.2V1328.7M1766.1 2286.1V2265.6M1766.1 1308.2V1328.7M1985.6 2286.1V2265.6M1985.6 1308.2V1328.7M2205.1 2286.1V2265.6M2205.1 1308.2V1328.7M2424.5 2286.1V2265.6M2424.5 1308.2V1328.7" stroke="#262626" stroke-width="1.5" fill="none"/>
<path d="M230 2286.1H252.8M2424.5 2286.1H2401.8M230 1960.1H252.8M2424.5 1960.1H2401.8M230 1634.2H252.8M2424.5 1634.2H2401.8M230 1308.2H252.8M2424.5 1308.2H2401.8" stroke="#262626" stroke-width="1.4" fill="none"/>
<path d="M229.2 1308.2H2425.2 M229.2 2286.1H2425.2" stroke="#262626" stroke-width="1.4" fill="none"/>
<path d="M230 1307.5V2286.8 M2424.5 1307.5V2286.8" stroke="#262626" stroke-width="1.5" fill="none"/>
<text transform="translate(228.3 2354.6) scale(1.0650 1)" font-size="51.5" fill="#262626" text-anchor="middle">0</text>
<text transform="translate(447.8 2354.6) scale(1.0650 1)" font-size="51.5" fill="#262626" text-anchor="middle">5</text>
<text transform="translate(667.2 2354.6) scale(1.0650 1)" font-size="51.5" fill="#262626" text-anchor="middle">10</text>
<text transform="translate(886.6 2354.6) scale(1.0650 1)" font-size="51.5" fill="#262626" text-anchor="middle">15</text>
<text transform="translate(1106.1 2354.6) scale(1.0650 1)" font-size="51.5" fill="#262626" text-anchor="middle">20</text>
<text transform="translate(1325.5 2354.6) scale(1.0650 1)" font-size="51.5" fill="#262626" text-anchor="middle">25</text>
<text transform="translate(1545 2354.6) scale(1.0650 1)" font-size="51.5" fill="#262626" text-anchor="middle">30</text>
<text transform="translate(1764.4 2354.6) scale(1.0650 1)" font-size="51.5" fill="#262626" text-anchor="middle">35</text>
<text transform="translate(1983.9 2354.6) scale(1.0650 1)" font-size="51.5" fill="#262626" text-anchor="middle">40</text>
<text transform="translate(2203.4 2354.6) scale(1.0650 1)" font-size="51.5" fill="#262626" text-anchor="middle">45</text>
<text transform="translate(2422.8 2354.6) scale(1.0650 1)" font-size="51.5" fill="#262626" text-anchor="middle">50</text>
<text transform="translate(211 2307.1) scale(1.0650 1)" font-size="51.5" fill="#262626" text-anchor="end">0</text>
<text transform="translate(211 1981.1) scale(1.0650 1)" font-size="51.5" fill="#262626" text-anchor="end">5</text>
<text transform="translate(211 1655.2) scale(1.0650 1)" font-size="51.5" fill="#262626" text-anchor="end">10</text>
<text transform="translate(211 1329.2) scale(1.0650 1)" font-size="51.5" fill="#262626" text-anchor="end">15</text>
<rect x="2213" y="1332.5" width="184.4" height="268" fill="#ffffff" stroke="#262626" stroke-width="1.5"/>
<path d="M2221.1 1368.5H2304" stroke="#ff0000" stroke-width="6"/>
<text transform="translate(2310 1389.8) scale(1.0650 1)" font-size="51.5" fill="#000000">0.7</text>
<path d="M2221.1 1433.9H2304" stroke="#000000" stroke-width="6"/>
<text transform="translate(2310 1455.2) scale(1.0650 1)" font-size="51.5" fill="#000000">0.8</text>
<path d="M2221.1 1499.3H2304" stroke="#0000ff" stroke-width="6"/>
<text transform="translate(2310 1520.6) scale(1.0650 1)" font-size="51.5" fill="#000000">0.9</text>
<path d="M2221.1 1564.7H2304" stroke="#00ff00" stroke-width="6"/>
<text transform="translate(2310 1586) scale(1.0650 1)" font-size="51.5" fill="#000000">1.0</text>
<clipPath id="c2"><rect x="229" y="2544.2" width="2196.5" height="992.7"/></clipPath>
<g clip-path="url(#c2)" fill="none" stroke-width="6.4" stroke-linejoin="round" stroke-linecap="butt">
<path stroke="#ff0000" d="M230.5 2875L230.5 2872.5L230.7 2870L230.8 2867.5L231 2865L231.1 2862.5L231.3 2860L231.5 2857.5L231.7 2855L231.9 2852.5L232.1 2850L232.4 2847.5L232.6 2845L232.9 2842.5L233.1 2840L233.4 2837.6L233.7 2835.1L234 2832.6L234.3 2830.1L234.6 2827.7L234.9 2825.2L235.2 2822.7L235.6 2820.3L235.9 2817.8L236.2 2815.3L236.6 2812.9L237 2810.4L237.3 2807.9L237.7 2805.5L238 2803L238.4 2800.6L238.8 2798.1L239.2 2795.6L239.6 2793.2L240 2790.7L240.3 2788.3L240.7 2785.8L241.1 2783.3L241.5 2780.9L241.9 2778.4L242.3 2775.9L242.7 2773.5L243.1 2771L243.5 2768.5L243.9 2766.1L244.3 2763.6L244.7 2761.1L245.1 2758.6L245.5 2756.2L245.9 2753.7L246.3 2751.2L246.7 2748.7L247.1 2746.2L247.5 2743.7L247.9 2741.2L248.2 2738.7L248.6 2736.2L249 2733.7L249.4 2731.2L249.7 2728.7L250.1 2726.2L250.5 2723.7L250.9 2721.3L251.4 2718.8L251.8 2716.3L252.3 2713.8L252.8 2711.4L253.3 2708.9L253.9 2706.5L254.5 2704.1L255.1 2701.7L255.8 2699.3L256.5 2697L257.3 2694.6L258.1 2692.3L259 2690L259.9 2687.8L260.9 2685.5L261.9 2683.3L263 2681.1L264.1 2679L265.4 2676.8L266.7 2674.7L268 2672.7L269.5 2670.6L271 2668.6L272.7 2666.6L274.4 2664.6L276.2 2662.7L278.1 2660.9L280.1 2659.3L282.1 2658.1L284.1 2657.2L286.2 2656.8L288.2 2656.9L290.2 2657.6L292.2 2658.6L293.9 2660L295.6 2661.8L297.1 2663.8L298.5 2666L299.8 2668.3L301.1 2670.7L302.3 2673.1L303.5 2675.5L304.6 2677.8L305.7 2680.2L306.8 2682.4L307.9 2684.7L308.9 2687L310 2689.2L311 2691.5L312 2693.7L313 2695.9L314 2698.1L315 2700.4L315.9 2702.6L316.9 2704.9L317.9 2707.1L318.9 2709.4L319.9 2711.7L320.8 2714L321.8 2716.3L322.7 2718.5L323.7 2720.8L324.6 2723.1L325.6 2725.5L326.5 2727.8L327.4 2730.1L328.4 2732.4L329.3 2734.8L330.2 2737.1L331.1 2739.4L332 2741.8L332.8 2744.1L333.7 2746.5L334.6 2748.8L335.4 2751.2L336.2 2753.6L337.1 2755.9L337.9 2758.3L338.7 2760.7L339.5 2763.1L340.2 2765.5L341 2767.8L341.8 2770.2L342.5 2772.6L343.2 2775L343.9 2777.4L344.7 2779.8L345.4 2782.2L346 2784.6L346.7 2787L347.4 2789.4L348.1 2791.8L348.7 2794.2L349.4 2796.6L350 2799.1L350.7 2801.5L351.3 2803.9L352 2806.3L352.6 2808.7L353.2 2811.1L353.9 2813.5L354.5 2816L355.1 2818.4L355.8 2820.8L356.4 2823.2L357 2825.6L357.6 2828L358.3 2830.5L358.9 2832.9L359.5 2835.3L360.2 2837.7L360.8 2840.1L361.4 2842.5L362.1 2844.9L362.8 2847.3L363.4 2849.7L364.1 2852.1L364.8 2854.5L365.4 2856.9L366.1 2859.3L366.8 2861.7L367.5 2864.1L368.2 2866.5L368.9 2868.9L369.6 2871.3L370.4 2873.7L371.1 2876.1L371.8 2878.5L372.5 2880.9L373.3 2883.3L374 2885.6L374.8 2888L375.5 2890.4L376.3 2892.8L377 2895.2L377.8 2897.6L378.5 2899.9L379.3 2902.3L380 2904.7L380.8 2907.1L381.6 2909.4L382.3 2911.8L383.1 2914.2L383.9 2916.6L384.6 2919L385.4 2921.3L386.2 2923.7L386.9 2926.1L387.7 2928.5L388.5 2930.9L389.2 2933.2L390 2935.6L390.7 2938L391.5 2940.4L392.2 2942.8L393 2945.2L393.7 2947.5L394.5 2949.9L395.2 2952.3L396 2954.7L396.7 2957.1L397.4 2959.5L398.2 2961.9L398.9 2964.3L399.6 2966.7L400.3 2969.1L401 2971.5L401.7 2973.9L402.4 2976.3L403.1 2978.7L403.8 2981.1L404.5 2983.5L405.1 2985.9L405.8 2988.3L406.5 2990.7L407.1 2993.1L407.8 2995.6L408.4 2998L409 3000.4L409.6 3002.8L410.2 3005.3L410.8 3007.7L411.4 3010.1L412 3012.6L412.6 3015L413.2 3017.4L413.8 3019.8L414.4 3022.3L415 3024.7L415.7 3027.1L416.3 3029.6L416.9 3032L417.6 3034.4L418.2 3036.8L418.9 3039.2L419.6 3041.6L420.3 3044L421 3046.3L421.8 3048.7L422.5 3051.1L423.3 3053.4L424.2 3055.8L425 3058.1L425.9 3060.4L426.8 3062.8L427.7 3065.1L428.7 3067.4L429.6 3069.7L430.6 3072L431.6 3074.3L432.6 3076.5L433.6 3078.8L434.7 3081.1L435.7 3083.4L436.8 3085.6L437.8 3087.9L438.9 3090.1L440 3092.4L441.1 3094.6L442.2 3096.9L443.3 3099.1L444.4 3101.4L445.5 3103.6L446.6 3105.9L447.8 3108.2L448.9 3110.4L450 3112.7L451.1 3114.9L452.2 3117.2L453.3 3119.4L454.4 3121.7L455.5 3123.9L456.6 3126.2L457.7 3128.5L458.8 3130.7L459.9 3133L461 3135.2L462.2 3137.5L463.3 3139.7L464.4 3142L465.5 3144.2L466.7 3146.4L467.8 3148.7L468.9 3150.9L470.1 3153.1L471.2 3155.4L472.4 3157.6L473.6 3159.8L474.8 3162L476 3164.2L477.2 3166.4L478.4 3168.5L479.6 3170.7L480.9 3172.9L482.1 3175L483.4 3177.2L484.7 3179.3L486 3181.4L487.3 3183.5L488.6 3185.6L490 3187.7L491.4 3189.8L492.7 3191.8L494.1 3193.9L495.6 3195.9L497 3197.9L498.5 3200L500 3202L501.5 3203.9L503 3205.9L504.5 3207.8L506.1 3209.8L507.7 3211.7L509.3 3213.6L510.9 3215.5L512.6 3217.4L514.2 3219.2L515.9 3221.1L517.6 3222.9L519.3 3224.7L521.1 3226.5L522.8 3228.3L524.6 3230.1L526.4 3231.8L528.2 3233.6L530 3235.3L531.9 3237L533.7 3238.7L535.6 3240.4L537.5 3242L539.4 3243.7L541.3 3245.3L543.2 3246.9L545.1 3248.5L547.1 3250.1L549.1 3251.7L551 3253.2L553 3254.8L555 3256.3L557 3257.8L559 3259.3L561.1 3260.8L563.1 3262.2L565.2 3263.7L567.2 3265.1L569.3 3266.5L571.4 3267.9L573.5 3269.3L575.6 3270.7L577.7 3272L579.8 3273.4L581.9 3274.7L584 3276L586.2 3277.3L588.3 3278.6L590.5 3279.9L592.6 3281.1L594.8 3282.3L597 3283.6L599.1 3284.8L601.3 3286L603.5 3287.2L605.7 3288.4L607.9 3289.5L610.1 3290.7L612.3 3291.8L614.5 3292.9L616.8 3294.1L619 3295.2L621.2 3296.3L623.5 3297.4L625.7 3298.4L628 3299.5L630.2 3300.6L632.5 3301.6L634.7 3302.7L637 3303.7L639.3 3304.7L641.6 3305.8L643.8 3306.8L646.1 3307.8L648.4 3308.8L650.7 3309.8L653 3310.7L655.3 3311.7L657.6 3312.7L659.9 3313.7L662.2 3314.6L664.5 3315.6L666.8 3316.5L669.1 3317.5L671.4 3318.4L673.8 3319.3L676.1 3320.2L678.4 3321.2L680.7 3322.1L683.1 3323L685.4 3323.9L687.7 3324.8L690.1 3325.6L692.4 3326.5L694.8 3327.4L697.1 3328.3L699.5 3329.1L701.8 3330L704.2 3330.8L706.5 3331.7L708.9 3332.5L711.2 3333.3L713.6 3334.1L716 3335L718.3 3335.8L720.7 3336.6L723.1 3337.4L725.4 3338.2L727.8 3339L730.2 3339.7L732.6 3340.5L735 3341.3L737.3 3342.1L739.7 3342.8L742.1 3343.6L744.5 3344.3L746.9 3345.1L749.3 3345.8L751.7 3346.5L754.1 3347.2L756.5 3348L758.9 3348.7L761.3 3349.4L763.7 3350.1L766.1 3350.8L768.5 3351.5L770.9 3352.2L773.3 3352.8L775.7 3353.5L778.1 3354.2L780.5 3354.8L782.9 3355.5L785.4 3356.2L787.8 3356.8L790.2 3357.4L792.6 3358.1L795 3358.7L797.4 3359.3L799.9 3360L802.3 3360.6L804.7 3361.2L807.1 3361.8L809.6 3362.4L812 3363L814.4 3363.6L816.8 3364.2L819.3 3364.8L821.7 3365.3L824.1 3365.9L826.6 3366.5L829 3367L831.4 3367.6L833.9 3368.1L836.3 3368.7L838.7 3369.2L841.2 3369.8L843.6 3370.3L846.1 3370.8L848.5 3371.3L850.9 3371.9L853.4 3372.4L855.8 3372.9L858.3 3373.4L860.7 3373.9L863.2 3374.4L865.6 3374.9L868.1 3375.4L870.5 3375.9L873 3376.3L875.4 3376.8L877.9 3377.3L880.3 3377.8L882.8 3378.2L885.2 3378.7L887.7 3379.1L890.1 3379.6L892.6 3380L895 3380.5L897.5 3380.9L900 3381.4L902.4 3381.8L904.9 3382.2L907.3 3382.6L909.8 3383.1L912.3 3383.5L914.7 3383.9L917.2 3384.3L919.6 3384.7L922.1 3385.1L924.6 3385.5L927 3385.9L929.5 3386.3L932 3386.7L934.4 3387.1L936.9 3387.5L939.4 3387.8L941.8 3388.2L944.3 3388.6L946.8 3389L949.2 3389.3L951.7 3389.7L954.2 3390.1L956.7 3390.4L959.1 3390.8L961.6 3391.1L964.1 3391.5L966.6 3391.8L969 3392.2L971.5 3392.5L974 3392.8L976.5 3393.2L978.9 3393.5L981.4 3393.8L983.9 3394.2L986.4 3394.5L988.8 3394.8L991.3 3395.1L993.8 3395.4L996.3 3395.8L998.8 3396.1L1001.2 3396.4L1003.7 3396.7L1006.2 3397L1008.7 3397.3L1011.2 3397.6L1013.6 3397.9L1016.1 3398.2L1018.6 3398.5L1021.1 3398.8L1023.6 3399L1026.1 3399.3L1028.5 3399.6L1031 3399.9L1033.5 3400.2L1036 3400.5L1038.5 3400.7L1041 3401L1043.5 3401.3L1045.9 3401.5L1048.4 3401.8L1050.9 3402.1L1053.4 3402.3L1055.9 3402.6L1058.4 3402.9L1060.9 3403.1L1063.4 3403.4L1065.8 3403.6L1068.3 3403.9L1070.8 3404.2L1073.3 3404.4L1075.8 3404.7L1078.3 3404.9L1080.8 3405.2L1083.3 3405.4L1085.7 3405.6L1088.2 3405.9L1090.7 3406.1L1093.2 3406.4L1095.7 3406.6L1098.2 3406.9L1100.7 3407.1L1103.2 3407.3L1105.7 3407.6L1108.1 3407.8L1110.6 3408L1113.1 3408.3L1115.6 3408.5L1118.1 3408.7L1120.6 3409L1123.1 3409.2L1125.6 3409.4L1128.1 3409.6L1130.5 3409.9L1133 3410.1L1135.5 3410.3L1138 3410.5L1140.5 3410.8L1143 3411L1145.5 3411.2L1148 3411.4L1150.5 3411.6L1153 3411.8L1155.4 3412.1L1157.9 3412.3L1160.4 3412.5L1162.9 3412.7L1165.4 3412.9L1167.9 3413.1L1170.4 3413.3L1172.9 3413.5L1175.4 3413.7L1177.9 3413.9L1180.4 3414.1L1182.8 3414.3L1185.3 3414.5L1187.8 3414.7L1190.3 3414.9L1192.8 3415.1L1195.3 3415.3L1197.8 3415.5L1200.3 3415.7L1202.8 3415.9L1205.3 3416.1L1207.8 3416.3L1210.3 3416.5L1212.7 3416.7L1215.2 3416.9L1217.7 3417.1L1220.2 3417.2L1222.7 3417.4L1225.2 3417.6L1227.7 3417.8L1230.2 3418L1232.7 3418.2L1235.2 3418.4L1237.7 3418.5L1240.2 3418.7L1242.7 3418.9L1245.1 3419.1L1247.6 3419.2L1250.1 3419.4L1252.6 3419.6L1255.1 3419.8L1257.6 3419.9L1260.1 3420.1L1262.6 3420.3L1265.1 3420.5L1267.6 3420.6L1270.1 3420.8L1272.6 3421L1275.1 3421.1L1277.6 3421.3L1280 3421.5L1282.5 3421.6L1285 3421.8L1287.5 3422L1290 3422.1L1292.5 3422.3L1295 3422.4L1297.5 3422.6L1300 3422.8L1302.5 3422.9L1305 3423.1L1307.5 3423.2L1310 3423.4L1312.5 3423.5L1315 3423.7L1317.4 3423.9L1319.9 3424L1322.4 3424.2L1324.9 3424.3L1327.4 3424.5L1329.9 3424.6L1332.4 3424.8L1334.9 3424.9L1337.4 3425.1L1339.9 3425.2L1342.4 3425.3L1344.9 3425.5L1347.4 3425.6L1349.9 3425.8L1352.4 3425.9L1354.9 3426.1L1357.4 3426.2L1359.9 3426.3L1362.3 3426.5L1364.8 3426.6L1367.3 3426.8L1369.8 3426.9L1372.3 3427L1374.8 3427.2L1377.3 3427.3L1379.8 3427.4L1382.3 3427.6L1384.8 3427.7L1387.3 3427.8L1389.8 3428L1392.3 3428.1L1394.8 3428.2L1397.3 3428.4L1399.8 3428.5L1402.3 3428.6L1404.8 3428.7L1407.3 3428.9L1409.7 3429L1412.2 3429.1L1414.7 3429.2L1417.2 3429.4L1419.7 3429.5L1422.2 3429.6L1424.7 3429.7L1427.2 3429.9L1429.7 3430L1432.2 3430.1L1434.7 3430.2L1437.2 3430.3L1439.7 3430.5L1442.2 3430.6L1444.7 3430.7L1447.2 3430.8L1449.7 3430.9L1452.2 3431L1454.7 3431.2L1457.2 3431.3L1459.7 3431.4L1462.2 3431.5L1464.7 3431.6L1467.1 3431.7L1469.6 3431.8L1472.1 3431.9L1474.6 3432.1L1477.1 3432.2L1479.6 3432.3L1482.1 3432.4L1484.6 3432.5L1487.1 3432.6L1489.6 3432.7L1492.1 3432.8L1494.6 3432.9L1497.1 3433L1499.6 3433.1L1502.1 3433.2L1504.6 3433.3L1507.1 3433.4L1509.6 3433.5L1512.1 3433.6L1514.6 3433.7L1517.1 3433.8L1519.6 3433.9L1522.1 3434L1524.6 3434.1L1527.1 3434.2L1529.6 3434.3L1532.1 3434.4L1534.5 3434.5L1537 3434.6L1539.5 3434.7L1542 3434.8L1544.5 3434.9L1547 3435L1549.5 3435.1L1552 3435.2L1554.5 3435.3L1557 3435.4L1559.5 3435.5L1562 3435.5L1564.5 3435.6L1567 3435.7L1569.5 3435.8L1572 3435.9L1574.5 3436L1577 3436.1L1579.5 3436.2L1582 3436.3L1584.5 3436.3L1587 3436.4L1589.5 3436.5L1592 3436.6L1594.5 3436.7L1597 3436.8L1599.5 3436.8L1602 3436.9L1604.5 3437L1607 3437.1L1609.5 3437.2L1612 3437.2L1614.5 3437.3L1617 3437.4L1619.5 3437.5L1621.9 3437.6L1624.4 3437.6L1626.9 3437.7L1629.4 3437.8L1631.9 3437.9L1634.4 3438L1636.9 3438L1639.4 3438.1L1641.9 3438.2L1644.4 3438.3L1646.9 3438.3L1649.4 3438.4L1651.9 3438.5L1654.4 3438.5L1656.9 3438.6L1659.4 3438.7L1661.9 3438.8L1664.4 3438.8L1666.9 3438.9L1669.4 3439L1671.9 3439L1674.4 3439.1L1676.9 3439.2L1679.4 3439.3L1681.9 3439.3L1684.4 3439.4L1686.9 3439.5L1689.4 3439.5L1691.9 3439.6L1694.4 3439.7L1696.9 3439.7L1699.4 3439.8L1701.9 3439.9L1704.4 3439.9L1706.9 3440L1709.4 3440L1711.9 3440.1L1714.4 3440.2L1716.9 3440.2L1719.4 3440.3L1721.9 3440.4L1724.4 3440.4L1726.9 3440.5L1729.4 3440.5L1731.9 3440.6L1734.4 3440.7L1736.9 3440.7L1739.4 3440.8L1741.9 3440.8L1744.3 3440.9L1746.8 3441L1749.3 3441L1751.8 3441.1L1754.3 3441.1L1756.8 3441.2L1759.3 3441.2L1761.8 3441.3L1764.3 3441.4L1766.8 3441.4L1769.3 3441.5L1771.8 3441.5L1774.3 3441.6L1776.8 3441.6L1779.3 3441.7L1781.8 3441.7L1784.3 3441.8L1786.8 3441.8L1789.3 3441.9L1791.8 3441.9L1794.3 3442L1796.8 3442L1799.3 3442.1L1801.8 3442.2L1804.3 3442.2L1806.8 3442.3L1809.3 3442.3L1811.8 3442.4L1814.3 3442.4L1816.8 3442.5L1819.3 3442.5L1821.8 3442.5L1824.3 3442.6L1826.8 3442.6L1829.3 3442.7L1831.8 3442.7L1834.3 3442.8L1836.8 3442.8L1839.3 3442.9L1841.8 3442.9L1844.3 3443L1846.8 3443L1849.3 3443.1L1851.8 3443.1L1854.3 3443.2L1856.8 3443.2L1859.3 3443.2L1861.8 3443.3L1864.3 3443.3L1866.8 3443.4L1869.3 3443.4L1871.8 3443.5L1874.3 3443.5L1876.8 3443.6L1879.3 3443.6L1881.8 3443.6L1884.3 3443.7L1886.8 3443.7L1889.3 3443.8L1891.8 3443.8L1894.3 3443.8L1896.8 3443.9L1899.3 3443.9L1901.8 3444L1904.3 3444L1906.8 3444.1L1909.3 3444.1L1911.8 3444.1L1914.3 3444.2L1916.8 3444.2L1919.3 3444.3L1921.8 3444.3L1924.3 3444.3L1926.8 3444.4L1929.3 3444.4L1931.8 3444.4L1934.3 3444.5L1936.8 3444.5L1939.3 3444.6L1941.8 3444.6L1944.3 3444.6L1946.8 3444.7L1949.3 3444.7L1951.7 3444.7L1954.2 3444.8L1956.7 3444.8L1959.2 3444.9L1961.7 3444.9L1964.2 3444.9L1966.7 3445L1969.2 3445L1971.7 3445L1974.2 3445.1L1976.7 3445.1L1979.2 3445.1L1981.7 3445.2L1984.2 3445.2L1986.7 3445.3L1989.2 3445.3L1991.7 3445.3L1994.2 3445.4L1996.7 3445.4L1999.2 3445.4L2001.7 3445.5L2004.2 3445.5L2006.7 3445.5L2009.2 3445.6L2011.7 3445.6L2014.2 3445.6L2016.7 3445.7L2019.2 3445.7L2021.7 3445.7L2024.2 3445.8L2026.7 3445.8L2029.2 3445.8L2031.7 3445.9L2034.2 3445.9L2036.7 3445.9L2039.2 3446L2041.7 3446L2044.2 3446L2046.7 3446.1L2049.2 3446.1L2051.7 3446.1L2054.2 3446.2L2056.7 3446.2L2059.2 3446.2L2061.7 3446.3L2064.2 3446.3L2066.7 3446.3L2069.2 3446.3L2071.7 3446.4L2074.2 3446.4L2076.7 3446.4L2079.2 3446.5L2081.7 3446.5L2084.2 3446.5L2086.7 3446.6L2089.2 3446.6L2091.7 3446.6L2094.2 3446.7L2096.7 3446.7L2099.2 3446.7L2101.7 3446.8L2104.2 3446.8L2106.7 3446.8L2109.2 3446.9L2111.7 3446.9L2114.2 3446.9L2116.7 3446.9L2119.2 3447L2121.7 3447L2124.2 3447L2126.7 3447.1L2129.2 3447.1L2131.7 3447.1L2134.2 3447.2L2136.7 3447.2L2139.2 3447.2L2141.7 3447.3L2144.2 3447.3L2146.7 3447.3L2149.2 3447.4L2151.7 3447.4L2154.2 3447.4L2156.7 3447.4L2159.2 3447.5L2161.7 3447.5L2164.2 3447.5L2166.7 3447.6L2169.2 3447.6L2171.7 3447.6L2174.2 3447.7L2176.7 3447.7L2179.2 3447.7L2181.7 3447.8L2184.2 3447.8L2186.7 3447.8L2189.2 3447.9L2191.7 3447.9L2194.2 3447.9L2196.7 3448L2199.2 3448L2201.7 3448L2204.1 3448.1L2206.6 3448.1L2209.1 3448.1L2211.6 3448.2L2214.1 3448.2L2216.6 3448.2L2219.1 3448.2L2221.6 3448.3L2224.1 3448.3L2226.6 3448.3L2229.1 3448.4L2231.6 3448.4L2234.1 3448.4L2236.6 3448.5L2239.1 3448.5L2241.6 3448.5L2244.1 3448.6L2246.6 3448.6L2249.1 3448.6L2251.6 3448.7L2254.1 3448.7L2256.6 3448.7L2259.1 3448.8L2261.6 3448.8L2264.1 3448.9L2266.6 3448.9L2269.1 3448.9L2271.6 3449L2274.1 3449L2276.6 3449L2279.1 3449.1L2281.6 3449.1L2284.1 3449.1L2286.6 3449.2L2289.1 3449.2L2291.6 3449.2L2294.1 3449.3L2296.6 3449.3L2299.1 3449.3L2301.6 3449.4L2304.1 3449.4L2306.6 3449.5L2309.1 3449.5L2311.6 3449.5L2314.1 3449.6L2316.6 3449.6L2319.1 3449.6L2321.6 3449.7L2324.1 3449.7L2326.6 3449.8L2329.1 3449.8L2331.6 3449.8L2334.1 3449.9L2336.6 3449.9L2339.1 3450L2341.6 3450L2344.1 3450L2346.6 3450.1L2349.1 3450.1L2351.6 3450.2L2354 3450.2L2356.5 3450.2L2359 3450.3L2361.5 3450.3L2364 3450.4L2366.5 3450.4L2369 3450.4L2371.5 3450.5L2374 3450.5L2376.5 3450.6L2379 3450.6L2381.5 3450.7L2384 3450.7L2386.5 3450.7L2389 3450.8L2391.5 3450.8L2394 3450.9L2396.5 3450.9L2399 3451L2401.5 3451L2404 3451L2406.5 3451.1L2409 3451.1L2411.5 3451.2L2414 3451.2L2416.5 3451.3L2419 3451.3L2421.5 3451.4L2424 3451.2"/>
<path stroke="#000000" d="M231 2875L231.3 2872.5L231.4 2870L231.5 2867.5L231.7 2865L231.9 2862.5L232.1 2860L232.3 2857.5L232.5 2855.1L232.7 2852.6L233 2850.1L233.2 2847.6L233.5 2845.1L233.8 2842.6L234.1 2840.2L234.4 2837.7L234.7 2835.2L235 2832.7L235.4 2830.2L235.7 2827.8L236.1 2825.3L236.4 2822.8L236.8 2820.4L237.2 2817.9L237.6 2815.4L237.9 2813L238.3 2810.5L238.7 2808L239.2 2805.6L239.6 2803.1L240 2800.6L240.4 2798.2L240.9 2795.7L241.3 2793.2L241.7 2790.8L242.2 2788.3L242.6 2785.9L243 2783.4L243.5 2780.9L243.9 2778.5L244.4 2776L244.8 2773.6L245.3 2771.1L245.7 2768.6L246.2 2766.2L246.6 2763.7L247.1 2761.3L247.5 2758.8L247.9 2756.4L248.4 2753.9L248.8 2751.4L249.2 2749L249.7 2746.5L250.1 2744L250.5 2741.6L250.9 2739.1L251.3 2736.7L251.7 2734.2L252.1 2731.7L252.5 2729.3L252.9 2726.8L253.3 2724.3L253.7 2721.9L254.1 2719.4L254.5 2717L254.9 2714.5L255.4 2712.1L255.8 2709.6L256.3 2707.2L256.7 2704.7L257.2 2702.3L257.7 2699.8L258.2 2697.4L258.7 2695L259.3 2692.6L259.9 2690.2L260.5 2687.7L261.1 2685.3L261.7 2682.9L262.4 2680.5L263.1 2678.2L263.9 2675.8L264.6 2673.4L265.4 2671L266.2 2668.7L267.1 2666.3L268 2664L269 2661.7L270 2659.4L271.1 2657.1L272.3 2654.8L273.5 2652.5L274.9 2650.3L276.4 2648.1L278 2645.9L279.7 2643.8L281.6 2641.8L283.5 2640.1L285.5 2638.7L287.6 2637.5L289.7 2636.8L291.8 2636.4L293.8 2636.4L295.7 2636.8L297.4 2637.7L299 2639L300.4 2640.7L301.7 2642.7L302.9 2645L304.1 2647.2L305.3 2649.5L306.4 2651.8L307.5 2654.1L308.6 2656.5L309.7 2658.8L310.7 2661.1L311.8 2663.4L312.8 2665.7L313.8 2668L314.8 2670.4L315.8 2672.7L316.8 2675L317.8 2677.4L318.7 2679.7L319.6 2682L320.6 2684.4L321.5 2686.7L322.4 2689.1L323.2 2691.4L324.1 2693.8L325 2696.1L325.8 2698.5L326.7 2700.8L327.5 2703.2L328.3 2705.6L329.1 2707.9L329.9 2710.3L330.7 2712.7L331.5 2715L332.2 2717.4L333 2719.8L333.7 2722.1L334.5 2724.5L335.2 2726.9L335.9 2729.3L336.6 2731.7L337.4 2734.1L338.1 2736.4L338.8 2738.8L339.5 2741.2L340.2 2743.6L340.8 2746L341.5 2748.4L342.2 2750.8L342.9 2753.2L343.5 2755.6L344.2 2758L344.8 2760.4L345.5 2762.8L346.1 2765.2L346.8 2767.6L347.4 2770L348.1 2772.5L348.7 2774.9L349.4 2777.3L350 2779.7L350.6 2782.1L351.2 2784.5L351.9 2786.9L352.5 2789.4L353.1 2791.8L353.7 2794.2L354.3 2796.6L354.9 2799.1L355.5 2801.5L356.1 2803.9L356.7 2806.3L357.3 2808.8L357.8 2811.2L358.4 2813.6L359 2816.1L359.5 2818.5L360.1 2820.9L360.7 2823.4L361.2 2825.8L361.7 2828.3L362.3 2830.7L362.8 2833.1L363.3 2835.6L363.8 2838L364.3 2840.5L364.8 2842.9L365.3 2845.4L365.8 2847.8L366.3 2850.3L366.8 2852.7L367.2 2855.2L367.7 2857.6L368.2 2860.1L368.6 2862.6L369.1 2865L369.5 2867.5L369.9 2869.9L370.4 2872.4L370.8 2874.9L371.2 2877.3L371.7 2879.8L372.1 2882.2L372.5 2884.7L372.9 2887.2L373.4 2889.6L373.8 2892.1L374.2 2894.6L374.7 2897L375.1 2899.5L375.5 2901.9L376 2904.4L376.4 2906.8L376.9 2909.3L377.3 2911.8L377.8 2914.2L378.3 2916.7L378.7 2919.1L379.2 2921.6L379.7 2924L380.2 2926.4L380.7 2928.9L381.2 2931.3L381.8 2933.8L382.3 2936.2L382.9 2938.6L383.4 2941.1L384 2943.5L384.6 2945.9L385.2 2948.3L385.8 2950.8L386.4 2953.2L387.1 2955.6L387.7 2958L388.4 2960.4L389.1 2962.8L389.8 2965.2L390.5 2967.6L391.2 2970L391.9 2972.4L392.6 2974.8L393.3 2977.2L394 2979.6L394.7 2982L395.4 2984.4L396.1 2986.8L396.8 2989.2L397.5 2991.6L398.1 2994L398.8 2996.5L399.4 2998.9L400.1 3001.3L400.7 3003.7L401.3 3006.1L401.9 3008.6L402.5 3011L403 3013.4L403.6 3015.9L404.1 3018.3L404.6 3020.8L405.2 3023.2L405.7 3025.7L406.2 3028.1L406.7 3030.6L407.2 3033L407.7 3035.5L408.2 3037.9L408.6 3040.4L409.1 3042.8L409.6 3045.3L410.1 3047.7L410.6 3050.2L411.1 3052.6L411.6 3055.1L412.1 3057.5L412.6 3060L413.1 3062.4L413.6 3064.9L414.1 3067.3L414.6 3069.8L415.2 3072.2L415.7 3074.6L416.3 3077.1L416.9 3079.5L417.4 3081.9L418 3084.3L418.7 3086.8L419.3 3089.2L420 3091.6L420.6 3094L421.3 3096.4L422 3098.7L422.8 3101.1L423.5 3103.5L424.3 3105.9L425.1 3108.2L425.9 3110.6L426.7 3113L427.6 3115.3L428.5 3117.6L429.3 3120L430.2 3122.3L431.2 3124.7L432.1 3127L433 3129.3L434 3131.6L435 3133.9L435.9 3136.2L436.9 3138.5L437.9 3140.8L438.9 3143.1L439.9 3145.4L441 3147.7L442 3150L443 3152.3L444 3154.6L445.1 3156.9L446.1 3159.2L447.1 3161.4L448.2 3163.7L449.2 3166L450.3 3168.3L451.3 3170.5L452.3 3172.8L453.3 3175.1L454.4 3177.4L455.4 3179.6L456.4 3181.9L457.5 3184.2L458.5 3186.4L459.6 3188.7L460.6 3190.9L461.7 3193.2L462.8 3195.4L463.8 3197.7L464.9 3199.9L466 3202.1L467.1 3204.4L468.2 3206.6L469.3 3208.8L470.5 3211L471.6 3213.2L472.8 3215.4L474 3217.6L475.2 3219.8L476.4 3222L477.6 3224.1L478.9 3226.3L480.2 3228.5L481.4 3230.6L482.8 3232.7L484.1 3234.9L485.4 3237L486.8 3239.1L488.1 3241.2L489.5 3243.3L490.9 3245.4L492.3 3247.4L493.8 3249.5L495.2 3251.6L496.7 3253.6L498.2 3255.6L499.7 3257.6L501.2 3259.6L502.7 3261.6L504.3 3263.6L505.8 3265.6L507.4 3267.5L509 3269.5L510.6 3271.4L512.2 3273.3L513.9 3275.2L515.5 3277.1L517.2 3279L518.9 3280.8L520.6 3282.7L522.3 3284.5L524 3286.3L525.8 3288.1L527.6 3289.9L529.3 3291.6L531.1 3293.4L532.9 3295.1L534.8 3296.8L536.6 3298.5L538.4 3300.2L540.3 3301.9L542.2 3303.5L544.1 3305.1L546 3306.7L547.9 3308.3L549.9 3309.9L551.8 3311.4L553.8 3312.9L555.7 3314.5L557.7 3315.9L559.7 3317.4L561.8 3318.9L563.8 3320.3L565.8 3321.7L567.9 3323.1L570 3324.5L572 3325.9L574.1 3327.2L576.2 3328.5L578.3 3329.8L580.5 3331.1L582.6 3332.4L584.7 3333.7L586.9 3334.9L589.1 3336.2L591.2 3337.4L593.4 3338.6L595.6 3339.8L597.8 3341L600 3342.1L602.2 3343.3L604.4 3344.4L606.7 3345.6L608.9 3346.7L611.2 3347.8L613.4 3348.9L615.7 3350L617.9 3351L620.2 3352.1L622.5 3353.1L624.8 3354.2L627 3355.2L629.3 3356.2L631.6 3357.2L633.9 3358.2L636.2 3359.2L638.5 3360.1L640.9 3361.1L643.2 3362.1L645.5 3363L647.8 3364L650.1 3364.9L652.5 3365.8L654.8 3366.7L657.1 3367.6L659.5 3368.6L661.8 3369.4L664.2 3370.3L666.5 3371.2L668.8 3372.1L671.2 3373L673.5 3373.8L675.9 3374.7L678.2 3375.5L680.6 3376.4L683 3377.2L685.3 3378L687.7 3378.8L690 3379.6L692.4 3380.4L694.8 3381.2L697.2 3382L699.5 3382.8L701.9 3383.6L704.3 3384.4L706.7 3385.1L709 3385.9L711.4 3386.6L713.8 3387.4L716.2 3388.1L718.6 3388.8L721 3389.6L723.4 3390.3L725.8 3391L728.2 3391.7L730.6 3392.4L733 3393.1L735.4 3393.8L737.8 3394.5L740.2 3395.1L742.6 3395.8L745 3396.5L747.4 3397.1L749.8 3397.8L752.2 3398.4L754.6 3399.1L757 3399.7L759.5 3400.3L761.9 3401L764.3 3401.6L766.7 3402.2L769.1 3402.8L771.6 3403.4L774 3404L776.4 3404.6L778.8 3405.2L781.3 3405.8L783.7 3406.3L786.1 3406.9L788.5 3407.5L791 3408L793.4 3408.6L795.8 3409.2L798.3 3409.7L800.7 3410.2L803.2 3410.8L805.6 3411.3L808 3411.8L810.5 3412.4L812.9 3412.9L815.4 3413.4L817.8 3413.9L820.2 3414.4L822.7 3414.9L825.1 3415.4L827.6 3415.9L830 3416.4L832.5 3416.8L834.9 3417.3L837.4 3417.8L839.8 3418.3L842.3 3418.7L844.7 3419.2L847.2 3419.6L849.6 3420.1L852.1 3420.5L854.5 3421L857 3421.4L859.5 3421.8L861.9 3422.3L864.4 3422.7L866.8 3423.1L869.3 3423.5L871.8 3423.9L874.2 3424.3L876.7 3424.8L879.1 3425.2L881.6 3425.5L884.1 3425.9L886.5 3426.3L889 3426.7L891.5 3427.1L893.9 3427.5L896.4 3427.8L898.9 3428.2L901.3 3428.6L903.8 3428.9L906.3 3429.3L908.8 3429.6L911.2 3430L913.7 3430.3L916.2 3430.7L918.7 3431L921.1 3431.4L923.6 3431.7L926.1 3432L928.6 3432.3L931 3432.7L933.5 3433L936 3433.3L938.5 3433.6L940.9 3433.9L943.4 3434.2L945.9 3434.5L948.4 3434.8L950.9 3435.1L953.3 3435.4L955.8 3435.7L958.3 3436L960.8 3436.3L963.3 3436.6L965.8 3436.8L968.2 3437.1L970.7 3437.4L973.2 3437.7L975.7 3437.9L978.2 3438.2L980.7 3438.4L983.2 3438.7L985.6 3439L988.1 3439.2L990.6 3439.5L993.1 3439.7L995.6 3439.9L998.1 3440.2L1000.6 3440.4L1003.1 3440.7L1005.6 3440.9L1008 3441.1L1010.5 3441.4L1013 3441.6L1015.5 3441.8L1018 3442L1020.5 3442.2L1023 3442.5L1025.5 3442.7L1028 3442.9L1030.5 3443.1L1033 3443.3L1035.5 3443.5L1038 3443.7L1040.4 3443.9L1042.9 3444.1L1045.4 3444.3L1047.9 3444.5L1050.4 3444.7L1052.9 3444.9L1055.4 3445.1L1057.9 3445.2L1060.4 3445.4L1062.9 3445.6L1065.4 3445.8L1067.9 3446L1070.4 3446.1L1072.9 3446.3L1075.4 3446.5L1077.9 3446.7L1080.4 3446.8L1082.9 3447L1085.3 3447.2L1087.8 3447.3L1090.3 3447.5L1092.8 3447.7L1095.3 3447.8L1097.8 3448L1100.3 3448.1L1102.8 3448.3L1105.3 3448.4L1107.8 3448.6L1110.3 3448.7L1112.8 3448.9L1115.3 3449L1117.8 3449.2L1120.3 3449.3L1122.8 3449.5L1125.3 3449.6L1127.8 3449.7L1130.3 3449.9L1132.8 3450L1135.3 3450.2L1137.7 3450.3L1140.2 3450.4L1142.7 3450.6L1145.2 3450.7L1147.7 3450.8L1150.2 3450.9L1152.7 3451.1L1155.2 3451.2L1157.7 3451.3L1160.2 3451.4L1162.7 3451.6L1165.2 3451.7L1167.7 3451.8L1170.2 3451.9L1172.7 3452L1175.2 3452.1L1177.7 3452.3L1180.2 3452.4L1182.7 3452.5L1185.2 3452.6L1187.7 3452.7L1190.2 3452.8L1192.7 3452.9L1195.1 3453L1197.6 3453.1L1200.1 3453.2L1202.6 3453.3L1205.1 3453.4L1207.6 3453.5L1210.1 3453.6L1212.6 3453.7L1215.1 3453.8L1217.6 3453.9L1220.1 3454L1222.6 3454.1L1225.1 3454.2L1227.6 3454.3L1230.1 3454.4L1232.6 3454.4L1235.1 3454.5L1237.6 3454.6L1240.1 3454.7L1242.6 3454.8L1245.1 3454.9L1247.6 3455L1250.1 3455L1252.6 3455.1L1255 3455.2L1257.5 3455.3L1260 3455.4L1262.5 3455.4L1265 3455.5L1267.5 3455.6L1270 3455.7L1272.5 3455.7L1275 3455.8L1277.5 3455.9L1280 3456L1282.5 3456L1285 3456.1L1287.5 3456.2L1290 3456.2L1292.5 3456.3L1295 3456.4L1297.5 3456.4L1300 3456.5L1302.5 3456.6L1305 3456.6L1307.5 3456.7L1310 3456.7L1312.5 3456.8L1315 3456.9L1317.4 3456.9L1319.9 3457L1322.4 3457L1324.9 3457.1L1327.4 3457.2L1329.9 3457.2L1332.4 3457.3L1334.9 3457.3L1337.4 3457.4L1339.9 3457.4L1342.4 3457.5L1344.9 3457.5L1347.4 3457.6L1349.9 3457.7L1352.4 3457.7L1354.9 3457.8L1357.4 3457.8L1359.9 3457.9L1362.4 3457.9L1364.9 3458L1367.4 3458L1369.9 3458.1L1372.4 3458.1L1374.9 3458.1L1377.4 3458.2L1379.9 3458.2L1382.4 3458.3L1384.9 3458.3L1387.4 3458.4L1389.8 3458.4L1392.3 3458.5L1394.8 3458.5L1397.3 3458.6L1399.8 3458.6L1402.3 3458.6L1404.8 3458.7L1407.3 3458.7L1409.8 3458.8L1412.3 3458.8L1414.8 3458.9L1417.3 3458.9L1419.8 3458.9L1422.3 3459L1424.8 3459L1427.3 3459.1L1429.8 3459.1L1432.3 3459.1L1434.8 3459.2L1437.3 3459.2L1439.8 3459.3L1442.3 3459.3L1444.8 3459.3L1447.3 3459.4L1449.8 3459.4L1452.3 3459.4L1454.8 3459.5L1457.3 3459.5L1459.8 3459.5L1462.3 3459.6L1464.8 3459.6L1467.3 3459.6L1469.8 3459.7L1472.2 3459.7L1474.7 3459.8L1477.2 3459.8L1479.7 3459.8L1482.2 3459.8L1484.7 3459.9L1487.2 3459.9L1489.7 3459.9L1492.2 3460L1494.7 3460L1497.2 3460L1499.7 3460.1L1502.2 3460.1L1504.7 3460.1L1507.2 3460.2L1509.7 3460.2L1512.2 3460.2L1514.7 3460.2L1517.2 3460.3L1519.7 3460.3L1522.2 3460.3L1524.7 3460.4L1527.2 3460.4L1529.7 3460.4L1532.2 3460.4L1534.7 3460.5L1537.2 3460.5L1539.7 3460.5L1542.2 3460.5L1544.7 3460.6L1547.2 3460.6L1549.7 3460.6L1552.2 3460.6L1554.7 3460.7L1557.2 3460.7L1559.7 3460.7L1562.2 3460.7L1564.7 3460.8L1567.2 3460.8L1569.6 3460.8L1572.1 3460.8L1574.6 3460.8L1577.1 3460.9L1579.6 3460.9L1582.1 3460.9L1584.6 3460.9L1587.1 3460.9L1589.6 3461L1592.1 3461L1594.6 3461L1597.1 3461L1599.6 3461L1602.1 3461.1L1604.6 3461.1L1607.1 3461.1L1609.6 3461.1L1612.1 3461.1L1614.6 3461.2L1617.1 3461.2L1619.6 3461.2L1622.1 3461.2L1624.6 3461.2L1627.1 3461.2L1629.6 3461.3L1632.1 3461.3L1634.6 3461.3L1637.1 3461.3L1639.6 3461.3L1642.1 3461.3L1644.6 3461.4L1647.1 3461.4L1649.6 3461.4L1652.1 3461.4L1654.6 3461.4L1657.1 3461.4L1659.6 3461.4L1662.1 3461.4L1664.6 3461.5L1667.1 3461.5L1669.6 3461.5L1672.1 3461.5L1674.6 3461.5L1677.1 3461.5L1679.6 3461.5L1682.1 3461.5L1684.6 3461.6L1687.1 3461.6L1689.6 3461.6L1692 3461.6L1694.5 3461.6L1697 3461.6L1699.5 3461.6L1702 3461.6L1704.5 3461.6L1707 3461.6L1709.5 3461.7L1712 3461.7L1714.5 3461.7L1717 3461.7L1719.5 3461.7L1722 3461.7L1724.5 3461.7L1727 3461.7L1729.5 3461.7L1732 3461.7L1734.5 3461.7L1737 3461.7L1739.5 3461.8L1742 3461.8L1744.5 3461.8L1747 3461.8L1749.5 3461.8L1752 3461.8L1754.5 3461.8L1757 3461.8L1759.5 3461.8L1762 3461.8L1764.5 3461.8L1767 3461.8L1769.5 3461.8L1772 3461.8L1774.5 3461.8L1777 3461.8L1779.5 3461.8L1782 3461.8L1784.5 3461.8L1787 3461.8L1789.5 3461.9L1792 3461.9L1794.5 3461.9L1797 3461.9L1799.5 3461.9L1802 3461.9L1804.5 3461.9L1807 3461.9L1809.5 3461.9L1812 3461.9L1814.5 3461.9L1817 3461.9L1819.5 3461.9L1822 3461.9L1824.5 3461.9L1827 3461.9L1829.5 3461.9L1832 3461.9L1834.5 3461.9L1837 3461.9L1839.5 3461.9L1841.9 3461.9L1844.4 3461.9L1846.9 3461.9L1849.4 3461.9L1851.9 3461.9L1854.4 3461.9L1856.9 3461.9L1859.4 3461.9L1861.9 3461.9L1864.4 3461.9L1866.9 3461.9L1869.4 3461.9L1871.9 3461.9L1874.4 3461.9L1876.9 3461.9L1879.4 3461.9L1881.9 3461.9L1884.4 3461.9L1886.9 3461.9L1889.4 3461.9L1891.9 3461.9L1894.4 3461.9L1896.9 3461.9L1899.4 3461.9L1901.9 3461.9L1904.4 3461.9L1906.9 3461.9L1909.4 3461.8L1911.9 3461.8L1914.4 3461.8L1916.9 3461.8L1919.4 3461.8L1921.9 3461.8L1924.4 3461.8L1926.9 3461.8L1929.4 3461.8L1931.9 3461.8L1934.4 3461.8L1936.9 3461.8L1939.4 3461.8L1941.9 3461.8L1944.4 3461.8L1946.9 3461.8L1949.4 3461.8L1951.9 3461.8L1954.4 3461.8L1956.9 3461.8L1959.4 3461.8L1961.9 3461.8L1964.4 3461.8L1966.9 3461.8L1969.4 3461.8L1971.9 3461.7L1974.4 3461.7L1976.9 3461.7L1979.4 3461.7L1981.9 3461.7L1984.4 3461.7L1986.9 3461.7L1989.4 3461.7L1991.9 3461.7L1994.4 3461.7L1996.9 3461.7L1999.4 3461.7L2001.9 3461.7L2004.4 3461.7L2006.8 3461.7L2009.3 3461.7L2011.8 3461.7L2014.3 3461.7L2016.8 3461.7L2019.3 3461.6L2021.8 3461.6L2024.3 3461.6L2026.8 3461.6L2029.3 3461.6L2031.8 3461.6L2034.3 3461.6L2036.8 3461.6L2039.3 3461.6L2041.8 3461.6L2044.3 3461.6L2046.8 3461.6L2049.3 3461.6L2051.8 3461.6L2054.3 3461.6L2056.8 3461.5L2059.3 3461.5L2061.8 3461.5L2064.3 3461.5L2066.8 3461.5L2069.3 3461.5L2071.8 3461.5L2074.3 3461.5L2076.8 3461.5L2079.3 3461.5L2081.8 3461.5L2084.3 3461.5L2086.8 3461.5L2089.3 3461.5L2091.8 3461.5L2094.3 3461.4L2096.8 3461.4L2099.3 3461.4L2101.8 3461.4L2104.3 3461.4L2106.8 3461.4L2109.3 3461.4L2111.8 3461.4L2114.3 3461.4L2116.8 3461.4L2119.3 3461.4L2121.8 3461.4L2124.3 3461.4L2126.8 3461.4L2129.3 3461.4L2131.8 3461.3L2134.3 3461.3L2136.8 3461.3L2139.3 3461.3L2141.8 3461.3L2144.3 3461.3L2146.8 3461.3L2149.3 3461.3L2151.7 3461.3L2154.2 3461.3L2156.7 3461.3L2159.2 3461.3L2161.7 3461.3L2164.2 3461.3L2166.7 3461.3L2169.2 3461.2L2171.7 3461.2L2174.2 3461.2L2176.7 3461.2L2179.2 3461.2L2181.7 3461.2L2184.2 3461.2L2186.7 3461.2L2189.2 3461.2L2191.7 3461.2L2194.2 3461.2L2196.7 3461.2L2199.2 3461.2L2201.7 3461.2L2204.2 3461.2L2206.7 3461.2L2209.2 3461.1L2211.7 3461.1L2214.2 3461.1L2216.7 3461.1L2219.2 3461.1L2221.7 3461.1L2224.2 3461.1L2226.7 3461.1L2229.2 3461.1L2231.7 3461.1L2234.2 3461.1L2236.7 3461.1L2239.2 3461.1L2241.7 3461.1L2244.2 3461.1L2246.7 3461.1L2249.2 3461.1L2251.7 3461.1L2254.2 3461.1L2256.7 3461.1L2259.2 3461L2261.7 3461L2264.2 3461L2266.7 3461L2269.2 3461L2271.6 3461L2274.1 3461L2276.6 3461L2279.1 3461L2281.6 3461L2284.1 3461L2286.6 3461L2289.1 3461L2291.6 3461L2294.1 3461L2296.6 3461L2299.1 3461L2301.6 3461L2304.1 3461L2306.6 3461L2309.1 3461L2311.6 3461L2314.1 3461L2316.6 3461L2319.1 3461L2321.6 3461L2324.1 3461L2326.6 3461L2329.1 3461L2331.6 3461L2334.1 3461L2336.6 3460.9L2339.1 3460.9L2341.6 3460.9L2344.1 3460.9L2346.6 3460.9L2349.1 3460.9L2351.6 3460.9L2354.1 3460.9L2356.6 3460.9L2359.1 3460.9L2361.6 3460.9L2364.1 3460.9L2366.6 3460.9L2369 3460.9L2371.5 3460.9L2374 3460.9L2376.5 3460.9L2379 3460.9L2381.5 3460.9L2384 3460.9L2386.5 3460.9L2389 3460.9L2391.5 3460.9L2394 3460.9L2396.5 3460.9L2399 3461L2401.5 3461L2404 3461L2406.5 3461L2409 3461L2411.5 3461L2414 3461L2416.5 3461L2419 3461L2421.5 3461L2424 3460.8"/>
<path stroke="#0000ff" d="M231 2875L231.5 2872.5L231.7 2870.1L231.9 2867.6L232.2 2865.1L232.4 2862.6L232.7 2860.1L232.9 2857.6L233.2 2855.1L233.5 2852.6L233.8 2850.2L234.2 2847.7L234.5 2845.2L234.8 2842.7L235.2 2840.3L235.5 2837.8L235.9 2835.3L236.3 2832.8L236.7 2830.4L237.1 2827.9L237.5 2825.4L237.9 2823L238.3 2820.5L238.7 2818L239.2 2815.6L239.6 2813.1L240 2810.7L240.5 2808.2L240.9 2805.7L241.4 2803.3L241.8 2800.8L242.3 2798.4L242.8 2795.9L243.2 2793.5L243.7 2791L244.2 2788.5L244.6 2786.1L245.1 2783.6L245.6 2781.2L246.1 2778.7L246.5 2776.3L247 2773.8L247.5 2771.4L247.9 2768.9L248.4 2766.4L248.9 2764L249.3 2761.5L249.8 2759.1L250.2 2756.6L250.7 2754.2L251.1 2751.7L251.6 2749.3L252 2746.8L252.4 2744.3L252.9 2741.9L253.3 2739.4L253.7 2737L254.1 2734.5L254.5 2732L254.9 2729.6L255.3 2727.1L255.7 2724.6L256.1 2722.2L256.5 2719.7L256.9 2717.3L257.3 2714.8L257.7 2712.3L258.1 2709.9L258.5 2707.4L259 2705L259.4 2702.5L259.8 2700.1L260.3 2697.6L260.8 2695.2L261.3 2692.7L261.8 2690.3L262.3 2687.8L262.8 2685.4L263.4 2683L264 2680.5L264.6 2678.1L265.2 2675.7L265.9 2673.2L266.5 2670.8L267.2 2668.4L267.9 2666L268.7 2663.6L269.5 2661.2L270.3 2658.8L271.1 2656.4L272 2654.1L272.8 2651.7L273.7 2649.4L274.6 2647.1L275.5 2644.8L276.4 2642.5L277.3 2640.2L278.2 2638L279.1 2635.9L280 2633.7L280.9 2631.6L281.9 2629.4L283 2627.2L284.3 2624.9L285.8 2622.4L287.4 2619.9L289.3 2617.3L291.3 2615.1L293.4 2613.3L295.4 2612.2L297.4 2611.7L299.4 2611.8L301.4 2612.4L303.3 2613.4L305.1 2614.7L306.9 2616.4L308.7 2618.2L310.3 2620.1L311.9 2622.1L313.4 2624.1L314.9 2626.2L316.3 2628.3L317.6 2630.4L318.8 2632.6L320 2634.7L321.1 2637L322.2 2639.2L323.2 2641.5L324.2 2643.8L325.1 2646.1L326 2648.4L326.8 2650.8L327.6 2653.1L328.3 2655.5L329.1 2657.9L329.8 2660.3L330.4 2662.8L331.1 2665.2L331.7 2667.6L332.3 2670.1L332.9 2672.6L333.4 2675L334 2677.5L334.5 2680L335.1 2682.4L335.6 2684.9L336.1 2687.4L336.7 2689.8L337.2 2692.3L337.7 2694.8L338.3 2697.2L338.8 2699.7L339.3 2702.1L339.9 2704.6L340.4 2707L341 2709.5L341.5 2711.9L342 2714.4L342.6 2716.8L343.1 2719.2L343.6 2721.7L344.2 2724.1L344.7 2726.6L345.2 2729L345.7 2731.4L346.3 2733.9L346.8 2736.3L347.3 2738.7L347.8 2741.2L348.4 2743.6L348.9 2746L349.4 2748.5L349.9 2750.9L350.4 2753.3L350.9 2755.8L351.5 2758.2L352 2760.7L352.5 2763.1L353 2765.5L353.5 2768L354 2770.4L354.5 2772.8L355 2775.3L355.5 2777.7L356 2780.2L356.5 2782.6L357 2785.1L357.5 2787.5L357.9 2790L358.4 2792.4L358.9 2794.8L359.4 2797.3L359.9 2799.7L360.4 2802.2L360.8 2804.6L361.3 2807.1L361.8 2809.5L362.3 2812L362.7 2814.4L363.2 2816.9L363.7 2819.3L364.1 2821.8L364.6 2824.3L365.1 2826.7L365.5 2829.2L366 2831.6L366.4 2834.1L366.9 2836.5L367.4 2839L367.8 2841.5L368.3 2843.9L368.7 2846.4L369.2 2848.8L369.6 2851.3L370.1 2853.7L370.5 2856.2L371 2858.7L371.4 2861.1L371.9 2863.6L372.3 2866L372.8 2868.5L373.2 2871L373.7 2873.4L374.1 2875.9L374.6 2878.4L375 2880.8L375.4 2883.3L375.9 2885.7L376.3 2888.2L376.8 2890.7L377.2 2893.1L377.6 2895.6L378.1 2898.1L378.5 2900.5L379 2903L379.4 2905.5L379.8 2907.9L380.3 2910.4L380.7 2912.9L381.1 2915.3L381.6 2917.8L382 2920.2L382.4 2922.7L382.9 2925.2L383.3 2927.6L383.7 2930.1L384.2 2932.6L384.6 2935L385 2937.5L385.5 2940L385.9 2942.4L386.3 2944.9L386.8 2947.3L387.2 2949.8L387.6 2952.3L388.1 2954.7L388.5 2957.2L388.9 2959.7L389.4 2962.1L389.8 2964.6L390.2 2967L390.7 2969.5L391.1 2972L391.5 2974.4L392 2976.9L392.4 2979.3L392.9 2981.8L393.3 2984.3L393.7 2986.7L394.2 2989.2L394.6 2991.6L395 2994.1L395.5 2996.5L395.9 2999L396.4 3001.5L396.8 3003.9L397.3 3006.4L397.7 3008.8L398.1 3011.3L398.6 3013.7L399 3016.2L399.5 3018.6L399.9 3021.1L400.4 3023.5L400.8 3026L401.3 3028.5L401.7 3030.9L402.2 3033.4L402.6 3035.8L403 3038.3L403.5 3040.7L403.9 3043.2L404.4 3045.6L404.8 3048.1L405.3 3050.5L405.7 3053L406.2 3055.4L406.6 3057.9L407.1 3060.4L407.5 3062.8L408 3065.3L408.4 3067.7L408.8 3070.2L409.3 3072.7L409.7 3075.1L410.2 3077.6L410.6 3080L411.1 3082.5L411.5 3085L411.9 3087.4L412.4 3089.9L412.8 3092.4L413.3 3094.8L413.7 3097.3L414.1 3099.8L414.6 3102.3L415 3104.7L415.4 3107.2L415.9 3109.7L416.3 3112.2L416.7 3114.6L417.2 3117.1L417.6 3119.6L418.1 3122.1L418.6 3124.5L419.1 3127L419.5 3129.4L420 3131.9L420.6 3134.3L421.1 3136.8L421.6 3139.2L422.2 3141.6L422.8 3144.1L423.4 3146.5L424 3148.9L424.6 3151.3L425.3 3153.6L425.9 3156L426.6 3158.4L427.3 3160.8L428 3163.1L428.7 3165.5L429.5 3167.9L430.2 3170.2L430.9 3172.6L431.7 3174.9L432.4 3177.3L433.2 3179.7L434 3182L434.7 3184.4L435.5 3186.7L436.3 3189.1L437 3191.5L437.8 3193.9L438.6 3196.2L439.3 3198.6L440.1 3201L440.8 3203.4L441.6 3205.8L442.4 3208.2L443.1 3210.6L443.9 3213L444.7 3215.4L445.5 3217.8L446.3 3220.2L447 3222.6L447.8 3225L448.6 3227.4L449.4 3229.8L450.2 3232.2L451.1 3234.6L451.9 3237L452.7 3239.4L453.5 3241.7L454.4 3244.1L455.2 3246.5L456.1 3248.9L457 3251.3L457.8 3253.6L458.7 3256L459.6 3258.3L460.5 3260.7L461.5 3263L462.4 3265.4L463.3 3267.7L464.3 3270L465.3 3272.3L466.3 3274.7L467.3 3277L468.3 3279.2L469.3 3281.5L470.3 3283.8L471.4 3286.1L472.5 3288.3L473.6 3290.6L474.7 3292.8L475.8 3295L476.9 3297.2L478.1 3299.4L479.3 3301.6L480.5 3303.8L481.7 3305.9L482.9 3308.1L484.2 3310.2L485.5 3312.3L486.8 3314.4L488.1 3316.5L489.4 3318.6L490.8 3320.6L492.2 3322.7L493.6 3324.7L495 3326.7L496.5 3328.7L498 3330.7L499.5 3332.6L501 3334.6L502.5 3336.5L504.1 3338.4L505.7 3340.3L507.4 3342.2L509 3344L510.7 3345.8L512.4 3347.6L514.1 3349.4L515.8 3351.2L517.6 3353L519.4 3354.7L521.2 3356.4L523 3358.1L524.8 3359.8L526.7 3361.5L528.6 3363.1L530.5 3364.8L532.4 3366.4L534.3 3368L536.3 3369.6L538.3 3371.1L540.2 3372.7L542.3 3374.2L544.3 3375.7L546.3 3377.2L548.4 3378.6L550.4 3380.1L552.5 3381.5L554.6 3382.9L556.7 3384.3L558.8 3385.7L560.9 3387L563.1 3388.4L565.2 3389.7L567.4 3391L569.6 3392.3L571.8 3393.5L574 3394.8L576.2 3396L578.4 3397.2L580.7 3398.4L582.9 3399.6L585.1 3400.7L587.4 3401.9L589.7 3403L591.9 3404.1L594.2 3405.2L596.5 3406.2L598.8 3407.3L601.1 3408.3L603.4 3409.3L605.7 3410.3L608 3411.2L610.3 3412.2L612.6 3413.1L615 3414L617.3 3414.9L619.6 3415.8L622 3416.7L624.3 3417.5L626.7 3418.4L629 3419.2L631.4 3420L633.8 3420.8L636.1 3421.5L638.5 3422.3L640.9 3423L643.3 3423.7L645.7 3424.5L648.1 3425.2L650.5 3425.8L652.9 3426.5L655.3 3427.2L657.7 3427.8L660.1 3428.5L662.5 3429.1L664.9 3429.7L667.3 3430.3L669.7 3430.9L672.2 3431.5L674.6 3432L677 3432.6L679.5 3433.1L681.9 3433.6L684.3 3434.2L686.8 3434.7L689.2 3435.2L691.7 3435.7L694.1 3436.2L696.6 3436.6L699 3437.1L701.5 3437.6L704 3438L706.4 3438.5L708.9 3438.9L711.3 3439.3L713.8 3439.8L716.3 3440.2L718.7 3440.6L721.2 3441L723.7 3441.4L726.1 3441.8L728.6 3442.2L731.1 3442.6L733.6 3443L736 3443.3L738.5 3443.7L741 3444.1L743.5 3444.4L745.9 3444.8L748.4 3445.1L750.9 3445.5L753.4 3445.8L755.9 3446.2L758.3 3446.5L760.8 3446.9L763.3 3447.2L765.8 3447.5L768.3 3447.9L770.7 3448.2L773.2 3448.5L775.7 3448.8L778.2 3449.2L780.7 3449.5L783.1 3449.8L785.6 3450.1L788.1 3450.4L790.6 3450.7L793.1 3451L795.5 3451.3L798 3451.6L800.5 3451.9L803 3452.2L805.5 3452.5L807.9 3452.8L810.4 3453.1L812.9 3453.4L815.4 3453.7L817.9 3453.9L820.4 3454.2L822.8 3454.5L825.3 3454.8L827.8 3455L830.3 3455.3L832.8 3455.5L835.3 3455.8L837.8 3456.1L840.2 3456.3L842.7 3456.6L845.2 3456.8L847.7 3457.1L850.2 3457.3L852.7 3457.6L855.1 3457.8L857.6 3458L860.1 3458.3L862.6 3458.5L865.1 3458.7L867.6 3459L870.1 3459.2L872.6 3459.4L875 3459.6L877.5 3459.9L880 3460.1L882.5 3460.3L885 3460.5L887.5 3460.7L890 3460.9L892.5 3461.1L894.9 3461.3L897.4 3461.5L899.9 3461.7L902.4 3461.9L904.9 3462.1L907.4 3462.3L909.9 3462.5L912.4 3462.7L914.9 3462.9L917.3 3463.1L919.8 3463.2L922.3 3463.4L924.8 3463.6L927.3 3463.8L929.8 3463.9L932.3 3464.1L934.8 3464.3L937.3 3464.4L939.8 3464.6L942.3 3464.8L944.7 3464.9L947.2 3465.1L949.7 3465.2L952.2 3465.4L954.7 3465.6L957.2 3465.7L959.7 3465.9L962.2 3466L964.7 3466.1L967.2 3466.3L969.7 3466.4L972.2 3466.6L974.6 3466.7L977.1 3466.8L979.6 3467L982.1 3467.1L984.6 3467.2L987.1 3467.4L989.6 3467.5L992.1 3467.6L994.6 3467.7L997.1 3467.9L999.6 3468L1002.1 3468.1L1004.6 3468.2L1007.1 3468.3L1009.6 3468.4L1012.1 3468.5L1014.6 3468.7L1017 3468.8L1019.5 3468.9L1022 3469L1024.5 3469.1L1027 3469.2L1029.5 3469.3L1032 3469.4L1034.5 3469.5L1037 3469.5L1039.5 3469.6L1042 3469.7L1044.5 3469.8L1047 3469.9L1049.5 3470L1052 3470.1L1054.5 3470.2L1057 3470.2L1059.5 3470.3L1062 3470.4L1064.5 3470.5L1067 3470.5L1069.5 3470.6L1072 3470.7L1074.5 3470.8L1077 3470.8L1079.5 3470.9L1081.9 3471L1084.4 3471L1086.9 3471.1L1089.4 3471.2L1091.9 3471.2L1094.4 3471.3L1096.9 3471.3L1099.4 3471.4L1101.9 3471.4L1104.4 3471.5L1106.9 3471.5L1109.4 3471.6L1111.9 3471.6L1114.4 3471.7L1116.9 3471.7L1119.4 3471.8L1121.9 3471.8L1124.4 3471.9L1126.9 3471.9L1129.4 3472L1131.9 3472L1134.4 3472L1136.9 3472.1L1139.4 3472.1L1141.9 3472.2L1144.4 3472.2L1146.9 3472.2L1149.4 3472.2L1151.9 3472.3L1154.4 3472.3L1156.9 3472.3L1159.4 3472.4L1161.9 3472.4L1164.4 3472.4L1166.9 3472.4L1169.4 3472.5L1171.9 3472.5L1174.4 3472.5L1176.9 3472.5L1179.4 3472.5L1181.9 3472.6L1184.4 3472.6L1186.9 3472.6L1189.4 3472.6L1191.9 3472.6L1194.4 3472.6L1196.9 3472.7L1199.4 3472.7L1201.9 3472.7L1204.4 3472.7L1206.9 3472.7L1209.4 3472.7L1211.9 3472.7L1214.4 3472.7L1216.9 3472.7L1219.4 3472.7L1221.9 3472.7L1224.4 3472.7L1226.9 3472.7L1229.4 3472.7L1231.9 3472.7L1234.4 3472.7L1236.9 3472.7L1239.4 3472.7L1241.9 3472.7L1244.4 3472.7L1246.9 3472.7L1249.4 3472.7L1251.9 3472.7L1254.4 3472.7L1256.9 3472.7L1259.4 3472.7L1261.9 3472.7L1264.4 3472.7L1266.9 3472.7L1269.4 3472.7L1271.9 3472.7L1274.4 3472.7L1276.9 3472.6L1279.4 3472.6L1281.9 3472.6L1284.4 3472.6L1286.9 3472.6L1289.4 3472.6L1291.9 3472.6L1294.4 3472.6L1296.9 3472.5L1299.4 3472.5L1301.9 3472.5L1304.4 3472.5L1307 3472.5L1309.5 3472.5L1312 3472.4L1314.5 3472.4L1317 3472.4L1319.5 3472.4L1322 3472.4L1324.5 3472.4L1327 3472.3L1329.5 3472.3L1332 3472.3L1334.5 3472.3L1337 3472.3L1339.5 3472.2L1342 3472.2L1344.5 3472.2L1347 3472.2L1349.5 3472.1L1352 3472.1L1354.5 3472.1L1357 3472.1L1359.5 3472.1L1362 3472L1364.5 3472L1367 3472L1369.5 3472L1372 3471.9L1374.5 3471.9L1377 3471.9L1379.5 3471.9L1382 3471.8L1384.5 3471.8L1387 3471.8L1389.5 3471.8L1392 3471.7L1394.5 3471.7L1397 3471.7L1399.5 3471.7L1402 3471.6L1404.5 3471.6L1407 3471.6L1409.5 3471.6L1412 3471.5L1414.5 3471.5L1417 3471.5L1419.5 3471.5L1422 3471.5L1424.5 3471.4L1427 3471.4L1429.5 3471.4L1432 3471.4L1434.5 3471.3L1437 3471.3L1439.5 3471.3L1442 3471.3L1444.5 3471.2L1447 3471.2L1449.5 3471.2L1452 3471.1L1454.5 3471.1L1457 3471.1L1459.5 3471.1L1462 3471L1464.5 3471L1467 3471L1469.5 3471L1472 3470.9L1474.5 3470.9L1477 3470.9L1479.5 3470.9L1482 3470.8L1484.5 3470.8L1487 3470.8L1489.5 3470.8L1492 3470.7L1494.5 3470.7L1497 3470.7L1499.5 3470.7L1502 3470.6L1504.5 3470.6L1507 3470.6L1509.5 3470.6L1512 3470.5L1514.5 3470.5L1517 3470.5L1519.5 3470.5L1522 3470.4L1524.5 3470.4L1527 3470.4L1529.5 3470.3L1532 3470.3L1534.5 3470.3L1537 3470.3L1539.5 3470.2L1542 3470.2L1544.5 3470.2L1547 3470.2L1549.5 3470.1L1552 3470.1L1554.5 3470.1L1557 3470.1L1559.5 3470L1562 3470L1564.5 3470L1567 3469.9L1569.5 3469.9L1572 3469.9L1574.5 3469.9L1577 3469.8L1579.5 3469.8L1582 3469.8L1584.5 3469.8L1587 3469.7L1589.5 3469.7L1592 3469.7L1594.5 3469.6L1597 3469.6L1599.5 3469.6L1602 3469.6L1604.5 3469.5L1607 3469.5L1609.5 3469.5L1612 3469.4L1614.5 3469.4L1617 3469.4L1619.5 3469.4L1622 3469.3L1624.4 3469.3L1626.9 3469.3L1629.4 3469.2L1631.9 3469.2L1634.4 3469.2L1636.9 3469.2L1639.4 3469.1L1641.9 3469.1L1644.4 3469.1L1646.9 3469L1649.4 3469L1651.9 3469L1654.4 3469L1656.9 3468.9L1659.4 3468.9L1661.9 3468.9L1664.4 3468.8L1666.9 3468.8L1669.4 3468.8L1671.9 3468.8L1674.4 3468.7L1676.9 3468.7L1679.4 3468.7L1681.9 3468.6L1684.4 3468.6L1686.9 3468.6L1689.4 3468.6L1691.9 3468.5L1694.4 3468.5L1696.9 3468.5L1699.4 3468.4L1701.9 3468.4L1704.4 3468.4L1706.9 3468.3L1709.4 3468.3L1711.9 3468.3L1714.4 3468.3L1716.9 3468.2L1719.4 3468.2L1721.9 3468.2L1724.4 3468.1L1726.9 3468.1L1729.4 3468.1L1731.9 3468L1734.4 3468L1736.9 3468L1739.4 3468L1741.9 3467.9L1744.4 3467.9L1746.9 3467.9L1749.4 3467.8L1751.9 3467.8L1754.4 3467.8L1756.9 3467.7L1759.4 3467.7L1761.9 3467.7L1764.3 3467.6L1766.8 3467.6L1769.3 3467.6L1771.8 3467.6L1774.3 3467.5L1776.8 3467.5L1779.3 3467.5L1781.8 3467.4L1784.3 3467.4L1786.8 3467.4L1789.3 3467.3L1791.8 3467.3L1794.3 3467.3L1796.8 3467.2L1799.3 3467.2L1801.8 3467.2L1804.3 3467.1L1806.8 3467.1L1809.3 3467.1L1811.8 3467L1814.3 3467L1816.8 3467L1819.3 3467L1821.8 3466.9L1824.3 3466.9L1826.8 3466.9L1829.3 3466.8L1831.8 3466.8L1834.3 3466.8L1836.8 3466.7L1839.3 3466.7L1841.8 3466.7L1844.3 3466.6L1846.8 3466.6L1849.3 3466.6L1851.8 3466.5L1854.3 3466.5L1856.8 3466.5L1859.3 3466.4L1861.8 3466.4L1864.3 3466.4L1866.8 3466.3L1869.3 3466.3L1871.8 3466.3L1874.3 3466.2L1876.8 3466.2L1879.2 3466.2L1881.7 3466.1L1884.2 3466.1L1886.7 3466.1L1889.2 3466L1891.7 3466L1894.2 3466L1896.7 3465.9L1899.2 3465.9L1901.7 3465.9L1904.2 3465.8L1906.7 3465.8L1909.2 3465.8L1911.7 3465.7L1914.2 3465.7L1916.7 3465.7L1919.2 3465.6L1921.7 3465.6L1924.2 3465.6L1926.7 3465.5L1929.2 3465.5L1931.7 3465.5L1934.2 3465.4L1936.7 3465.4L1939.2 3465.3L1941.7 3465.3L1944.2 3465.3L1946.7 3465.2L1949.2 3465.2L1951.7 3465.2L1954.2 3465.1L1956.7 3465.1L1959.2 3465.1L1961.7 3465L1964.2 3465L1966.7 3465L1969.2 3464.9L1971.7 3464.9L1974.2 3464.9L1976.7 3464.8L1979.2 3464.8L1981.7 3464.7L1984.2 3464.7L1986.7 3464.7L1989.2 3464.6L1991.7 3464.6L1994.1 3464.6L1996.6 3464.5L1999.1 3464.5L2001.6 3464.5L2004.1 3464.4L2006.6 3464.4L2009.1 3464.4L2011.6 3464.3L2014.1 3464.3L2016.6 3464.2L2019.1 3464.2L2021.6 3464.2L2024.1 3464.1L2026.6 3464.1L2029.1 3464.1L2031.6 3464L2034.1 3464L2036.6 3463.9L2039.1 3463.9L2041.6 3463.9L2044.1 3463.8L2046.6 3463.8L2049.1 3463.8L2051.6 3463.7L2054.1 3463.7L2056.6 3463.6L2059.1 3463.6L2061.6 3463.6L2064.1 3463.5L2066.6 3463.5L2069.1 3463.5L2071.6 3463.4L2074.1 3463.4L2076.6 3463.3L2079.1 3463.3L2081.6 3463.3L2084.1 3463.2L2086.6 3463.2L2089.1 3463.2L2091.6 3463.1L2094.1 3463.1L2096.6 3463L2099.1 3463L2101.6 3463L2104.1 3462.9L2106.6 3462.9L2109.1 3462.8L2111.6 3462.8L2114.1 3462.8L2116.6 3462.7L2119.1 3462.7L2121.6 3462.7L2124.1 3462.6L2126.6 3462.6L2129.1 3462.5L2131.6 3462.5L2134.1 3462.5L2136.6 3462.4L2139 3462.4L2141.5 3462.3L2144 3462.3L2146.5 3462.3L2149 3462.2L2151.5 3462.2L2154 3462.1L2156.5 3462.1L2159 3462.1L2161.5 3462L2164 3462L2166.5 3461.9L2169 3461.9L2171.5 3461.9L2174 3461.8L2176.5 3461.8L2179 3461.7L2181.5 3461.7L2184 3461.7L2186.5 3461.6L2189 3461.6L2191.5 3461.5L2194 3461.5L2196.5 3461.4L2199 3461.4L2201.5 3461.4L2204 3461.3L2206.5 3461.3L2209 3461.2L2211.5 3461.2L2214 3461.2L2216.5 3461.1L2219 3461.1L2221.5 3461L2224 3461L2226.5 3460.9L2229 3460.9L2231.5 3460.9L2234 3460.8L2236.5 3460.8L2239 3460.7L2241.5 3460.7L2244 3460.7L2246.5 3460.6L2249 3460.6L2251.5 3460.5L2254 3460.5L2256.5 3460.4L2259 3460.4L2261.5 3460.4L2264 3460.3L2266.5 3460.3L2269 3460.2L2271.5 3460.2L2274 3460.1L2276.5 3460.1L2279 3460.1L2281.5 3460L2284 3460L2286.5 3459.9L2289 3459.9L2291.5 3459.8L2294 3459.8L2296.5 3459.7L2299 3459.7L2301.5 3459.7L2304 3459.6L2306.5 3459.6L2309 3459.5L2311.5 3459.5L2314 3459.4L2316.5 3459.4L2319 3459.3L2321.5 3459.3L2324 3459.3L2326.5 3459.2L2329 3459.2L2331.5 3459.1L2334 3459.1L2336.5 3459L2339 3459L2341.5 3458.9L2344 3458.9L2346.5 3458.9L2349 3458.8L2351.5 3458.8L2354 3458.7L2356.5 3458.7L2359 3458.6L2361.5 3458.6L2364 3458.5L2366.5 3458.5L2369 3458.4L2371.5 3458.4L2374 3458.4L2376.5 3458.3L2379 3458.3L2381.5 3458.2L2384 3458.2L2386.5 3458.1L2389 3458.1L2391.5 3458L2394 3458L2396.5 3457.9L2399 3457.9L2401.5 3457.8L2404 3457.8L2406.5 3457.7L2409 3457.7L2411.5 3457.7L2414 3457.6L2416.5 3457.6L2419 3457.5L2421.5 3457.5L2424 3457.5"/>
<path stroke="#00ff00" d="M234 2876L234.6 2873.5L235 2871.1L235.4 2868.6L235.8 2866.2L236.3 2863.7L236.7 2861.3L237 2858.8L237.4 2856.4L237.8 2853.9L238.2 2851.5L238.6 2849L238.9 2846.5L239.3 2844.1L239.7 2841.6L240 2839.1L240.4 2836.7L240.8 2834.2L241.1 2831.7L241.5 2829.3L241.8 2826.8L242.2 2824.3L242.5 2821.8L242.9 2819.4L243.2 2816.9L243.5 2814.4L243.9 2811.9L244.2 2809.4L244.6 2807L244.9 2804.5L245.2 2802L245.6 2799.5L245.9 2797L246.3 2794.5L246.6 2792.1L246.9 2789.6L247.3 2787.1L247.6 2784.6L248 2782.1L248.3 2779.6L248.7 2777.2L249 2774.7L249.4 2772.2L249.7 2769.7L250.1 2767.2L250.5 2764.7L250.8 2762.3L251.2 2759.8L251.6 2757.3L251.9 2754.8L252.3 2752.4L252.7 2749.9L253.1 2747.4L253.5 2744.9L253.9 2742.5L254.3 2740L254.7 2737.5L255.1 2735.1L255.5 2732.6L255.9 2730.1L256.4 2727.7L256.8 2725.2L257.2 2722.8L257.7 2720.3L258.1 2717.9L258.6 2715.4L259.1 2713L259.5 2710.5L260 2708.1L260.5 2705.6L261 2703.2L261.5 2700.8L262 2698.3L262.6 2695.9L263.1 2693.5L263.6 2691.1L264.2 2688.6L264.7 2686.2L265.3 2683.8L265.9 2681.4L266.5 2679L267.1 2676.6L267.7 2674.2L268.3 2671.7L268.9 2669.3L269.5 2666.9L270.1 2664.5L270.8 2662.1L271.4 2659.7L272.1 2657.3L272.8 2654.9L273.4 2652.4L274.1 2650L274.8 2647.6L275.5 2645.2L276.2 2642.8L277 2640.3L277.7 2637.9L278.4 2635.5L279.2 2633L279.9 2630.6L280.7 2628.2L281.5 2625.8L282.4 2623.4L283.3 2621L284.2 2618.6L285.1 2616.3L286.1 2614L287.1 2611.7L288.1 2609.4L289.2 2607.2L290.4 2605L291.6 2602.8L292.8 2600.7L294.2 2598.6L295.5 2596.5L297 2594.5L298.5 2592.6L300.1 2590.7L301.7 2589L303.5 2587.7L305.4 2586.8L307.4 2586.6L309.5 2586.9L311.6 2587.7L313.5 2588.9L315.2 2590.3L316.7 2592.1L318.1 2594L319.3 2596.1L320.5 2598.4L321.5 2600.8L322.4 2603.3L323.3 2605.8L324.2 2608.4L325 2610.9L325.8 2613.5L326.6 2616L327.3 2618.5L328.1 2621L328.8 2623.4L329.5 2625.9L330.1 2628.4L330.8 2630.8L331.4 2633.3L332.1 2635.7L332.7 2638.1L333.3 2640.6L333.9 2643L334.5 2645.4L335 2647.8L335.6 2650.2L336.2 2652.6L336.7 2655L337.3 2657.4L337.8 2659.8L338.4 2662.3L338.9 2664.7L339.4 2667.1L340 2669.5L340.5 2671.9L341.1 2674.3L341.6 2676.8L342.1 2679.2L342.7 2681.6L343.2 2684L343.7 2686.4L344.3 2688.9L344.8 2691.3L345.3 2693.7L345.9 2696.2L346.4 2698.6L346.9 2701L347.4 2703.5L348 2705.9L348.5 2708.3L349 2710.8L349.5 2713.2L350 2715.6L350.5 2718.1L351 2720.5L351.6 2723L352.1 2725.4L352.6 2727.9L353.1 2730.3L353.6 2732.7L354.1 2735.2L354.6 2737.6L355.1 2740.1L355.5 2742.5L356 2745L356.5 2747.5L357 2749.9L357.5 2752.4L358 2754.8L358.4 2757.3L358.9 2759.7L359.4 2762.2L359.9 2764.7L360.3 2767.1L360.8 2769.6L361.3 2772L361.7 2774.5L362.2 2777L362.6 2779.4L363.1 2781.9L363.5 2784.4L364 2786.8L364.4 2789.3L364.9 2791.8L365.3 2794.2L365.7 2796.7L366.2 2799.2L366.6 2801.6L367 2804.1L367.5 2806.6L367.9 2809L368.3 2811.5L368.7 2814L369.1 2816.5L369.5 2818.9L369.9 2821.4L370.3 2823.9L370.7 2826.4L371.1 2828.8L371.5 2831.3L371.9 2833.8L372.3 2836.3L372.7 2838.7L373.1 2841.2L373.4 2843.7L373.8 2846.2L374.2 2848.6L374.5 2851.1L374.9 2853.6L375.2 2856.1L375.6 2858.6L376 2861L376.3 2863.5L376.6 2866L377 2868.5L377.3 2870.9L377.7 2873.4L378 2875.9L378.3 2878.4L378.6 2880.9L379 2883.3L379.3 2885.8L379.6 2888.3L379.9 2890.8L380.2 2893.3L380.6 2895.7L380.9 2898.2L381.2 2900.7L381.5 2903.2L381.8 2905.6L382.1 2908.1L382.4 2910.6L382.7 2913.1L383 2915.6L383.3 2918L383.6 2920.5L383.9 2923L384.2 2925.5L384.5 2928L384.8 2930.4L385.1 2932.9L385.4 2935.4L385.7 2937.9L386 2940.4L386.2 2942.8L386.5 2945.3L386.8 2947.8L387.1 2950.3L387.4 2952.8L387.7 2955.2L388 2957.7L388.3 2960.2L388.6 2962.7L388.9 2965.2L389.2 2967.6L389.5 2970.1L389.8 2972.6L390.1 2975.1L390.4 2977.5L390.6 2980L390.9 2982.5L391.2 2985L391.6 2987.5L391.9 2989.9L392.2 2992.4L392.5 2994.9L392.8 2997.4L393.1 2999.8L393.4 3002.3L393.7 3004.8L394 3007.3L394.4 3009.7L394.7 3012.2L395 3014.7L395.3 3017.2L395.7 3019.6L396 3022.1L396.3 3024.6L396.7 3027.1L397 3029.5L397.3 3032L397.7 3034.5L398 3036.9L398.4 3039.4L398.8 3041.9L399.1 3044.4L399.5 3046.8L399.8 3049.3L400.2 3051.8L400.6 3054.2L401 3056.7L401.4 3059.2L401.7 3061.6L402.1 3064.1L402.5 3066.6L402.9 3069L403.3 3071.5L403.7 3074L404.1 3076.4L404.5 3078.9L405 3081.4L405.4 3083.8L405.8 3086.3L406.2 3088.8L406.7 3091.2L407.1 3093.7L407.5 3096.2L408 3098.6L408.4 3101.1L408.8 3103.5L409.3 3106L409.7 3108.5L410.2 3110.9L410.6 3113.4L411.1 3115.8L411.5 3118.3L412 3120.8L412.5 3123.2L412.9 3125.7L413.4 3128.1L413.9 3130.6L414.3 3133.1L414.8 3135.5L415.3 3138L415.8 3140.4L416.2 3142.9L416.7 3145.3L417.2 3147.8L417.7 3150.3L418.2 3152.7L418.6 3155.2L419.1 3157.6L419.6 3160.1L420.1 3162.5L420.6 3165L421.1 3167.4L421.6 3169.9L422.1 3172.3L422.6 3174.8L423.1 3177.3L423.6 3179.7L424.1 3182.2L424.6 3184.6L425.1 3187.1L425.6 3189.5L426.1 3192L426.6 3194.4L427.1 3196.9L427.6 3199.3L428.1 3201.8L428.6 3204.2L429.1 3206.7L429.6 3209.1L430.1 3211.6L430.6 3214L431.1 3216.5L431.6 3218.9L432.2 3221.4L432.7 3223.8L433.2 3226.2L433.7 3228.7L434.2 3231.1L434.7 3233.6L435.2 3236L435.7 3238.5L436.2 3240.9L436.7 3243.4L437.2 3245.8L437.7 3248.3L438.2 3250.7L438.7 3253.2L439.2 3255.6L439.7 3258L440.2 3260.5L440.7 3262.9L441.2 3265.4L441.8 3267.8L442.3 3270.2L442.8 3272.7L443.3 3275.1L443.9 3277.5L444.4 3280L445 3282.4L445.6 3284.8L446.2 3287.2L446.8 3289.6L447.4 3292L448 3294.5L448.7 3296.9L449.3 3299.3L450 3301.6L450.7 3304L451.4 3306.4L452.1 3308.8L452.9 3311.2L453.7 3313.5L454.5 3315.9L455.3 3318.2L456.1 3320.6L457 3322.9L457.9 3325.3L458.8 3327.6L459.8 3329.9L460.8 3332.2L461.8 3334.5L462.8 3336.8L463.9 3339.1L465 3341.4L466.1 3343.7L467.3 3345.9L468.5 3348.2L469.7 3350.4L471 3352.6L472.2 3354.8L473.5 3357L474.9 3359.2L476.2 3361.3L477.6 3363.5L479 3365.6L480.5 3367.7L481.9 3369.8L483.4 3371.8L484.9 3373.9L486.5 3375.9L488 3377.9L489.6 3379.9L491.2 3381.8L492.9 3383.7L494.5 3385.6L496.2 3387.5L497.9 3389.3L499.6 3391.1L501.4 3392.9L503.1 3394.6L504.9 3396.4L506.7 3398L508.6 3399.7L510.4 3401.3L512.3 3402.9L514.2 3404.5L516.1 3406L518 3407.6L520 3409L521.9 3410.5L523.9 3411.9L525.9 3413.3L527.9 3414.7L530 3416.1L532 3417.4L534.1 3418.7L536.2 3420L538.3 3421.3L540.4 3422.5L542.5 3423.7L544.7 3424.9L546.8 3426.1L549 3427.2L551.2 3428.3L553.4 3429.4L555.6 3430.5L557.8 3431.6L560.1 3432.6L562.3 3433.6L564.6 3434.6L566.9 3435.6L569.2 3436.6L571.5 3437.5L573.8 3438.4L576.1 3439.3L578.4 3440.2L580.8 3441.1L583.1 3441.9L585.5 3442.7L587.8 3443.6L590.2 3444.4L592.6 3445.1L595 3445.9L597.4 3446.7L599.8 3447.4L602.2 3448.1L604.6 3448.8L607 3449.5L609.4 3450.2L611.9 3450.9L614.3 3451.5L616.8 3452.2L619.2 3452.8L621.7 3453.4L624.1 3454.1L626.6 3454.7L629 3455.2L631.5 3455.8L634 3456.4L636.5 3457L638.9 3457.5L641.4 3458L643.9 3458.6L646.4 3459.1L648.8 3459.6L651.3 3460.1L653.8 3460.6L656.3 3461.1L658.7 3461.6L661.2 3462.1L663.7 3462.6L666.2 3463L668.7 3463.5L671.1 3464L673.6 3464.4L676.1 3464.8L678.6 3465.3L681.1 3465.7L683.5 3466.1L686 3466.5L688.5 3466.9L691 3467.3L693.5 3467.7L696 3468.1L698.4 3468.5L700.9 3468.9L703.4 3469.3L705.9 3469.6L708.4 3470L710.8 3470.3L713.3 3470.7L715.8 3471L718.3 3471.3L720.8 3471.7L723.3 3472L725.7 3472.3L728.2 3472.6L730.7 3472.9L733.2 3473.2L735.7 3473.5L738.2 3473.8L740.7 3474.1L743.1 3474.4L745.6 3474.6L748.1 3474.9L750.6 3475.2L753.1 3475.4L755.6 3475.7L758 3475.9L760.5 3476.2L763 3476.4L765.5 3476.7L768 3476.9L770.5 3477.1L773 3477.3L775.5 3477.5L777.9 3477.8L780.4 3478L782.9 3478.2L785.4 3478.4L787.9 3478.5L790.4 3478.7L792.9 3478.9L795.4 3479.1L797.8 3479.3L800.3 3479.5L802.8 3479.6L805.3 3479.8L807.8 3479.9L810.3 3480.1L812.8 3480.3L815.3 3480.4L817.8 3480.5L820.2 3480.7L822.7 3480.8L825.2 3481L827.7 3481.1L830.2 3481.2L832.7 3481.3L835.2 3481.5L837.7 3481.6L840.2 3481.7L842.7 3481.8L845.2 3481.9L847.6 3482L850.1 3482.1L852.6 3482.2L855.1 3482.3L857.6 3482.4L860.1 3482.5L862.6 3482.6L865.1 3482.7L867.6 3482.8L870.1 3482.9L872.6 3482.9L875.1 3483L877.5 3483.1L880 3483.2L882.5 3483.2L885 3483.3L887.5 3483.4L890 3483.4L892.5 3483.5L895 3483.5L897.5 3483.6L900 3483.7L902.5 3483.7L905 3483.8L907.5 3483.8L910 3483.9L912.5 3483.9L914.9 3484L917.4 3484L919.9 3484L922.4 3484.1L924.9 3484.1L927.4 3484.1L929.9 3484.2L932.4 3484.2L934.9 3484.2L937.4 3484.3L939.9 3484.3L942.4 3484.3L944.9 3484.3L947.4 3484.4L949.9 3484.4L952.4 3484.4L954.9 3484.4L957.4 3484.4L959.9 3484.4L962.4 3484.5L964.9 3484.5L967.3 3484.5L969.8 3484.5L972.3 3484.5L974.8 3484.5L977.3 3484.5L979.8 3484.5L982.3 3484.5L984.8 3484.5L987.3 3484.5L989.8 3484.5L992.3 3484.5L994.8 3484.5L997.3 3484.4L999.8 3484.4L1002.3 3484.4L1004.8 3484.4L1007.3 3484.4L1009.8 3484.4L1012.3 3484.4L1014.8 3484.3L1017.3 3484.3L1019.8 3484.3L1022.3 3484.3L1024.8 3484.2L1027.3 3484.2L1029.8 3484.2L1032.3 3484.2L1034.8 3484.1L1037.3 3484.1L1039.8 3484.1L1042.3 3484L1044.8 3484L1047.3 3484L1049.8 3483.9L1052.3 3483.9L1054.8 3483.9L1057.3 3483.8L1059.7 3483.8L1062.2 3483.7L1064.7 3483.7L1067.2 3483.6L1069.7 3483.6L1072.2 3483.5L1074.7 3483.5L1077.2 3483.5L1079.7 3483.4L1082.2 3483.4L1084.7 3483.3L1087.2 3483.2L1089.7 3483.2L1092.2 3483.1L1094.7 3483.1L1097.2 3483L1099.7 3483L1102.2 3482.9L1104.7 3482.8L1107.2 3482.8L1109.7 3482.7L1112.2 3482.7L1114.7 3482.6L1117.2 3482.5L1119.7 3482.5L1122.2 3482.4L1124.7 3482.3L1127.2 3482.3L1129.7 3482.2L1132.2 3482.1L1134.7 3482.1L1137.2 3482L1139.7 3481.9L1142.2 3481.9L1144.7 3481.8L1147.2 3481.7L1149.7 3481.6L1152.2 3481.6L1154.7 3481.5L1157.2 3481.4L1159.7 3481.4L1162.2 3481.3L1164.7 3481.2L1167.2 3481.1L1169.7 3481L1172.2 3481L1174.7 3480.9L1177.2 3480.8L1179.7 3480.7L1182.2 3480.7L1184.7 3480.6L1187.2 3480.5L1189.7 3480.4L1192.2 3480.3L1194.7 3480.2L1197.2 3480.2L1199.7 3480.1L1202.2 3480L1204.7 3479.9L1207.2 3479.8L1209.7 3479.7L1212.2 3479.7L1214.7 3479.6L1217.2 3479.5L1219.7 3479.4L1222.2 3479.3L1224.7 3479.2L1227.2 3479.2L1229.7 3479.1L1232.2 3479L1234.7 3478.9L1237.2 3478.8L1239.7 3478.7L1242.2 3478.6L1244.7 3478.5L1247.2 3478.5L1249.7 3478.4L1252.2 3478.3L1254.7 3478.2L1257.2 3478.1L1259.7 3478L1262.2 3477.9L1264.7 3477.8L1267.2 3477.8L1269.7 3477.7L1272.2 3477.6L1274.7 3477.5L1277.2 3477.4L1279.7 3477.3L1282.2 3477.2L1284.7 3477.1L1287.2 3477.1L1289.7 3477L1292.2 3476.9L1294.7 3476.8L1297.2 3476.7L1299.7 3476.6L1302.2 3476.5L1304.7 3476.4L1307.2 3476.4L1309.7 3476.3L1312.2 3476.2L1314.7 3476.1L1317.2 3476L1319.7 3475.9L1322.2 3475.8L1324.7 3475.8L1327.2 3475.7L1329.7 3475.6L1332.2 3475.5L1334.7 3475.4L1337.2 3475.3L1339.7 3475.2L1342.2 3475.2L1344.7 3475.1L1347.2 3475L1349.7 3474.9L1352.2 3474.8L1354.7 3474.7L1357.2 3474.7L1359.7 3474.6L1362.2 3474.5L1364.7 3474.4L1367.2 3474.3L1369.7 3474.2L1372.2 3474.1L1374.7 3474.1L1377.2 3474L1379.7 3473.9L1382.2 3473.8L1384.7 3473.7L1387.2 3473.6L1389.7 3473.6L1392.2 3473.5L1394.7 3473.4L1397.2 3473.3L1399.7 3473.2L1402.2 3473.2L1404.7 3473.1L1407.2 3473L1409.7 3472.9L1412.2 3472.8L1414.7 3472.7L1417.2 3472.7L1419.7 3472.6L1422.2 3472.5L1424.7 3472.4L1427.2 3472.3L1429.7 3472.3L1432.2 3472.2L1434.7 3472.1L1437.2 3472L1439.7 3471.9L1442.2 3471.8L1444.7 3471.8L1447.2 3471.7L1449.7 3471.6L1452.2 3471.5L1454.7 3471.4L1457.2 3471.4L1459.7 3471.3L1462.2 3471.2L1464.7 3471.1L1467.2 3471L1469.7 3471L1472.2 3470.9L1474.7 3470.8L1477.2 3470.7L1479.7 3470.7L1482.2 3470.6L1484.6 3470.5L1487.1 3470.4L1489.6 3470.3L1492.1 3470.3L1494.6 3470.2L1497.1 3470.1L1499.6 3470L1502.1 3469.9L1504.6 3469.9L1507.1 3469.8L1509.6 3469.7L1512.1 3469.6L1514.6 3469.6L1517.1 3469.5L1519.6 3469.4L1522.1 3469.3L1524.6 3469.2L1527.1 3469.2L1529.6 3469.1L1532.1 3469L1534.6 3468.9L1537.1 3468.9L1539.6 3468.8L1542.1 3468.7L1544.6 3468.6L1547.1 3468.6L1549.6 3468.5L1552.1 3468.4L1554.6 3468.3L1557.1 3468.3L1559.6 3468.2L1562.1 3468.1L1564.6 3468L1567.1 3467.9L1569.6 3467.9L1572.1 3467.8L1574.6 3467.7L1577.1 3467.6L1579.6 3467.6L1582.1 3467.5L1584.6 3467.4L1587.1 3467.3L1589.6 3467.3L1592.1 3467.2L1594.6 3467.1L1597.1 3467L1599.6 3467L1602.1 3466.9L1604.6 3466.8L1607.1 3466.8L1609.6 3466.7L1612.1 3466.6L1614.5 3466.5L1617 3466.5L1619.5 3466.4L1622 3466.3L1624.5 3466.2L1627 3466.2L1629.5 3466.1L1632 3466L1634.5 3465.9L1637 3465.9L1639.5 3465.8L1642 3465.7L1644.5 3465.6L1647 3465.6L1649.5 3465.5L1652 3465.4L1654.5 3465.4L1657 3465.3L1659.5 3465.2L1662 3465.1L1664.5 3465.1L1667 3465L1669.5 3464.9L1672 3464.9L1674.5 3464.8L1677 3464.7L1679.5 3464.6L1682 3464.6L1684.5 3464.5L1687 3464.4L1689.5 3464.4L1692 3464.3L1694.5 3464.2L1697 3464.1L1699.5 3464.1L1702 3464L1704.5 3463.9L1707 3463.9L1709.5 3463.8L1712 3463.7L1714.5 3463.6L1717 3463.6L1719.4 3463.5L1721.9 3463.4L1724.4 3463.4L1726.9 3463.3L1729.4 3463.2L1731.9 3463.2L1734.4 3463.1L1736.9 3463L1739.4 3462.9L1741.9 3462.9L1744.4 3462.8L1746.9 3462.7L1749.4 3462.7L1751.9 3462.6L1754.4 3462.5L1756.9 3462.5L1759.4 3462.4L1761.9 3462.3L1764.4 3462.2L1766.9 3462.2L1769.4 3462.1L1771.9 3462L1774.4 3462L1776.9 3461.9L1779.4 3461.8L1781.9 3461.8L1784.4 3461.7L1786.9 3461.6L1789.4 3461.6L1791.9 3461.5L1794.4 3461.4L1796.9 3461.4L1799.4 3461.3L1801.9 3461.2L1804.4 3461.2L1806.9 3461.1L1809.4 3461L1811.9 3460.9L1814.4 3460.9L1816.9 3460.8L1819.3 3460.7L1821.8 3460.7L1824.3 3460.6L1826.8 3460.5L1829.3 3460.5L1831.8 3460.4L1834.3 3460.3L1836.8 3460.3L1839.3 3460.2L1841.8 3460.1L1844.3 3460.1L1846.8 3460L1849.3 3459.9L1851.8 3459.9L1854.3 3459.8L1856.8 3459.7L1859.3 3459.7L1861.8 3459.6L1864.3 3459.5L1866.8 3459.5L1869.3 3459.4L1871.8 3459.3L1874.3 3459.3L1876.8 3459.2L1879.3 3459.1L1881.8 3459.1L1884.3 3459L1886.8 3458.9L1889.3 3458.9L1891.8 3458.8L1894.3 3458.8L1896.8 3458.7L1899.3 3458.6L1901.8 3458.6L1904.3 3458.5L1906.8 3458.4L1909.3 3458.4L1911.8 3458.3L1914.3 3458.2L1916.8 3458.2L1919.2 3458.1L1921.7 3458L1924.2 3458L1926.7 3457.9L1929.2 3457.8L1931.7 3457.8L1934.2 3457.7L1936.7 3457.6L1939.2 3457.6L1941.7 3457.5L1944.2 3457.5L1946.7 3457.4L1949.2 3457.3L1951.7 3457.3L1954.2 3457.2L1956.7 3457.1L1959.2 3457.1L1961.7 3457L1964.2 3456.9L1966.7 3456.9L1969.2 3456.8L1971.7 3456.7L1974.2 3456.7L1976.7 3456.6L1979.2 3456.6L1981.7 3456.5L1984.2 3456.4L1986.7 3456.4L1989.2 3456.3L1991.7 3456.2L1994.2 3456.2L1996.7 3456.1L1999.2 3456L2001.7 3456L2004.2 3455.9L2006.7 3455.9L2009.2 3455.8L2011.7 3455.7L2014.2 3455.7L2016.7 3455.6L2019.2 3455.5L2021.7 3455.5L2024.2 3455.4L2026.7 3455.4L2029.1 3455.3L2031.6 3455.2L2034.1 3455.2L2036.6 3455.1L2039.1 3455L2041.6 3455L2044.1 3454.9L2046.6 3454.9L2049.1 3454.8L2051.6 3454.7L2054.1 3454.7L2056.6 3454.6L2059.1 3454.5L2061.6 3454.5L2064.1 3454.4L2066.6 3454.4L2069.1 3454.3L2071.6 3454.2L2074.1 3454.2L2076.6 3454.1L2079.1 3454L2081.6 3454L2084.1 3453.9L2086.6 3453.9L2089.1 3453.8L2091.6 3453.7L2094.1 3453.7L2096.6 3453.6L2099.1 3453.6L2101.6 3453.5L2104.1 3453.4L2106.6 3453.4L2109.1 3453.3L2111.6 3453.2L2114.1 3453.2L2116.6 3453.1L2119.1 3453.1L2121.6 3453L2124.1 3452.9L2126.6 3452.9L2129.1 3452.8L2131.6 3452.8L2134.1 3452.7L2136.6 3452.6L2139.1 3452.6L2141.6 3452.5L2144.1 3452.5L2146.6 3452.4L2149.1 3452.3L2151.6 3452.3L2154.1 3452.2L2156.6 3452.1L2159.1 3452.1L2161.6 3452L2164.1 3452L2166.6 3451.9L2169.1 3451.8L2171.6 3451.8L2174.1 3451.7L2176.6 3451.7L2179.1 3451.6L2181.5 3451.5L2184 3451.5L2186.5 3451.4L2189 3451.4L2191.5 3451.3L2194 3451.2L2196.5 3451.2L2199 3451.1L2201.5 3451.1L2204 3451L2206.5 3450.9L2209 3450.9L2211.5 3450.8L2214 3450.8L2216.5 3450.7L2219 3450.6L2221.5 3450.6L2224 3450.5L2226.5 3450.5L2229 3450.4L2231.5 3450.3L2234 3450.3L2236.5 3450.2L2239 3450.2L2241.5 3450.1L2244 3450L2246.5 3450L2249 3449.9L2251.5 3449.9L2254 3449.8L2256.5 3449.7L2259 3449.7L2261.5 3449.6L2264 3449.6L2266.5 3449.5L2269 3449.5L2271.5 3449.4L2274 3449.3L2276.5 3449.3L2279 3449.2L2281.5 3449.2L2284 3449.1L2286.5 3449L2289 3449L2291.5 3448.9L2294 3448.9L2296.5 3448.8L2299 3448.7L2301.5 3448.7L2304 3448.6L2306.5 3448.6L2309 3448.5L2311.5 3448.4L2314 3448.4L2316.5 3448.3L2319 3448.3L2321.5 3448.2L2324 3448.2L2326.5 3448.1L2329 3448L2331.5 3448L2334 3447.9L2336.5 3447.9L2339 3447.8L2341.5 3447.7L2344 3447.7L2346.5 3447.6L2349 3447.6L2351.5 3447.5L2354 3447.4L2356.5 3447.4L2359 3447.3L2361.5 3447.3L2364 3447.2L2366.5 3447.2L2369 3447.1L2371.5 3447L2374 3447L2376.5 3446.9L2379 3446.9L2381.5 3446.8L2384 3446.7L2386.5 3446.7L2389 3446.6L2391.5 3446.6L2394 3446.5L2396.5 3446.4L2399 3446.4L2401.5 3446.3L2404 3446.3L2406.5 3446.2L2409 3446.2L2411.5 3446.1L2414 3446L2416.5 3446L2419 3445.9L2421.5 3445.9L2424 3446.2"/>
</g>
<path d="M230 3535.9V3515.4M230 2545.2V2565.7M449.5 3535.9V3515.4M449.5 2545.2V2565.7M668.9 3535.9V3515.4M668.9 2545.2V2565.7M888.4 3535.9V3515.4M888.4 2545.2V2565.7M1107.8 3535.9V3515.4M1107.8 2545.2V2565.7M1327.2 3535.9V3515.4M1327.2 2545.2V2565.7M1546.7 3535.9V3515.4M1546.7 2545.2V2565.7M1766.1 3535.9V3515.4M1766.1 2545.2V2565.7M1985.6 3535.9V3515.4M1985.6 2545.2V2565.7M2205.1 3535.9V3515.4M2205.1 2545.2V2565.7M2424.5 3535.9V3515.4M2424.5 2545.2V2565.7" stroke="#262626" stroke-width="1.5" fill="none"/>
<path d="M230 3535.9H252.8M2424.5 3535.9H2401.8M230 3370.8H252.8M2424.5 3370.8H2401.8M230 3205.7H252.8M2424.5 3205.7H2401.8M230 3040.6H252.8M2424.5 3040.6H2401.8M230 2875.4H252.8M2424.5 2875.4H2401.8M230 2710.3H252.8M2424.5 2710.3H2401.8M230 2545.2H252.8M2424.5 2545.2H2401.8" stroke="#262626" stroke-width="1.4" fill="none"/>
<path d="M229.2 2545.2H2425.2 M229.2 3535.9H2425.2" stroke="#262626" stroke-width="1.4" fill="none"/>
<path d="M230 2544.5V3536.6 M2424.5 2544.5V3536.6" stroke="#262626" stroke-width="1.5" fill="none"/>
<text transform="translate(228.3 3604.4) scale(1.0650 1)" font-size="51.5" fill="#262626" text-anchor="middle">0</text>
<text transform="translate(447.8 3604.4) scale(1.0650 1)" font-size="51.5" fill="#262626" text-anchor="middle">5</text>
<text transform="translate(667.2 3604.4) scale(1.0650 1)" font-size="51.5" fill="#262626" text-anchor="middle">10</text>
<text transform="translate(886.6 3604.4) scale(1.0650 1)" font-size="51.5" fill="#262626" text-anchor="middle">15</text>
<text transform="translate(1106.1 3604.4) scale(1.0650 1)" font-size="51.5" fill="#262626" text-anchor="middle">20</text>
<text transform="translate(1325.5 3604.4) scale(1.0650 1)" font-size="51.5" fill="#262626" text-anchor="middle">25</text>
<text transform="translate(1545 3604.4) scale(1.0650 1)" font-size="51.5" fill="#262626" text-anchor="middle">30</text>
<text transform="translate(1764.4 3604.4) scale(1.0650 1)" font-size="51.5" fill="#262626" text-anchor="middle">35</text>
<text transform="translate(1983.9 3604.4) scale(1.0650 1)" font-size="51.5" fill="#262626" text-anchor="middle">40</text>
<text transform="translate(2203.4 3604.4) scale(1.0650 1)" font-size="51.5" fill="#262626" text-anchor="middle">45</text>
<text transform="translate(2422.8 3604.4) scale(1.0650 1)" font-size="51.5" fill="#262626" text-anchor="middle">50</text>
<text transform="translate(211 3556.9) scale(1.0650 1)" font-size="51.5" fill="#262626" text-anchor="end">0.1</text>
<text transform="translate(211 3391.8) scale(1.0650 1)" font-size="51.5" fill="#262626" text-anchor="end">0.15</text>
<text transform="translate(211 3226.7) scale(1.0650 1)" font-size="51.5" fill="#262626" text-anchor="end">0.2</text>
<text transform="translate(211 3061.6) scale(1.0650 1)" font-size="51.5" fill="#262626" text-anchor="end">0.25</text>
<text transform="translate(211 2896.4) scale(1.0650 1)" font-size="51.5" fill="#262626" text-anchor="end">0.3</text>
<text transform="translate(211 2731.3) scale(1.0650 1)" font-size="51.5" fill="#262626" text-anchor="end">0.35</text>
<text transform="translate(211 2566.2) scale(1.0650 1)" font-size="51.5" fill="#262626" text-anchor="end">0.4</text>
<rect x="2213" y="2569.5" width="184.4" height="268" fill="#ffffff" stroke="#262626" stroke-width="1.5"/>
<path d="M2221.1 2605.5H2304" stroke="#ff0000" stroke-width="6"/>
<text transform="translate(2310 2626.8) scale(1.0650 1)" font-size="51.5" fill="#000000">0.7</text>
<path d="M2221.1 2670.9H2304" stroke="#000000" stroke-width="6"/>
<text transform="translate(2310 2692.2) scale(1.0650 1)" font-size="51.5" fill="#000000">0.8</text>
<path d="M2221.1 2736.3H2304" stroke="#0000ff" stroke-width="6"/>
<text transform="translate(2310 2757.6) scale(1.0650 1)" font-size="51.5" fill="#000000">0.9</text>
<path d="M2221.1 2801.7H2304" stroke="#00ff00" stroke-width="6"/>
<text transform="translate(2310 2823) scale(1.0650 1)" font-size="51.5" fill="#000000">1.0</text>
<text transform="translate(111.9 768.7) rotate(-90) scale(0.9079 1)" font-size="61" fill="#262626">Soluble substrate</text>
<text transform="translate(127.9 2026.2) rotate(-90) scale(0.9055 1)" font-size="55.4" fill="#262626">Particulate biomass</text>
<text transform="translate(82.8 3298.7) rotate(-90) scale(0.9116 1)" font-size="55.2" fill="#262626">Solube micropollutants</text>
<text transform="translate(1308.9 1195.7) scale(1.0005 1)" font-size="58.6" fill="#262626">t</text>
<text transform="translate(1328.4 1159.8) scale(1.1590 1)" font-size="35" fill="#262626">*</text>
<text transform="translate(1309 2433.6) scale(0.9774 1)" font-size="52.8" fill="#262626">t</text>
<text transform="translate(1326.2 2402.3) scale(1.0998 1)" font-size="33.6" fill="#262626">*</text>
<text transform="translate(1319 3671.6) scale(0.9635 1)" font-size="53.5" fill="#262626">t</text>
</svg>
</body></html>
